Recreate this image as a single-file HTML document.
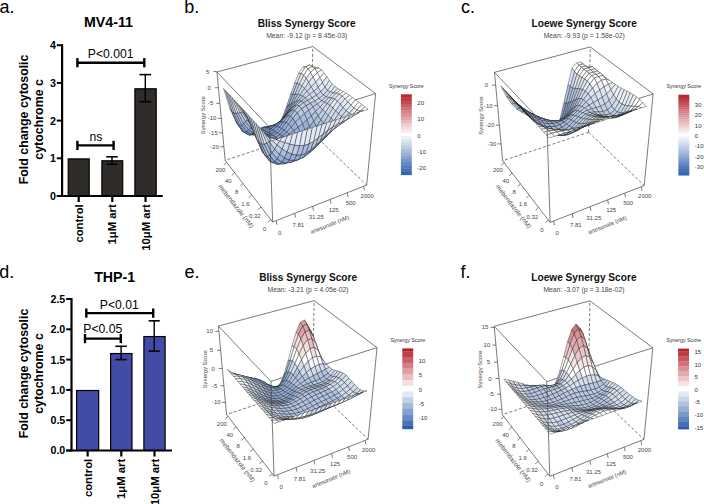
<!DOCTYPE html>
<html><head><meta charset="utf-8"><style>
html,body{margin:0;padding:0;background:#fff;width:704px;height:504px;overflow:hidden}
svg{display:block}
text{font-family:"Liberation Sans",sans-serif}
</style></head><body>
<svg width="704" height="504" viewBox="0 0 704 504">
<rect width="704" height="504" fill="#fff"/>
<text x="-0.60" y="12.90" font-size="18" font-weight="normal" text-anchor="start" fill="#000">a.</text>
<text x="184.20" y="12.60" font-size="18" font-weight="normal" text-anchor="start" fill="#000">b.</text>
<text x="461.00" y="12.80" font-size="18" font-weight="normal" text-anchor="start" fill="#000">c.</text>
<text x="-0.80" y="277.60" font-size="18" font-weight="normal" text-anchor="start" fill="#000">d.</text>
<text x="184.50" y="277.60" font-size="18" font-weight="normal" text-anchor="start" fill="#000">e.</text>
<text x="460.60" y="277.60" font-size="18" font-weight="normal" text-anchor="start" fill="#000">f.</text>
<line x1="56.80" y1="196.00" x2="62.10" y2="196.00" stroke="#000" stroke-width="2"/>
<text x="55.90" y="199.90" font-size="10.7" font-weight="bold" text-anchor="end" fill="#000">0</text>
<line x1="56.80" y1="158.30" x2="62.10" y2="158.30" stroke="#000" stroke-width="2"/>
<text x="55.90" y="162.20" font-size="10.7" font-weight="bold" text-anchor="end" fill="#000">1</text>
<line x1="56.80" y1="120.60" x2="62.10" y2="120.60" stroke="#000" stroke-width="2"/>
<text x="55.90" y="124.50" font-size="10.7" font-weight="bold" text-anchor="end" fill="#000">2</text>
<line x1="56.80" y1="82.90" x2="62.10" y2="82.90" stroke="#000" stroke-width="2"/>
<text x="55.90" y="86.80" font-size="10.7" font-weight="bold" text-anchor="end" fill="#000">3</text>
<line x1="56.80" y1="45.20" x2="62.10" y2="45.20" stroke="#000" stroke-width="2"/>
<text x="55.90" y="49.10" font-size="10.7" font-weight="bold" text-anchor="end" fill="#000">4</text>
<rect x="68.20" y="158.90" width="21.00" height="37.10" fill="#302c29" stroke="#000" stroke-width="1.2"/>
<rect x="101.90" y="160.78" width="20.80" height="35.21" fill="#302c29" stroke="#000" stroke-width="1.2"/>
<rect x="134.90" y="88.78" width="21.30" height="107.22" fill="#302c29" stroke="#000" stroke-width="1.2"/>
<line x1="112.00" y1="156.79" x2="112.00" y2="164.33" stroke="#000" stroke-width="1.4"/>
<line x1="106.30" y1="156.79" x2="117.70" y2="156.79" stroke="#000" stroke-width="1.6"/>
<line x1="106.30" y1="164.33" x2="117.70" y2="164.33" stroke="#000" stroke-width="1.6"/>
<line x1="145.30" y1="74.61" x2="145.30" y2="101.75" stroke="#000" stroke-width="1.4"/>
<line x1="139.45" y1="74.61" x2="151.15" y2="74.61" stroke="#000" stroke-width="1.6"/>
<line x1="139.45" y1="101.75" x2="151.15" y2="101.75" stroke="#000" stroke-width="1.6"/>
<line x1="62.10" y1="44.20" x2="62.10" y2="197.00" stroke="#000" stroke-width="2.2"/>
<line x1="56.80" y1="196.00" x2="162.80" y2="196.00" stroke="#000" stroke-width="2.2"/>
<line x1="78.70" y1="196.00" x2="78.70" y2="202.00" stroke="#000" stroke-width="2.2"/>
<line x1="112.30" y1="196.00" x2="112.30" y2="202.00" stroke="#000" stroke-width="2.2"/>
<line x1="145.55" y1="196.00" x2="145.55" y2="202.00" stroke="#000" stroke-width="2.2"/>
<line x1="77.40" y1="145.40" x2="113.60" y2="145.40" stroke="#000" stroke-width="2.4"/>
<line x1="77.40" y1="140.80" x2="77.40" y2="150.00" stroke="#000" stroke-width="2.4"/>
<line x1="113.60" y1="140.80" x2="113.60" y2="150.00" stroke="#000" stroke-width="2.4"/>
<text x="89.60" y="140.60" font-size="12.2" font-weight="normal" text-anchor="start" fill="#000">ns</text>
<line x1="77.40" y1="62.70" x2="144.30" y2="62.70" stroke="#000" stroke-width="2.4"/>
<line x1="77.40" y1="58.10" x2="77.40" y2="67.30" stroke="#000" stroke-width="2.4"/>
<line x1="144.30" y1="58.10" x2="144.30" y2="67.30" stroke="#000" stroke-width="2.4"/>
<text x="87.80" y="58.20" font-size="12.2" font-weight="normal" text-anchor="start" fill="#000">P&lt;0.001</text>
<text x="84.00" y="27.30" font-size="14.2" font-weight="bold" text-anchor="start" fill="#000">MV4-11</text>
<text x="28.30" y="119.40" font-size="12.35" font-weight="bold" text-anchor="middle" fill="#000" transform="rotate(-90 28.3 119.4)">Fold change cytosolic</text>
<text x="43.30" y="119.40" font-size="12.4" font-weight="bold" text-anchor="middle" fill="#000" transform="rotate(-90 43.3 119.4)">cytochrome c</text>
<text x="82.80" y="204.30" font-size="11.3" font-weight="bold" text-anchor="end" fill="#000" transform="rotate(-90 82.79999999999998 204.3)">control</text>
<text x="116.40" y="204.30" font-size="11.3" font-weight="bold" text-anchor="end" fill="#000" transform="rotate(-90 116.39999999999999 204.3)">1μM art</text>
<text x="149.65" y="204.30" font-size="11.3" font-weight="bold" text-anchor="end" fill="#000" transform="rotate(-90 149.65 204.3)">10μM art</text>
<line x1="66.20" y1="450.50" x2="71.50" y2="450.50" stroke="#000" stroke-width="2"/>
<text x="65.30" y="454.40" font-size="10.7" font-weight="bold" text-anchor="end" fill="#000">0.0</text>
<line x1="66.20" y1="420.20" x2="71.50" y2="420.20" stroke="#000" stroke-width="2"/>
<text x="65.30" y="424.10" font-size="10.7" font-weight="bold" text-anchor="end" fill="#000">0.5</text>
<line x1="66.20" y1="389.90" x2="71.50" y2="389.90" stroke="#000" stroke-width="2"/>
<text x="65.30" y="393.80" font-size="10.7" font-weight="bold" text-anchor="end" fill="#000">1.0</text>
<line x1="66.20" y1="359.60" x2="71.50" y2="359.60" stroke="#000" stroke-width="2"/>
<text x="65.30" y="363.50" font-size="10.7" font-weight="bold" text-anchor="end" fill="#000">1.5</text>
<line x1="66.20" y1="329.30" x2="71.50" y2="329.30" stroke="#000" stroke-width="2"/>
<text x="65.30" y="333.20" font-size="10.7" font-weight="bold" text-anchor="end" fill="#000">2.0</text>
<line x1="66.20" y1="299.00" x2="71.50" y2="299.00" stroke="#000" stroke-width="2"/>
<text x="65.30" y="302.90" font-size="10.7" font-weight="bold" text-anchor="end" fill="#000">2.5</text>
<rect x="76.60" y="390.50" width="22.10" height="60.00" fill="#424ba6" stroke="#000" stroke-width="1.2"/>
<rect x="110.60" y="353.53" width="21.40" height="96.97" fill="#424ba6" stroke="#000" stroke-width="1.2"/>
<rect x="143.90" y="336.57" width="21.20" height="113.93" fill="#424ba6" stroke="#000" stroke-width="1.2"/>
<line x1="121.10" y1="346.27" x2="121.10" y2="359.60" stroke="#000" stroke-width="1.4"/>
<line x1="115.40" y1="346.27" x2="126.80" y2="346.27" stroke="#000" stroke-width="1.6"/>
<line x1="115.40" y1="359.60" x2="126.80" y2="359.60" stroke="#000" stroke-width="1.6"/>
<line x1="154.20" y1="320.82" x2="154.20" y2="351.12" stroke="#000" stroke-width="1.4"/>
<line x1="148.65" y1="320.82" x2="159.75" y2="320.82" stroke="#000" stroke-width="1.6"/>
<line x1="148.65" y1="351.12" x2="159.75" y2="351.12" stroke="#000" stroke-width="1.6"/>
<line x1="71.50" y1="298.00" x2="71.50" y2="451.50" stroke="#000" stroke-width="2.2"/>
<line x1="66.20" y1="450.50" x2="171.90" y2="450.50" stroke="#000" stroke-width="2.2"/>
<line x1="87.65" y1="450.50" x2="87.65" y2="456.50" stroke="#000" stroke-width="2.2"/>
<line x1="121.30" y1="450.50" x2="121.30" y2="456.50" stroke="#000" stroke-width="2.2"/>
<line x1="154.50" y1="450.50" x2="154.50" y2="456.50" stroke="#000" stroke-width="2.2"/>
<line x1="85.00" y1="338.60" x2="120.80" y2="338.60" stroke="#000" stroke-width="2.4"/>
<line x1="85.00" y1="334.00" x2="85.00" y2="343.20" stroke="#000" stroke-width="2.4"/>
<line x1="120.80" y1="334.00" x2="120.80" y2="343.20" stroke="#000" stroke-width="2.4"/>
<text x="83.30" y="332.90" font-size="12.2" font-weight="normal" text-anchor="start" fill="#000">P&lt;0.05</text>
<line x1="86.30" y1="313.10" x2="153.20" y2="313.10" stroke="#000" stroke-width="2.4"/>
<line x1="86.30" y1="308.50" x2="86.30" y2="317.70" stroke="#000" stroke-width="2.4"/>
<line x1="153.20" y1="308.50" x2="153.20" y2="317.70" stroke="#000" stroke-width="2.4"/>
<text x="99.80" y="308.50" font-size="12.2" font-weight="normal" text-anchor="start" fill="#000">P&lt;0.01</text>
<text x="94.20" y="281.50" font-size="14.2" font-weight="bold" text-anchor="start" fill="#000">THP-1</text>
<text x="28.30" y="373.50" font-size="12.35" font-weight="bold" text-anchor="middle" fill="#000" transform="rotate(-90 28.3 373.5)">Fold change cytosolic</text>
<text x="43.30" y="373.50" font-size="12.4" font-weight="bold" text-anchor="middle" fill="#000" transform="rotate(-90 43.3 373.5)">cytochrome c</text>
<text x="91.75" y="458.80" font-size="11.3" font-weight="bold" text-anchor="end" fill="#000" transform="rotate(-90 91.75 458.8)">control</text>
<text x="125.40" y="458.80" font-size="11.3" font-weight="bold" text-anchor="end" fill="#000" transform="rotate(-90 125.39999999999999 458.8)">1μM art</text>
<text x="158.60" y="458.80" font-size="11.3" font-weight="bold" text-anchor="end" fill="#000" transform="rotate(-90 158.6 458.8)">10μM art</text>
<text x="306.70" y="27.00" font-size="10.15" font-weight="bold" text-anchor="middle" fill="#111">Bliss Synergy Score</text>
<text x="306.70" y="37.60" font-size="6.8" text-anchor="middle" fill="#4a4a4a">Mean: -9.12 (p = 8.45e-03)</text>
<line x1="311.06" y1="131.82" x2="312.76" y2="46.54" stroke="#444" stroke-width="0.7" stroke-dasharray="3,2"/>
<line x1="311.06" y1="131.82" x2="225.16" y2="160.38" stroke="#444" stroke-width="0.7" stroke-dasharray="3,2"/>
<line x1="311.06" y1="131.82" x2="366.71" y2="185.12" stroke="#444" stroke-width="0.7" stroke-dasharray="3,2"/>
<line x1="216.98" y1="71.97" x2="312.76" y2="46.54" stroke="#444" stroke-width="0.7"/>
<line x1="312.76" y1="46.54" x2="375.62" y2="93.51" stroke="#444" stroke-width="0.7"/>
<line x1="375.62" y1="93.51" x2="269.54" y2="127.30" stroke="#444" stroke-width="0.7"/>
<line x1="269.54" y1="127.30" x2="216.98" y2="71.97" stroke="#444" stroke-width="0.7"/>
<line x1="225.16" y1="160.38" x2="216.98" y2="71.97" stroke="#444" stroke-width="0.7"/>
<line x1="366.71" y1="185.12" x2="375.62" y2="93.51" stroke="#444" stroke-width="0.7"/>
<line x1="272.63" y1="221.99" x2="366.71" y2="185.12" stroke="#444" stroke-width="0.7"/>
<line x1="272.63" y1="221.99" x2="225.16" y2="160.38" stroke="#444" stroke-width="0.7"/>
<polygon points="276.7,125.5 280.8,122.0 278.6,124.2 274.6,127.8" fill="#6a8dc4" stroke="#111" stroke-width="0.38" stroke-linejoin="round"/>
<polygon points="280.8,122.0 284.8,115.0 282.6,116.8 278.6,124.2" fill="#6a8dc4" stroke="#111" stroke-width="0.38" stroke-linejoin="round"/>
<polygon points="272.6,126.6 276.7,125.5 274.6,127.8 270.5,128.5" fill="#5b82be" stroke="#111" stroke-width="0.38" stroke-linejoin="round"/>
<polygon points="268.4,126.6 272.6,126.6 270.5,128.5 266.3,127.9" fill="#6a8dc4" stroke="#111" stroke-width="0.38" stroke-linejoin="round"/>
<polygon points="284.8,115.0 288.8,105.3 286.5,106.4 282.6,116.8" fill="#89a4d0" stroke="#111" stroke-width="0.38" stroke-linejoin="round"/>
<polygon points="264.2,127.0 268.4,126.6 266.3,127.9 262.1,127.5" fill="#6a8dc4" stroke="#111" stroke-width="0.38" stroke-linejoin="round"/>
<polygon points="278.9,123.0 283.0,119.2 280.8,122.0 276.7,125.5" fill="#6a8dc4" stroke="#111" stroke-width="0.38" stroke-linejoin="round"/>
<polygon points="283.0,119.2 287.1,112.6 284.8,115.0 280.8,122.0" fill="#7998ca" stroke="#111" stroke-width="0.38" stroke-linejoin="round"/>
<polygon points="274.7,124.8 278.9,123.0 276.7,125.5 272.6,126.6" fill="#6a8dc4" stroke="#111" stroke-width="0.38" stroke-linejoin="round"/>
<polygon points="288.8,105.3 292.9,94.1 290.6,94.6 286.5,106.4" fill="#99b1d6" stroke="#111" stroke-width="0.38" stroke-linejoin="round"/>
<polygon points="260.0,129.0 264.2,127.0 262.1,127.5 257.9,128.5" fill="#6a8dc4" stroke="#111" stroke-width="0.38" stroke-linejoin="round"/>
<polygon points="270.5,125.8 274.7,124.8 272.6,126.6 268.4,126.6" fill="#6a8dc4" stroke="#111" stroke-width="0.38" stroke-linejoin="round"/>
<polygon points="255.8,131.6 260.0,129.0 257.9,128.5 253.7,130.1" fill="#6a8dc4" stroke="#111" stroke-width="0.38" stroke-linejoin="round"/>
<polygon points="287.1,112.6 291.2,103.9 288.8,105.3 284.8,115.0" fill="#89a4d0" stroke="#111" stroke-width="0.38" stroke-linejoin="round"/>
<polygon points="251.6,133.7 255.8,131.6 253.7,130.1 249.5,131.3" fill="#6a8dc4" stroke="#111" stroke-width="0.38" stroke-linejoin="round"/>
<polygon points="266.3,127.2 270.5,125.8 268.4,126.6 264.2,127.0" fill="#6a8dc4" stroke="#111" stroke-width="0.38" stroke-linejoin="round"/>
<polygon points="292.9,94.1 297.1,83.0 294.7,82.9 290.6,94.6" fill="#bbcbe4" stroke="#111" stroke-width="0.38" stroke-linejoin="round"/>
<polygon points="309.7,65.0 313.7,69.4 311.1,73.7 307.1,66.7" fill="#e3e9f4" stroke="#111" stroke-width="0.38" stroke-linejoin="round"/>
<polygon points="247.2,134.0 251.6,133.7 249.5,131.3 245.1,130.9" fill="#6a8dc4" stroke="#111" stroke-width="0.38" stroke-linejoin="round"/>
<polygon points="291.2,103.9 295.3,94.0 292.9,94.1 288.8,105.3" fill="#a9bddd" stroke="#111" stroke-width="0.38" stroke-linejoin="round"/>
<polygon points="262.1,129.6 266.3,127.2 264.2,127.0 260.0,129.0" fill="#6a8dc4" stroke="#111" stroke-width="0.38" stroke-linejoin="round"/>
<polygon points="281.1,120.4 285.2,116.1 283.0,119.2 278.9,123.0" fill="#7998ca" stroke="#111" stroke-width="0.38" stroke-linejoin="round"/>
<polygon points="276.9,123.3 281.1,120.4 278.9,123.0 274.7,124.8" fill="#7998ca" stroke="#111" stroke-width="0.38" stroke-linejoin="round"/>
<polygon points="285.2,116.1 289.4,110.0 287.1,112.6 283.0,119.2" fill="#89a4d0" stroke="#111" stroke-width="0.38" stroke-linejoin="round"/>
<polygon points="257.9,132.5 262.1,129.6 260.0,129.0 255.8,131.6" fill="#6a8dc4" stroke="#111" stroke-width="0.38" stroke-linejoin="round"/>
<polygon points="253.6,134.7 257.9,132.5 255.8,131.6 251.6,133.7" fill="#6a8dc4" stroke="#111" stroke-width="0.38" stroke-linejoin="round"/>
<polygon points="297.1,83.0 301.3,73.3 298.8,73.1 294.7,82.9" fill="#e3e9f4" stroke="#111" stroke-width="0.38" stroke-linejoin="round"/>
<polygon points="272.7,125.5 276.9,123.3 274.7,124.8 270.5,125.8" fill="#7998ca" stroke="#111" stroke-width="0.38" stroke-linejoin="round"/>
<polygon points="289.4,110.0 293.5,102.5 291.2,103.9 287.1,112.6" fill="#99b1d6" stroke="#111" stroke-width="0.38" stroke-linejoin="round"/>
<polygon points="305.5,66.8 309.7,65.0 307.1,66.7 303.0,67.1" fill="#ffffff" stroke="#111" stroke-width="0.38" stroke-linejoin="round"/>
<polygon points="242.6,131.4 247.2,134.0 245.1,130.9 240.5,127.8" fill="#6a8dc4" stroke="#111" stroke-width="0.38" stroke-linejoin="round"/>
<polygon points="295.3,94.0 299.5,84.0 297.1,83.0 292.9,94.1" fill="#bbcbe4" stroke="#111" stroke-width="0.38" stroke-linejoin="round"/>
<polygon points="249.3,135.0 253.6,134.7 251.6,133.7 247.2,134.0" fill="#6a8dc4" stroke="#111" stroke-width="0.38" stroke-linejoin="round"/>
<polygon points="268.5,127.8 272.7,125.5 270.5,125.8 266.3,127.2" fill="#7998ca" stroke="#111" stroke-width="0.38" stroke-linejoin="round"/>
<polygon points="301.3,73.3 305.5,66.8 303.0,67.1 298.8,73.1" fill="#ffffff" stroke="#111" stroke-width="0.38" stroke-linejoin="round"/>
<polygon points="312.2,66.4 316.3,67.7 313.7,69.4 309.7,65.0" fill="#ffffff" stroke="#111" stroke-width="0.38" stroke-linejoin="round"/>
<polygon points="264.3,130.5 268.5,127.8 266.3,127.2 262.1,129.6" fill="#7998ca" stroke="#111" stroke-width="0.38" stroke-linejoin="round"/>
<polygon points="293.5,102.5 297.7,94.2 295.3,94.0 291.2,103.9" fill="#a9bddd" stroke="#111" stroke-width="0.38" stroke-linejoin="round"/>
<polygon points="260.0,133.1 264.3,130.5 262.1,129.6 257.9,132.5" fill="#6a8dc4" stroke="#111" stroke-width="0.38" stroke-linejoin="round"/>
<polygon points="299.5,84.0 303.8,75.2 301.3,73.3 297.1,83.0" fill="#e3e9f4" stroke="#111" stroke-width="0.38" stroke-linejoin="round"/>
<polygon points="255.7,134.7 260.0,133.1 257.9,132.5 253.6,134.7" fill="#6a8dc4" stroke="#111" stroke-width="0.38" stroke-linejoin="round"/>
<polygon points="283.4,118.1 287.6,113.3 285.2,116.1 281.1,120.4" fill="#89a4d0" stroke="#111" stroke-width="0.38" stroke-linejoin="round"/>
<polygon points="244.7,132.4 249.3,135.0 247.2,134.0 242.6,131.4" fill="#6a8dc4" stroke="#111" stroke-width="0.38" stroke-linejoin="round"/>
<polygon points="279.2,122.1 283.4,118.1 281.1,120.4 276.9,123.3" fill="#89a4d0" stroke="#111" stroke-width="0.38" stroke-linejoin="round"/>
<polygon points="308.0,68.7 312.2,66.4 309.7,65.0 305.5,66.8" fill="#ffffff" stroke="#111" stroke-width="0.38" stroke-linejoin="round"/>
<polygon points="287.6,113.3 291.8,107.6 289.4,110.0 285.2,116.1" fill="#99b1d6" stroke="#111" stroke-width="0.38" stroke-linejoin="round"/>
<polygon points="274.9,125.7 279.2,122.1 276.9,123.3 272.7,125.5" fill="#7998ca" stroke="#111" stroke-width="0.38" stroke-linejoin="round"/>
<polygon points="297.7,94.2 302.0,85.9 299.5,84.0 295.3,94.0" fill="#ced9eb" stroke="#111" stroke-width="0.38" stroke-linejoin="round"/>
<polygon points="303.8,75.2 308.0,68.7 305.5,66.8 301.3,73.3" fill="#ffffff" stroke="#111" stroke-width="0.38" stroke-linejoin="round"/>
<polygon points="270.7,128.8 274.9,125.7 272.7,125.5 268.5,127.8" fill="#7998ca" stroke="#111" stroke-width="0.38" stroke-linejoin="round"/>
<polygon points="251.3,134.5 255.7,134.7 253.6,134.7 249.3,135.0" fill="#6a8dc4" stroke="#111" stroke-width="0.38" stroke-linejoin="round"/>
<polygon points="314.8,68.6 319.0,68.0 316.3,67.7 312.2,66.4" fill="#ffffff" stroke="#111" stroke-width="0.38" stroke-linejoin="round"/>
<polygon points="291.8,107.6 296.0,101.4 293.5,102.5 289.4,110.0" fill="#a9bddd" stroke="#111" stroke-width="0.38" stroke-linejoin="round"/>
<polygon points="237.7,124.5 242.6,131.4 240.5,127.8 235.5,120.8" fill="#7998ca" stroke="#111" stroke-width="0.38" stroke-linejoin="round"/>
<polygon points="266.4,131.6 270.7,128.8 268.5,127.8 264.3,130.5" fill="#7998ca" stroke="#111" stroke-width="0.38" stroke-linejoin="round"/>
<polygon points="302.0,85.9 306.3,78.3 303.8,75.2 299.5,84.0" fill="#e3e9f4" stroke="#111" stroke-width="0.38" stroke-linejoin="round"/>
<polygon points="296.0,101.4 300.2,94.9 297.7,94.2 293.5,102.5" fill="#bbcbe4" stroke="#111" stroke-width="0.38" stroke-linejoin="round"/>
<polygon points="262.1,133.6 266.4,131.6 264.3,130.5 260.0,133.1" fill="#7998ca" stroke="#111" stroke-width="0.38" stroke-linejoin="round"/>
<polygon points="310.5,72.3 314.8,68.6 312.2,66.4 308.0,68.7" fill="#ffffff" stroke="#111" stroke-width="0.38" stroke-linejoin="round"/>
<polygon points="306.3,78.3 310.5,72.3 308.0,68.7 303.8,75.2" fill="#ffffff" stroke="#111" stroke-width="0.38" stroke-linejoin="round"/>
<polygon points="257.8,134.3 262.1,133.6 260.0,133.1 255.7,134.7" fill="#7998ca" stroke="#111" stroke-width="0.38" stroke-linejoin="round"/>
<polygon points="300.2,94.9 304.5,88.4 302.0,85.9 297.7,94.2" fill="#ced9eb" stroke="#111" stroke-width="0.38" stroke-linejoin="round"/>
<polygon points="246.6,131.6 251.3,134.5 249.3,135.0 244.7,132.4" fill="#7998ca" stroke="#111" stroke-width="0.38" stroke-linejoin="round"/>
<polygon points="317.3,72.7 321.6,69.9 319.0,68.0 314.8,68.6" fill="#ffffff" stroke="#111" stroke-width="0.38" stroke-linejoin="round"/>
<polygon points="239.7,125.6 244.7,132.4 242.6,131.4 237.7,124.5" fill="#7998ca" stroke="#111" stroke-width="0.38" stroke-linejoin="round"/>
<polygon points="277.2,126.3 281.4,121.6 279.2,122.1 274.9,125.7" fill="#89a4d0" stroke="#111" stroke-width="0.38" stroke-linejoin="round"/>
<polygon points="281.4,121.6 285.7,116.4 283.4,118.1 279.2,122.1" fill="#89a4d0" stroke="#111" stroke-width="0.38" stroke-linejoin="round"/>
<polygon points="304.5,88.4 308.8,82.3 306.3,78.3 302.0,85.9" fill="#e3e9f4" stroke="#111" stroke-width="0.38" stroke-linejoin="round"/>
<polygon points="273.0,130.1 277.2,126.3 274.9,125.7 270.7,128.8" fill="#7998ca" stroke="#111" stroke-width="0.38" stroke-linejoin="round"/>
<polygon points="285.7,116.4 289.9,111.0 287.6,113.3 283.4,118.1" fill="#99b1d6" stroke="#111" stroke-width="0.38" stroke-linejoin="round"/>
<polygon points="313.1,77.0 317.3,72.7 314.8,68.6 310.5,72.3" fill="#ffffff" stroke="#111" stroke-width="0.38" stroke-linejoin="round"/>
<polygon points="268.7,132.8 273.0,130.1 270.7,128.8 266.4,131.6" fill="#7998ca" stroke="#111" stroke-width="0.38" stroke-linejoin="round"/>
<polygon points="308.8,82.3 313.1,77.0 310.5,72.3 306.3,78.3" fill="#e3e9f4" stroke="#111" stroke-width="0.38" stroke-linejoin="round"/>
<polygon points="289.9,111.0 294.2,105.9 291.8,107.6 287.6,113.3" fill="#a9bddd" stroke="#111" stroke-width="0.38" stroke-linejoin="round"/>
<polygon points="253.2,133.2 257.8,134.3 255.7,134.7 251.3,134.5" fill="#7998ca" stroke="#111" stroke-width="0.38" stroke-linejoin="round"/>
<polygon points="294.2,105.9 298.5,100.9 296.0,101.4 291.8,107.6" fill="#a9bddd" stroke="#111" stroke-width="0.38" stroke-linejoin="round"/>
<polygon points="319.9,77.6 324.2,73.0 321.6,69.9 317.3,72.7" fill="#ffffff" stroke="#111" stroke-width="0.38" stroke-linejoin="round"/>
<polygon points="264.3,134.0 268.7,132.8 266.4,131.6 262.1,133.6" fill="#7998ca" stroke="#111" stroke-width="0.38" stroke-linejoin="round"/>
<polygon points="298.5,100.9 302.7,96.1 300.2,94.9 296.0,101.4" fill="#bbcbe4" stroke="#111" stroke-width="0.38" stroke-linejoin="round"/>
<polygon points="302.7,96.1 307.0,91.3 304.5,88.4 300.2,94.9" fill="#ced9eb" stroke="#111" stroke-width="0.38" stroke-linejoin="round"/>
<polygon points="315.6,82.2 319.9,77.6 317.3,72.7 313.1,77.0" fill="#ffffff" stroke="#111" stroke-width="0.38" stroke-linejoin="round"/>
<polygon points="307.0,91.3 311.3,86.7 308.8,82.3 304.5,88.4" fill="#ced9eb" stroke="#111" stroke-width="0.38" stroke-linejoin="round"/>
<polygon points="311.3,86.7 315.6,82.2 313.1,77.0 308.8,82.3" fill="#e3e9f4" stroke="#111" stroke-width="0.38" stroke-linejoin="round"/>
<polygon points="259.9,133.8 264.3,134.0 262.1,133.6 257.8,134.3" fill="#7998ca" stroke="#111" stroke-width="0.38" stroke-linejoin="round"/>
<polygon points="322.5,82.6 326.8,76.6 324.2,73.0 319.9,77.6" fill="#ffffff" stroke="#111" stroke-width="0.38" stroke-linejoin="round"/>
<polygon points="275.3,131.6 279.5,127.2 277.2,126.3 273.0,130.1" fill="#89a4d0" stroke="#111" stroke-width="0.38" stroke-linejoin="round"/>
<polygon points="318.1,87.3 322.5,82.6 319.9,77.6 315.6,82.2" fill="#e3e9f4" stroke="#111" stroke-width="0.38" stroke-linejoin="round"/>
<polygon points="279.5,127.2 283.8,121.6 281.4,121.6 277.2,126.3" fill="#89a4d0" stroke="#111" stroke-width="0.38" stroke-linejoin="round"/>
<polygon points="241.6,124.9 246.6,131.6 244.7,132.4 239.7,125.6" fill="#89a4d0" stroke="#111" stroke-width="0.38" stroke-linejoin="round"/>
<polygon points="232.1,111.6 237.7,124.5 235.5,120.8 229.9,108.3" fill="#99b1d6" stroke="#111" stroke-width="0.38" stroke-linejoin="round"/>
<polygon points="313.8,91.2 318.1,87.3 315.6,82.2 311.3,86.7" fill="#e3e9f4" stroke="#111" stroke-width="0.38" stroke-linejoin="round"/>
<polygon points="271.0,134.1 275.3,131.6 273.0,130.1 268.7,132.8" fill="#7998ca" stroke="#111" stroke-width="0.38" stroke-linejoin="round"/>
<polygon points="248.5,129.7 253.2,133.2 251.3,134.5 246.6,131.6" fill="#7998ca" stroke="#111" stroke-width="0.38" stroke-linejoin="round"/>
<polygon points="309.6,94.6 313.8,91.2 311.3,86.7 307.0,91.3" fill="#ced9eb" stroke="#111" stroke-width="0.38" stroke-linejoin="round"/>
<polygon points="283.8,121.6 288.1,115.6 285.7,116.4 281.4,121.6" fill="#99b1d6" stroke="#111" stroke-width="0.38" stroke-linejoin="round"/>
<polygon points="305.3,97.8 309.6,94.6 307.0,91.3 302.7,96.1" fill="#ced9eb" stroke="#111" stroke-width="0.38" stroke-linejoin="round"/>
<polygon points="288.1,115.6 292.4,109.9 289.9,111.0 285.7,116.4" fill="#a9bddd" stroke="#111" stroke-width="0.38" stroke-linejoin="round"/>
<polygon points="266.6,134.8 271.0,134.1 268.7,132.8 264.3,134.0" fill="#7998ca" stroke="#111" stroke-width="0.38" stroke-linejoin="round"/>
<polygon points="320.7,91.8 325.1,87.0 322.5,82.6 318.1,87.3" fill="#e3e9f4" stroke="#111" stroke-width="0.38" stroke-linejoin="round"/>
<polygon points="301.0,101.2 305.3,97.8 302.7,96.1 298.5,100.9" fill="#bbcbe4" stroke="#111" stroke-width="0.38" stroke-linejoin="round"/>
<polygon points="325.1,87.0 329.5,80.4 326.8,76.6 322.5,82.6" fill="#e3e9f4" stroke="#111" stroke-width="0.38" stroke-linejoin="round"/>
<polygon points="292.4,109.9 296.7,105.2 294.2,105.9 289.9,111.0" fill="#a9bddd" stroke="#111" stroke-width="0.38" stroke-linejoin="round"/>
<polygon points="296.7,105.2 301.0,101.2 298.5,100.9 294.2,105.9" fill="#bbcbe4" stroke="#111" stroke-width="0.38" stroke-linejoin="round"/>
<polygon points="255.3,131.7 259.9,133.8 257.8,134.3 253.2,133.2" fill="#7998ca" stroke="#111" stroke-width="0.38" stroke-linejoin="round"/>
<polygon points="316.4,95.2 320.7,91.8 318.1,87.3 313.8,91.2" fill="#ced9eb" stroke="#111" stroke-width="0.38" stroke-linejoin="round"/>
<polygon points="312.1,97.9 316.4,95.2 313.8,91.2 309.6,94.6" fill="#ced9eb" stroke="#111" stroke-width="0.38" stroke-linejoin="round"/>
<polygon points="234.2,113.1 239.7,125.6 237.7,124.5 232.1,111.6" fill="#99b1d6" stroke="#111" stroke-width="0.38" stroke-linejoin="round"/>
<polygon points="277.6,133.1 281.9,128.5 279.5,127.2 275.3,131.6" fill="#89a4d0" stroke="#111" stroke-width="0.38" stroke-linejoin="round"/>
<polygon points="323.4,95.1 327.7,90.3 325.1,87.0 320.7,91.8" fill="#ced9eb" stroke="#111" stroke-width="0.38" stroke-linejoin="round"/>
<polygon points="262.0,133.7 266.6,134.8 264.3,134.0 259.9,133.8" fill="#7998ca" stroke="#111" stroke-width="0.38" stroke-linejoin="round"/>
<polygon points="273.3,135.6 277.6,133.1 275.3,131.6 271.0,134.1" fill="#7998ca" stroke="#111" stroke-width="0.38" stroke-linejoin="round"/>
<polygon points="327.7,90.3 332.2,83.8 329.5,80.4 325.1,87.0" fill="#e3e9f4" stroke="#111" stroke-width="0.38" stroke-linejoin="round"/>
<polygon points="307.8,100.2 312.1,97.9 309.6,94.6 305.3,97.8" fill="#ced9eb" stroke="#111" stroke-width="0.38" stroke-linejoin="round"/>
<polygon points="281.9,128.5 286.2,122.5 283.8,121.6 279.5,127.2" fill="#89a4d0" stroke="#111" stroke-width="0.38" stroke-linejoin="round"/>
<polygon points="319.0,98.5 323.4,95.1 320.7,91.8 316.4,95.2" fill="#ced9eb" stroke="#111" stroke-width="0.38" stroke-linejoin="round"/>
<polygon points="286.2,122.5 290.5,116.1 288.1,115.6 283.8,121.6" fill="#99b1d6" stroke="#111" stroke-width="0.38" stroke-linejoin="round"/>
<polygon points="303.5,102.7 307.8,100.2 305.3,97.8 301.0,101.2" fill="#bbcbe4" stroke="#111" stroke-width="0.38" stroke-linejoin="round"/>
<polygon points="314.7,101.1 319.0,98.5 316.4,95.2 312.1,97.9" fill="#ced9eb" stroke="#111" stroke-width="0.38" stroke-linejoin="round"/>
<polygon points="268.8,136.0 273.3,135.6 271.0,134.1 266.6,134.8" fill="#7998ca" stroke="#111" stroke-width="0.38" stroke-linejoin="round"/>
<polygon points="243.5,123.2 248.5,129.7 246.6,131.6 241.6,124.9" fill="#89a4d0" stroke="#111" stroke-width="0.38" stroke-linejoin="round"/>
<polygon points="299.2,106.0 303.5,102.7 301.0,101.2 296.7,105.2" fill="#bbcbe4" stroke="#111" stroke-width="0.38" stroke-linejoin="round"/>
<polygon points="290.5,116.1 294.8,110.4 292.4,109.9 288.1,115.6" fill="#a9bddd" stroke="#111" stroke-width="0.38" stroke-linejoin="round"/>
<polygon points="250.5,127.7 255.3,131.7 253.2,133.2 248.5,129.7" fill="#89a4d0" stroke="#111" stroke-width="0.38" stroke-linejoin="round"/>
<polygon points="294.8,110.4 299.2,106.0 296.7,105.2 292.4,109.9" fill="#bbcbe4" stroke="#111" stroke-width="0.38" stroke-linejoin="round"/>
<polygon points="326.1,96.8 330.5,92.1 327.7,90.3 323.4,95.1" fill="#ced9eb" stroke="#111" stroke-width="0.38" stroke-linejoin="round"/>
<polygon points="330.5,92.1 334.9,86.4 332.2,83.8 327.7,90.3" fill="#e3e9f4" stroke="#111" stroke-width="0.38" stroke-linejoin="round"/>
<polygon points="310.4,103.3 314.7,101.1 312.1,97.9 307.8,100.2" fill="#ced9eb" stroke="#111" stroke-width="0.38" stroke-linejoin="round"/>
<polygon points="257.4,130.8 262.0,133.7 259.9,133.8 255.3,131.7" fill="#89a4d0" stroke="#111" stroke-width="0.38" stroke-linejoin="round"/>
<polygon points="321.7,100.7 326.1,96.8 323.4,95.1 319.0,98.5" fill="#ced9eb" stroke="#111" stroke-width="0.38" stroke-linejoin="round"/>
<polygon points="280.0,134.6 284.3,130.1 281.9,128.5 277.6,133.1" fill="#89a4d0" stroke="#111" stroke-width="0.38" stroke-linejoin="round"/>
<polygon points="275.6,137.2 280.0,134.6 277.6,133.1 273.3,135.6" fill="#89a4d0" stroke="#111" stroke-width="0.38" stroke-linejoin="round"/>
<polygon points="236.1,113.3 241.6,124.9 239.7,125.6 234.2,113.1" fill="#a9bddd" stroke="#111" stroke-width="0.38" stroke-linejoin="round"/>
<polygon points="284.3,130.1 288.7,124.3 286.2,122.5 281.9,128.5" fill="#99b1d6" stroke="#111" stroke-width="0.38" stroke-linejoin="round"/>
<polygon points="264.3,134.5 268.8,136.0 266.6,134.8 262.0,133.7" fill="#89a4d0" stroke="#111" stroke-width="0.38" stroke-linejoin="round"/>
<polygon points="306.1,105.7 310.4,103.3 307.8,100.2 303.5,102.7" fill="#bbcbe4" stroke="#111" stroke-width="0.38" stroke-linejoin="round"/>
<polygon points="317.4,104.0 321.7,100.7 319.0,98.5 314.7,101.1" fill="#ced9eb" stroke="#111" stroke-width="0.38" stroke-linejoin="round"/>
<polygon points="288.7,124.3 293.0,118.3 290.5,116.1 286.2,122.5" fill="#99b1d6" stroke="#111" stroke-width="0.38" stroke-linejoin="round"/>
<polygon points="271.2,137.8 275.6,137.2 273.3,135.6 268.8,136.0" fill="#89a4d0" stroke="#111" stroke-width="0.38" stroke-linejoin="round"/>
<polygon points="301.7,108.7 306.1,105.7 303.5,102.7 299.2,106.0" fill="#bbcbe4" stroke="#111" stroke-width="0.38" stroke-linejoin="round"/>
<polygon points="313.0,107.1 317.4,104.0 314.7,101.1 310.4,103.3" fill="#bbcbe4" stroke="#111" stroke-width="0.38" stroke-linejoin="round"/>
<polygon points="293.0,118.3 297.4,112.8 294.8,110.4 290.5,116.1" fill="#a9bddd" stroke="#111" stroke-width="0.38" stroke-linejoin="round"/>
<polygon points="297.4,112.8 301.7,108.7 299.2,106.0 294.8,110.4" fill="#bbcbe4" stroke="#111" stroke-width="0.38" stroke-linejoin="round"/>
<polygon points="333.3,92.9 337.7,88.3 334.9,86.4 330.5,92.1" fill="#e3e9f4" stroke="#111" stroke-width="0.38" stroke-linejoin="round"/>
<polygon points="328.9,97.5 333.3,92.9 330.5,92.1 326.1,96.8" fill="#e3e9f4" stroke="#111" stroke-width="0.38" stroke-linejoin="round"/>
<polygon points="308.7,110.2 313.0,107.1 310.4,103.3 306.1,105.7" fill="#bbcbe4" stroke="#111" stroke-width="0.38" stroke-linejoin="round"/>
<polygon points="324.5,102.2 328.9,97.5 326.1,96.8 321.7,100.7" fill="#ced9eb" stroke="#111" stroke-width="0.38" stroke-linejoin="round"/>
<polygon points="282.4,136.0 286.8,131.9 284.3,130.1 280.0,134.6" fill="#89a4d0" stroke="#111" stroke-width="0.38" stroke-linejoin="round"/>
<polygon points="286.8,131.9 291.2,127.2 288.7,124.3 284.3,130.1" fill="#99b1d6" stroke="#111" stroke-width="0.38" stroke-linejoin="round"/>
<polygon points="225.7,90.7 232.1,111.6 229.9,108.3 223.5,88.5" fill="#ced9eb" stroke="#111" stroke-width="0.38" stroke-linejoin="round"/>
<polygon points="320.1,106.8 324.5,102.2 321.7,100.7 317.4,104.0" fill="#ced9eb" stroke="#111" stroke-width="0.38" stroke-linejoin="round"/>
<polygon points="278.0,138.9 282.4,136.0 280.0,134.6 275.6,137.2" fill="#89a4d0" stroke="#111" stroke-width="0.38" stroke-linejoin="round"/>
<polygon points="245.5,121.3 250.5,127.7 248.5,129.7 243.5,123.2" fill="#99b1d6" stroke="#111" stroke-width="0.38" stroke-linejoin="round"/>
<polygon points="304.3,113.6 308.7,110.2 306.1,105.7 301.7,108.7" fill="#bbcbe4" stroke="#111" stroke-width="0.38" stroke-linejoin="round"/>
<polygon points="252.5,126.3 257.4,130.8 255.3,131.7 250.5,127.7" fill="#99b1d6" stroke="#111" stroke-width="0.38" stroke-linejoin="round"/>
<polygon points="291.2,127.2 295.5,122.2 293.0,118.3 288.7,124.3" fill="#99b1d6" stroke="#111" stroke-width="0.38" stroke-linejoin="round"/>
<polygon points="315.6,111.3 320.1,106.8 317.4,104.0 313.0,107.1" fill="#bbcbe4" stroke="#111" stroke-width="0.38" stroke-linejoin="round"/>
<polygon points="259.6,131.3 264.3,134.5 262.0,133.7 257.4,130.8" fill="#89a4d0" stroke="#111" stroke-width="0.38" stroke-linejoin="round"/>
<polygon points="266.6,136.7 271.2,137.8 268.8,136.0 264.3,134.5" fill="#89a4d0" stroke="#111" stroke-width="0.38" stroke-linejoin="round"/>
<polygon points="299.9,117.6 304.3,113.6 301.7,108.7 297.4,112.8" fill="#bbcbe4" stroke="#111" stroke-width="0.38" stroke-linejoin="round"/>
<polygon points="295.5,122.2 299.9,117.6 297.4,112.8 293.0,118.3" fill="#a9bddd" stroke="#111" stroke-width="0.38" stroke-linejoin="round"/>
<polygon points="311.3,115.7 315.6,111.3 313.0,107.1 308.7,110.2" fill="#bbcbe4" stroke="#111" stroke-width="0.38" stroke-linejoin="round"/>
<polygon points="273.6,140.5 278.0,138.9 275.6,137.2 271.2,137.8" fill="#89a4d0" stroke="#111" stroke-width="0.38" stroke-linejoin="round"/>
<polygon points="238.1,112.9 243.5,123.2 241.6,124.9 236.1,113.3" fill="#a9bddd" stroke="#111" stroke-width="0.38" stroke-linejoin="round"/>
<polygon points="306.9,119.9 311.3,115.7 308.7,110.2 304.3,113.6" fill="#a9bddd" stroke="#111" stroke-width="0.38" stroke-linejoin="round"/>
<polygon points="302.5,123.8 306.9,119.9 304.3,113.6 299.9,117.6" fill="#a9bddd" stroke="#111" stroke-width="0.38" stroke-linejoin="round"/>
<polygon points="336.2,93.3 340.6,90.0 337.7,88.3 333.3,92.9" fill="#e3e9f4" stroke="#111" stroke-width="0.38" stroke-linejoin="round"/>
<polygon points="298.1,127.4 302.5,123.8 299.9,117.6 295.5,122.2" fill="#a9bddd" stroke="#111" stroke-width="0.38" stroke-linejoin="round"/>
<polygon points="293.7,130.8 298.1,127.4 295.5,122.2 291.2,127.2" fill="#99b1d6" stroke="#111" stroke-width="0.38" stroke-linejoin="round"/>
<polygon points="309.4,126.4 313.8,121.4 311.3,115.7 306.9,119.9" fill="#a9bddd" stroke="#111" stroke-width="0.38" stroke-linejoin="round"/>
<polygon points="313.8,121.4 318.3,115.6 315.6,111.3 311.3,115.7" fill="#a9bddd" stroke="#111" stroke-width="0.38" stroke-linejoin="round"/>
<polygon points="289.3,134.2 293.7,130.8 291.2,127.2 286.8,131.9" fill="#99b1d6" stroke="#111" stroke-width="0.38" stroke-linejoin="round"/>
<polygon points="331.7,98.0 336.2,93.3 333.3,92.9 328.9,97.5" fill="#e3e9f4" stroke="#111" stroke-width="0.38" stroke-linejoin="round"/>
<polygon points="318.3,115.6 322.8,109.6 320.1,106.8 315.6,111.3" fill="#bbcbe4" stroke="#111" stroke-width="0.38" stroke-linejoin="round"/>
<polygon points="305.0,130.4 309.4,126.4 306.9,119.9 302.5,123.8" fill="#99b1d6" stroke="#111" stroke-width="0.38" stroke-linejoin="round"/>
<polygon points="322.8,109.6 327.3,103.5 324.5,102.2 320.1,106.8" fill="#ced9eb" stroke="#111" stroke-width="0.38" stroke-linejoin="round"/>
<polygon points="327.3,103.5 331.7,98.0 328.9,97.5 324.5,102.2" fill="#ced9eb" stroke="#111" stroke-width="0.38" stroke-linejoin="round"/>
<polygon points="284.9,137.5 289.3,134.2 286.8,131.9 282.4,136.0" fill="#89a4d0" stroke="#111" stroke-width="0.38" stroke-linejoin="round"/>
<polygon points="227.8,93.1 234.2,113.1 232.1,111.6 225.7,90.7" fill="#ced9eb" stroke="#111" stroke-width="0.38" stroke-linejoin="round"/>
<polygon points="300.6,133.1 305.0,130.4 302.5,123.8 298.1,127.4" fill="#99b1d6" stroke="#111" stroke-width="0.38" stroke-linejoin="round"/>
<polygon points="280.4,140.9 284.9,137.5 282.4,136.0 278.0,138.9" fill="#89a4d0" stroke="#111" stroke-width="0.38" stroke-linejoin="round"/>
<polygon points="269.0,140.6 273.6,140.5 271.2,137.8 266.6,136.7" fill="#89a4d0" stroke="#111" stroke-width="0.38" stroke-linejoin="round"/>
<polygon points="307.6,136.3 312.0,132.2 309.4,126.4 305.0,130.4" fill="#99b1d6" stroke="#111" stroke-width="0.38" stroke-linejoin="round"/>
<polygon points="312.0,132.2 316.5,126.5 313.8,121.4 309.4,126.4" fill="#99b1d6" stroke="#111" stroke-width="0.38" stroke-linejoin="round"/>
<polygon points="261.9,133.8 266.6,136.7 264.3,134.5 259.6,131.3" fill="#99b1d6" stroke="#111" stroke-width="0.38" stroke-linejoin="round"/>
<polygon points="296.2,135.0 300.6,133.1 298.1,127.4 293.7,130.8" fill="#99b1d6" stroke="#111" stroke-width="0.38" stroke-linejoin="round"/>
<polygon points="316.5,126.5 321.0,119.7 318.3,115.6 313.8,121.4" fill="#a9bddd" stroke="#111" stroke-width="0.38" stroke-linejoin="round"/>
<polygon points="276.0,143.8 280.4,140.9 278.0,138.9 273.6,140.5" fill="#89a4d0" stroke="#111" stroke-width="0.38" stroke-linejoin="round"/>
<polygon points="303.2,138.5 307.6,136.3 305.0,130.4 300.6,133.1" fill="#89a4d0" stroke="#111" stroke-width="0.38" stroke-linejoin="round"/>
<polygon points="254.7,126.6 259.6,131.3 257.4,130.8 252.5,126.3" fill="#99b1d6" stroke="#111" stroke-width="0.38" stroke-linejoin="round"/>
<polygon points="310.2,140.7 314.6,136.4 312.0,132.2 307.6,136.3" fill="#89a4d0" stroke="#111" stroke-width="0.38" stroke-linejoin="round"/>
<polygon points="321.0,119.7 325.5,112.4 322.8,109.6 318.3,115.6" fill="#bbcbe4" stroke="#111" stroke-width="0.38" stroke-linejoin="round"/>
<polygon points="291.8,137.0 296.2,135.0 293.7,130.8 289.3,134.2" fill="#99b1d6" stroke="#111" stroke-width="0.38" stroke-linejoin="round"/>
<polygon points="314.6,136.4 319.1,130.3 316.5,126.5 312.0,132.2" fill="#99b1d6" stroke="#111" stroke-width="0.38" stroke-linejoin="round"/>
<polygon points="247.5,120.1 252.5,126.3 250.5,127.7 245.5,121.3" fill="#a9bddd" stroke="#111" stroke-width="0.38" stroke-linejoin="round"/>
<polygon points="339.1,94.2 343.5,91.6 340.6,90.0 336.2,93.3" fill="#ffffff" stroke="#111" stroke-width="0.38" stroke-linejoin="round"/>
<polygon points="271.5,145.6 276.0,143.8 273.6,140.5 269.0,140.6" fill="#89a4d0" stroke="#111" stroke-width="0.38" stroke-linejoin="round"/>
<polygon points="305.8,143.0 310.2,140.7 307.6,136.3 303.2,138.5" fill="#89a4d0" stroke="#111" stroke-width="0.38" stroke-linejoin="round"/>
<polygon points="298.8,139.5 303.2,138.5 300.6,133.1 296.2,135.0" fill="#89a4d0" stroke="#111" stroke-width="0.38" stroke-linejoin="round"/>
<polygon points="325.5,112.4 330.1,105.3 327.3,103.5 322.8,109.6" fill="#ced9eb" stroke="#111" stroke-width="0.38" stroke-linejoin="round"/>
<polygon points="287.4,139.7 291.8,137.0 289.3,134.2 284.9,137.5" fill="#89a4d0" stroke="#111" stroke-width="0.38" stroke-linejoin="round"/>
<polygon points="319.1,130.3 323.7,123.1 321.0,119.7 316.5,126.5" fill="#a9bddd" stroke="#111" stroke-width="0.38" stroke-linejoin="round"/>
<polygon points="334.6,99.0 339.1,94.2 336.2,93.3 331.7,98.0" fill="#e3e9f4" stroke="#111" stroke-width="0.38" stroke-linejoin="round"/>
<polygon points="330.1,105.3 334.6,99.0 331.7,98.0 327.3,103.5" fill="#ced9eb" stroke="#111" stroke-width="0.38" stroke-linejoin="round"/>
<polygon points="240.1,112.3 245.5,121.3 243.5,123.2 238.1,112.9" fill="#bbcbe4" stroke="#111" stroke-width="0.38" stroke-linejoin="round"/>
<polygon points="264.4,138.9 269.0,140.6 266.6,136.7 261.9,133.8" fill="#89a4d0" stroke="#111" stroke-width="0.38" stroke-linejoin="round"/>
<polygon points="282.9,143.5 287.4,139.7 284.9,137.5 280.4,140.9" fill="#89a4d0" stroke="#111" stroke-width="0.38" stroke-linejoin="round"/>
<polygon points="230.0,95.4 236.1,113.3 234.2,113.1 227.8,93.1" fill="#ced9eb" stroke="#111" stroke-width="0.38" stroke-linejoin="round"/>
<polygon points="278.5,147.7 282.9,143.5 280.4,140.9 276.0,143.8" fill="#89a4d0" stroke="#111" stroke-width="0.38" stroke-linejoin="round"/>
<polygon points="312.9,143.5 317.4,138.9 314.6,136.4 310.2,140.7" fill="#89a4d0" stroke="#111" stroke-width="0.38" stroke-linejoin="round"/>
<polygon points="301.4,144.0 305.8,143.0 303.2,138.5 298.8,139.5" fill="#89a4d0" stroke="#111" stroke-width="0.38" stroke-linejoin="round"/>
<polygon points="294.4,140.6 298.8,139.5 296.2,135.0 291.8,137.0" fill="#89a4d0" stroke="#111" stroke-width="0.38" stroke-linejoin="round"/>
<polygon points="323.7,123.1 328.3,115.4 325.5,112.4 321.0,119.7" fill="#bbcbe4" stroke="#111" stroke-width="0.38" stroke-linejoin="round"/>
<polygon points="274.0,151.0 278.5,147.7 276.0,143.8 271.5,145.6" fill="#7998ca" stroke="#111" stroke-width="0.38" stroke-linejoin="round"/>
<polygon points="317.4,138.9 321.9,132.8 319.1,130.3 314.6,136.4" fill="#99b1d6" stroke="#111" stroke-width="0.38" stroke-linejoin="round"/>
<polygon points="308.5,146.3 312.9,143.5 310.2,140.7 305.8,143.0" fill="#89a4d0" stroke="#111" stroke-width="0.38" stroke-linejoin="round"/>
<polygon points="266.9,145.6 271.5,145.6 269.0,140.6 264.4,138.9" fill="#89a4d0" stroke="#111" stroke-width="0.38" stroke-linejoin="round"/>
<polygon points="257.1,129.4 261.9,133.8 259.6,131.3 254.7,126.6" fill="#99b1d6" stroke="#111" stroke-width="0.38" stroke-linejoin="round"/>
<polygon points="328.3,115.4 332.9,107.8 330.1,105.3 325.5,112.4" fill="#ced9eb" stroke="#111" stroke-width="0.38" stroke-linejoin="round"/>
<polygon points="321.9,132.8 326.4,125.8 323.7,123.1 319.1,130.3" fill="#a9bddd" stroke="#111" stroke-width="0.38" stroke-linejoin="round"/>
<polygon points="289.9,142.8 294.4,140.6 291.8,137.0 287.4,139.7" fill="#89a4d0" stroke="#111" stroke-width="0.38" stroke-linejoin="round"/>
<polygon points="342.1,96.0 346.5,93.3 343.5,91.6 339.1,94.2" fill="#ffffff" stroke="#111" stroke-width="0.38" stroke-linejoin="round"/>
<polygon points="269.5,152.5 274.0,151.0 271.5,145.6 266.9,145.6" fill="#7998ca" stroke="#111" stroke-width="0.38" stroke-linejoin="round"/>
<polygon points="297.0,145.0 301.4,144.0 298.8,139.5 294.4,140.6" fill="#89a4d0" stroke="#111" stroke-width="0.38" stroke-linejoin="round"/>
<polygon points="276.5,156.1 281.0,151.8 278.5,147.7 274.0,151.0" fill="#7998ca" stroke="#111" stroke-width="0.38" stroke-linejoin="round"/>
<polygon points="281.0,151.8 285.4,146.9 282.9,143.5 278.5,147.7" fill="#89a4d0" stroke="#111" stroke-width="0.38" stroke-linejoin="round"/>
<polygon points="304.0,147.9 308.5,146.3 305.8,143.0 301.4,144.0" fill="#89a4d0" stroke="#111" stroke-width="0.38" stroke-linejoin="round"/>
<polygon points="285.4,146.9 289.9,142.8 287.4,139.7 282.9,143.5" fill="#89a4d0" stroke="#111" stroke-width="0.38" stroke-linejoin="round"/>
<polygon points="332.9,107.8 337.5,101.1 334.6,99.0 330.1,105.3" fill="#e3e9f4" stroke="#111" stroke-width="0.38" stroke-linejoin="round"/>
<polygon points="337.5,101.1 342.1,96.0 339.1,94.2 334.6,99.0" fill="#e3e9f4" stroke="#111" stroke-width="0.38" stroke-linejoin="round"/>
<polygon points="249.7,120.6 254.7,126.6 252.5,126.3 247.5,120.1" fill="#a9bddd" stroke="#111" stroke-width="0.38" stroke-linejoin="round"/>
<polygon points="272.0,158.4 276.5,156.1 274.0,151.0 269.5,152.5" fill="#7998ca" stroke="#111" stroke-width="0.38" stroke-linejoin="round"/>
<polygon points="326.4,125.8 331.1,118.2 328.3,115.4 323.7,123.1" fill="#bbcbe4" stroke="#111" stroke-width="0.38" stroke-linejoin="round"/>
<polygon points="232.2,97.8 238.1,112.9 236.1,113.3 230.0,95.4" fill="#e3e9f4" stroke="#111" stroke-width="0.38" stroke-linejoin="round"/>
<polygon points="315.6,144.5 320.1,139.8 317.4,138.9 312.9,143.5" fill="#89a4d0" stroke="#111" stroke-width="0.38" stroke-linejoin="round"/>
<polygon points="259.6,135.4 264.4,138.9 261.9,133.8 257.1,129.4" fill="#99b1d6" stroke="#111" stroke-width="0.38" stroke-linejoin="round"/>
<polygon points="320.1,139.8 324.7,134.0 321.9,132.8 317.4,138.9" fill="#99b1d6" stroke="#111" stroke-width="0.38" stroke-linejoin="round"/>
<polygon points="292.5,147.1 297.0,145.0 294.4,140.6 289.9,142.8" fill="#89a4d0" stroke="#111" stroke-width="0.38" stroke-linejoin="round"/>
<polygon points="311.2,148.0 315.6,144.5 312.9,143.5 308.5,146.3" fill="#89a4d0" stroke="#111" stroke-width="0.38" stroke-linejoin="round"/>
<polygon points="299.6,149.4 304.0,147.9 301.4,144.0 297.0,145.0" fill="#89a4d0" stroke="#111" stroke-width="0.38" stroke-linejoin="round"/>
<polygon points="279.0,160.1 283.5,155.9 281.0,151.8 276.5,156.1" fill="#7998ca" stroke="#111" stroke-width="0.38" stroke-linejoin="round"/>
<polygon points="331.1,118.2 335.7,110.8 332.9,107.8 328.3,115.4" fill="#ced9eb" stroke="#111" stroke-width="0.38" stroke-linejoin="round"/>
<polygon points="242.2,112.2 247.5,120.1 245.5,121.3 240.1,112.3" fill="#bbcbe4" stroke="#111" stroke-width="0.38" stroke-linejoin="round"/>
<polygon points="262.2,143.1 266.9,145.6 264.4,138.9 259.6,135.4" fill="#99b1d6" stroke="#111" stroke-width="0.38" stroke-linejoin="round"/>
<polygon points="283.5,155.9 288.0,151.0 285.4,146.9 281.0,151.8" fill="#7998ca" stroke="#111" stroke-width="0.38" stroke-linejoin="round"/>
<polygon points="288.0,151.0 292.5,147.1 289.9,142.8 285.4,146.9" fill="#89a4d0" stroke="#111" stroke-width="0.38" stroke-linejoin="round"/>
<polygon points="274.5,162.4 279.0,160.1 276.5,156.1 272.0,158.4" fill="#7998ca" stroke="#111" stroke-width="0.38" stroke-linejoin="round"/>
<polygon points="264.8,151.0 269.5,152.5 266.9,145.6 262.2,143.1" fill="#89a4d0" stroke="#111" stroke-width="0.38" stroke-linejoin="round"/>
<polygon points="345.0,98.7 349.5,95.3 346.5,93.3 342.1,96.0" fill="#ffffff" stroke="#111" stroke-width="0.38" stroke-linejoin="round"/>
<polygon points="324.7,134.0 329.3,127.5 326.4,125.8 321.9,132.8" fill="#a9bddd" stroke="#111" stroke-width="0.38" stroke-linejoin="round"/>
<polygon points="306.7,150.7 311.2,148.0 308.5,146.3 304.0,147.9" fill="#89a4d0" stroke="#111" stroke-width="0.38" stroke-linejoin="round"/>
<polygon points="267.3,157.5 272.0,158.4 269.5,152.5 264.8,151.0" fill="#7998ca" stroke="#111" stroke-width="0.38" stroke-linejoin="round"/>
<polygon points="335.7,110.8 340.4,104.1 337.5,101.1 332.9,107.8" fill="#e3e9f4" stroke="#111" stroke-width="0.38" stroke-linejoin="round"/>
<polygon points="340.4,104.1 345.0,98.7 342.1,96.0 337.5,101.1" fill="#e3e9f4" stroke="#111" stroke-width="0.38" stroke-linejoin="round"/>
<polygon points="295.1,151.7 299.6,149.4 297.0,145.0 292.5,147.1" fill="#89a4d0" stroke="#111" stroke-width="0.38" stroke-linejoin="round"/>
<polygon points="329.3,127.5 333.9,120.7 331.1,118.2 326.4,125.8" fill="#bbcbe4" stroke="#111" stroke-width="0.38" stroke-linejoin="round"/>
<polygon points="302.2,153.0 306.7,150.7 304.0,147.9 299.6,149.4" fill="#89a4d0" stroke="#111" stroke-width="0.38" stroke-linejoin="round"/>
<polygon points="290.6,155.3 295.1,151.7 292.5,147.1 288.0,151.0" fill="#89a4d0" stroke="#111" stroke-width="0.38" stroke-linejoin="round"/>
<polygon points="252.0,123.6 257.1,129.4 254.7,126.6 249.7,120.6" fill="#a9bddd" stroke="#111" stroke-width="0.38" stroke-linejoin="round"/>
<polygon points="281.5,162.8 286.1,159.4 283.5,155.9 279.0,160.1" fill="#7998ca" stroke="#111" stroke-width="0.38" stroke-linejoin="round"/>
<polygon points="286.1,159.4 290.6,155.3 288.0,151.0 283.5,155.9" fill="#7998ca" stroke="#111" stroke-width="0.38" stroke-linejoin="round"/>
<polygon points="269.8,161.3 274.5,162.4 272.0,158.4 267.3,157.5" fill="#7998ca" stroke="#111" stroke-width="0.38" stroke-linejoin="round"/>
<polygon points="333.9,120.7 338.6,113.9 335.7,110.8 331.1,118.2" fill="#ced9eb" stroke="#111" stroke-width="0.38" stroke-linejoin="round"/>
<polygon points="276.9,164.2 281.5,162.8 279.0,160.1 274.5,162.4" fill="#6a8dc4" stroke="#111" stroke-width="0.38" stroke-linejoin="round"/>
<polygon points="234.4,100.2 240.1,112.3 238.1,112.9 232.2,97.8" fill="#e3e9f4" stroke="#111" stroke-width="0.38" stroke-linejoin="round"/>
<polygon points="347.9,101.8 352.5,97.5 349.5,95.3 345.0,98.7" fill="#ffffff" stroke="#111" stroke-width="0.38" stroke-linejoin="round"/>
<polygon points="297.7,155.6 302.2,153.0 299.6,149.4 295.1,151.7" fill="#89a4d0" stroke="#111" stroke-width="0.38" stroke-linejoin="round"/>
<polygon points="338.6,113.9 343.3,107.4 340.4,104.1 335.7,110.8" fill="#ced9eb" stroke="#111" stroke-width="0.38" stroke-linejoin="round"/>
<polygon points="318.5,143.8 323.1,139.1 320.1,139.8 315.6,144.5" fill="#99b1d6" stroke="#111" stroke-width="0.38" stroke-linejoin="round"/>
<polygon points="314.0,148.0 318.5,143.8 315.6,144.5 311.2,148.0" fill="#89a4d0" stroke="#111" stroke-width="0.38" stroke-linejoin="round"/>
<polygon points="343.3,107.4 347.9,101.8 345.0,98.7 340.4,104.1" fill="#e3e9f4" stroke="#111" stroke-width="0.38" stroke-linejoin="round"/>
<polygon points="323.1,139.1 327.6,133.8 324.7,134.0 320.1,139.8" fill="#99b1d6" stroke="#111" stroke-width="0.38" stroke-linejoin="round"/>
<polygon points="327.6,133.8 332.2,128.2 329.3,127.5 324.7,134.0" fill="#a9bddd" stroke="#111" stroke-width="0.38" stroke-linejoin="round"/>
<polygon points="293.2,158.8 297.7,155.6 295.1,151.7 290.6,155.3" fill="#7998ca" stroke="#111" stroke-width="0.38" stroke-linejoin="round"/>
<polygon points="254.6,129.6 259.6,135.4 257.1,129.4 252.0,123.6" fill="#a9bddd" stroke="#111" stroke-width="0.38" stroke-linejoin="round"/>
<polygon points="309.4,151.7 314.0,148.0 311.2,148.0 306.7,150.7" fill="#89a4d0" stroke="#111" stroke-width="0.38" stroke-linejoin="round"/>
<polygon points="244.4,113.4 249.7,120.6 247.5,120.1 242.2,112.2" fill="#ced9eb" stroke="#111" stroke-width="0.38" stroke-linejoin="round"/>
<polygon points="288.6,161.8 293.2,158.8 290.6,155.3 286.1,159.4" fill="#7998ca" stroke="#111" stroke-width="0.38" stroke-linejoin="round"/>
<polygon points="332.2,128.2 336.9,122.4 333.9,120.7 329.3,127.5" fill="#bbcbe4" stroke="#111" stroke-width="0.38" stroke-linejoin="round"/>
<polygon points="257.2,137.5 262.2,143.1 259.6,135.4 254.6,129.6" fill="#99b1d6" stroke="#111" stroke-width="0.38" stroke-linejoin="round"/>
<polygon points="259.8,145.4 264.8,151.0 262.2,143.1 257.2,137.5" fill="#99b1d6" stroke="#111" stroke-width="0.38" stroke-linejoin="round"/>
<polygon points="304.9,155.0 309.4,151.7 306.7,150.7 302.2,153.0" fill="#89a4d0" stroke="#111" stroke-width="0.38" stroke-linejoin="round"/>
<polygon points="284.0,163.9 288.6,161.8 286.1,159.4 281.5,162.8" fill="#7998ca" stroke="#111" stroke-width="0.38" stroke-linejoin="round"/>
<polygon points="272.2,162.5 276.9,164.2 274.5,162.4 269.8,161.3" fill="#7998ca" stroke="#111" stroke-width="0.38" stroke-linejoin="round"/>
<polygon points="262.4,151.7 267.3,157.5 264.8,151.0 259.8,145.4" fill="#89a4d0" stroke="#111" stroke-width="0.38" stroke-linejoin="round"/>
<polygon points="336.9,122.4 341.5,116.5 338.6,113.9 333.9,120.7" fill="#ced9eb" stroke="#111" stroke-width="0.38" stroke-linejoin="round"/>
<polygon points="350.9,105.0 355.5,99.8 352.5,97.5 347.9,101.8" fill="#ffffff" stroke="#111" stroke-width="0.38" stroke-linejoin="round"/>
<polygon points="341.5,116.5 346.2,110.7 343.3,107.4 338.6,113.9" fill="#ced9eb" stroke="#111" stroke-width="0.38" stroke-linejoin="round"/>
<polygon points="300.3,157.9 304.9,155.0 302.2,153.0 297.7,155.6" fill="#89a4d0" stroke="#111" stroke-width="0.38" stroke-linejoin="round"/>
<polygon points="346.2,110.7 350.9,105.0 347.9,101.8 343.3,107.4" fill="#e3e9f4" stroke="#111" stroke-width="0.38" stroke-linejoin="round"/>
<polygon points="279.4,164.1 284.0,163.9 281.5,162.8 276.9,164.2" fill="#7998ca" stroke="#111" stroke-width="0.38" stroke-linejoin="round"/>
<polygon points="264.9,155.3 269.8,161.3 267.3,157.5 262.4,151.7" fill="#89a4d0" stroke="#111" stroke-width="0.38" stroke-linejoin="round"/>
<polygon points="236.7,102.7 242.2,112.2 240.1,112.3 234.4,100.2" fill="#e3e9f4" stroke="#111" stroke-width="0.38" stroke-linejoin="round"/>
<polygon points="295.8,160.5 300.3,157.9 297.7,155.6 293.2,158.8" fill="#7998ca" stroke="#111" stroke-width="0.38" stroke-linejoin="round"/>
<polygon points="246.8,116.3 252.0,123.6 249.7,120.6 244.4,113.4" fill="#ced9eb" stroke="#111" stroke-width="0.38" stroke-linejoin="round"/>
<polygon points="291.2,162.3 295.8,160.5 293.2,158.8 288.6,161.8" fill="#7998ca" stroke="#111" stroke-width="0.38" stroke-linejoin="round"/>
<polygon points="353.9,107.9 358.6,102.1 355.5,99.8 350.9,105.0" fill="#ffffff" stroke="#111" stroke-width="0.38" stroke-linejoin="round"/>
<polygon points="326.1,136.7 330.7,132.2 327.6,133.8 323.1,139.1" fill="#a9bddd" stroke="#111" stroke-width="0.38" stroke-linejoin="round"/>
<polygon points="330.7,132.2 335.3,127.7 332.2,128.2 327.6,133.8" fill="#bbcbe4" stroke="#111" stroke-width="0.38" stroke-linejoin="round"/>
<polygon points="349.2,113.3 353.9,107.9 350.9,105.0 346.2,110.7" fill="#e3e9f4" stroke="#111" stroke-width="0.38" stroke-linejoin="round"/>
<polygon points="335.3,127.7 339.9,123.1 336.9,122.4 332.2,128.2" fill="#bbcbe4" stroke="#111" stroke-width="0.38" stroke-linejoin="round"/>
<polygon points="321.5,141.3 326.1,136.7 323.1,139.1 318.5,143.8" fill="#99b1d6" stroke="#111" stroke-width="0.38" stroke-linejoin="round"/>
<polygon points="339.9,123.1 344.6,118.3 341.5,116.5 336.9,122.4" fill="#ced9eb" stroke="#111" stroke-width="0.38" stroke-linejoin="round"/>
<polygon points="344.6,118.3 349.2,113.3 346.2,110.7 341.5,116.5" fill="#ced9eb" stroke="#111" stroke-width="0.38" stroke-linejoin="round"/>
<polygon points="316.9,145.9 321.5,141.3 318.5,143.8 314.0,148.0" fill="#99b1d6" stroke="#111" stroke-width="0.38" stroke-linejoin="round"/>
<polygon points="312.3,150.4 316.9,145.9 314.0,148.0 309.4,151.7" fill="#99b1d6" stroke="#111" stroke-width="0.38" stroke-linejoin="round"/>
<polygon points="286.6,163.0 291.2,162.3 288.6,161.8 284.0,163.9" fill="#7998ca" stroke="#111" stroke-width="0.38" stroke-linejoin="round"/>
<polygon points="307.7,154.4 312.3,150.4 309.4,151.7 304.9,155.0" fill="#89a4d0" stroke="#111" stroke-width="0.38" stroke-linejoin="round"/>
<polygon points="274.6,161.5 279.4,164.1 276.9,164.2 272.2,162.5" fill="#7998ca" stroke="#111" stroke-width="0.38" stroke-linejoin="round"/>
<polygon points="267.3,156.3 272.2,162.5 269.8,161.3 264.9,155.3" fill="#89a4d0" stroke="#111" stroke-width="0.38" stroke-linejoin="round"/>
<polygon points="303.1,157.5 307.7,154.4 304.9,155.0 300.3,157.9" fill="#89a4d0" stroke="#111" stroke-width="0.38" stroke-linejoin="round"/>
<polygon points="249.3,121.4 254.6,129.6 252.0,123.6 246.8,116.3" fill="#ced9eb" stroke="#111" stroke-width="0.38" stroke-linejoin="round"/>
<polygon points="239.0,105.2 244.4,113.4 242.2,112.2 236.7,102.7" fill="#e3e9f4" stroke="#111" stroke-width="0.38" stroke-linejoin="round"/>
<polygon points="298.5,159.6 303.1,157.5 300.3,157.9 295.8,160.5" fill="#89a4d0" stroke="#111" stroke-width="0.38" stroke-linejoin="round"/>
<polygon points="251.9,127.7 257.2,137.5 254.6,129.6 249.3,121.4" fill="#bbcbe4" stroke="#111" stroke-width="0.38" stroke-linejoin="round"/>
<polygon points="357.0,110.0 361.8,104.5 358.6,102.1 353.9,107.9" fill="#ffffff" stroke="#111" stroke-width="0.38" stroke-linejoin="round"/>
<polygon points="352.4,114.7 357.0,110.0 353.9,107.9 349.2,113.3" fill="#e3e9f4" stroke="#111" stroke-width="0.38" stroke-linejoin="round"/>
<polygon points="281.9,162.0 286.6,163.0 284.0,163.9 279.4,164.1" fill="#7998ca" stroke="#111" stroke-width="0.38" stroke-linejoin="round"/>
<polygon points="254.5,134.1 259.8,145.4 257.2,137.5 251.9,127.7" fill="#a9bddd" stroke="#111" stroke-width="0.38" stroke-linejoin="round"/>
<polygon points="347.7,118.7 352.4,114.7 349.2,113.3 344.6,118.3" fill="#ced9eb" stroke="#111" stroke-width="0.38" stroke-linejoin="round"/>
<polygon points="343.1,122.3 347.7,118.7 344.6,118.3 339.9,123.1" fill="#ced9eb" stroke="#111" stroke-width="0.38" stroke-linejoin="round"/>
<polygon points="293.8,160.4 298.5,159.6 295.8,160.5 291.2,162.3" fill="#89a4d0" stroke="#111" stroke-width="0.38" stroke-linejoin="round"/>
<polygon points="257.0,139.4 262.4,151.7 259.8,145.4 254.5,134.1" fill="#a9bddd" stroke="#111" stroke-width="0.38" stroke-linejoin="round"/>
<polygon points="338.5,125.7 343.1,122.3 339.9,123.1 335.3,127.7" fill="#ced9eb" stroke="#111" stroke-width="0.38" stroke-linejoin="round"/>
<polygon points="333.9,129.1 338.5,125.7 335.3,127.7 330.7,132.2" fill="#bbcbe4" stroke="#111" stroke-width="0.38" stroke-linejoin="round"/>
<polygon points="241.3,107.7 246.8,116.3 244.4,113.4 239.0,105.2" fill="#e3e9f4" stroke="#111" stroke-width="0.38" stroke-linejoin="round"/>
<polygon points="360.3,111.1 365.0,106.8 361.8,104.5 357.0,110.0" fill="#ffffff" stroke="#111" stroke-width="0.38" stroke-linejoin="round"/>
<polygon points="329.3,132.7 333.9,129.1 330.7,132.2 326.1,136.7" fill="#bbcbe4" stroke="#111" stroke-width="0.38" stroke-linejoin="round"/>
<polygon points="269.7,155.3 274.6,161.5 272.2,162.5 267.3,156.3" fill="#89a4d0" stroke="#111" stroke-width="0.38" stroke-linejoin="round"/>
<polygon points="259.5,142.6 264.9,155.3 262.4,151.7 257.0,139.4" fill="#99b1d6" stroke="#111" stroke-width="0.38" stroke-linejoin="round"/>
<polygon points="289.2,159.9 293.8,160.4 291.2,162.3 286.6,163.0" fill="#89a4d0" stroke="#111" stroke-width="0.38" stroke-linejoin="round"/>
<polygon points="324.6,136.8 329.3,132.7 326.1,136.7 321.5,141.3" fill="#a9bddd" stroke="#111" stroke-width="0.38" stroke-linejoin="round"/>
<polygon points="355.7,114.5 360.3,111.1 357.0,110.0 352.4,114.7" fill="#e3e9f4" stroke="#111" stroke-width="0.38" stroke-linejoin="round"/>
<polygon points="319.9,141.3 324.6,136.8 321.5,141.3 316.9,145.9" fill="#a9bddd" stroke="#111" stroke-width="0.38" stroke-linejoin="round"/>
<polygon points="277.1,158.7 281.9,162.0 279.4,164.1 274.6,161.5" fill="#89a4d0" stroke="#111" stroke-width="0.38" stroke-linejoin="round"/>
<polygon points="315.2,146.0 319.9,141.3 316.9,145.9 312.3,150.4" fill="#99b1d6" stroke="#111" stroke-width="0.38" stroke-linejoin="round"/>
<polygon points="310.6,150.1 315.2,146.0 312.3,150.4 307.7,154.4" fill="#99b1d6" stroke="#111" stroke-width="0.38" stroke-linejoin="round"/>
<polygon points="305.9,153.2 310.6,150.1 307.7,154.4 303.1,157.5" fill="#99b1d6" stroke="#111" stroke-width="0.38" stroke-linejoin="round"/>
<polygon points="351.1,117.3 355.7,114.5 352.4,114.7 347.7,118.7" fill="#e3e9f4" stroke="#111" stroke-width="0.38" stroke-linejoin="round"/>
<polygon points="243.7,110.2 249.3,121.4 246.8,116.3 241.3,107.7" fill="#e3e9f4" stroke="#111" stroke-width="0.38" stroke-linejoin="round"/>
<polygon points="301.2,154.9 305.9,153.2 303.1,157.5 298.5,159.6" fill="#99b1d6" stroke="#111" stroke-width="0.38" stroke-linejoin="round"/>
<polygon points="346.5,119.8 351.1,117.3 347.7,118.7 343.1,122.3" fill="#e3e9f4" stroke="#111" stroke-width="0.38" stroke-linejoin="round"/>
<polygon points="363.7,110.6 368.2,109.1 365.0,106.8 360.3,111.1" fill="#ffffff" stroke="#111" stroke-width="0.38" stroke-linejoin="round"/>
<polygon points="284.4,157.9 289.2,159.9 286.6,163.0 281.9,162.0" fill="#89a4d0" stroke="#111" stroke-width="0.38" stroke-linejoin="round"/>
<polygon points="261.9,144.0 267.3,156.3 264.9,155.3 259.5,142.6" fill="#99b1d6" stroke="#111" stroke-width="0.38" stroke-linejoin="round"/>
<polygon points="341.9,122.1 346.5,119.8 343.1,122.3 338.5,125.7" fill="#ced9eb" stroke="#111" stroke-width="0.38" stroke-linejoin="round"/>
<polygon points="296.6,155.1 301.2,154.9 298.5,159.6 293.8,160.4" fill="#99b1d6" stroke="#111" stroke-width="0.38" stroke-linejoin="round"/>
<polygon points="246.1,112.8 251.9,127.7 249.3,121.4 243.7,110.2" fill="#e3e9f4" stroke="#111" stroke-width="0.38" stroke-linejoin="round"/>
<polygon points="359.2,112.1 363.7,110.6 360.3,111.1 355.7,114.5" fill="#ffffff" stroke="#111" stroke-width="0.38" stroke-linejoin="round"/>
<polygon points="337.3,124.4 341.9,122.1 338.5,125.7 333.9,129.1" fill="#ced9eb" stroke="#111" stroke-width="0.38" stroke-linejoin="round"/>
<polygon points="272.0,152.6 277.1,158.7 274.6,161.5 269.7,155.3" fill="#99b1d6" stroke="#111" stroke-width="0.38" stroke-linejoin="round"/>
<polygon points="332.6,127.0 337.3,124.4 333.9,129.1 329.3,132.7" fill="#ced9eb" stroke="#111" stroke-width="0.38" stroke-linejoin="round"/>
<polygon points="354.7,113.6 359.2,112.1 355.7,114.5 351.1,117.3" fill="#ffffff" stroke="#111" stroke-width="0.38" stroke-linejoin="round"/>
<polygon points="248.5,115.4 254.5,134.1 251.9,127.7 246.1,112.8" fill="#e3e9f4" stroke="#111" stroke-width="0.38" stroke-linejoin="round"/>
<polygon points="291.8,154.1 296.6,155.1 293.8,160.4 289.2,159.9" fill="#99b1d6" stroke="#111" stroke-width="0.38" stroke-linejoin="round"/>
<polygon points="279.5,154.3 284.4,157.9 281.9,162.0 277.1,158.7" fill="#99b1d6" stroke="#111" stroke-width="0.38" stroke-linejoin="round"/>
<polygon points="327.9,130.1 332.6,127.0 329.3,132.7 324.6,136.8" fill="#ced9eb" stroke="#111" stroke-width="0.38" stroke-linejoin="round"/>
<polygon points="264.3,144.0 269.7,155.3 267.3,156.3 261.9,144.0" fill="#a9bddd" stroke="#111" stroke-width="0.38" stroke-linejoin="round"/>
<polygon points="323.2,133.8 327.9,130.1 324.6,136.8 319.9,141.3" fill="#bbcbe4" stroke="#111" stroke-width="0.38" stroke-linejoin="round"/>
<polygon points="350.1,115.1 354.7,113.6 351.1,117.3 346.5,119.8" fill="#e3e9f4" stroke="#111" stroke-width="0.38" stroke-linejoin="round"/>
<polygon points="318.4,137.6 323.2,133.8 319.9,141.3 315.2,146.0" fill="#bbcbe4" stroke="#111" stroke-width="0.38" stroke-linejoin="round"/>
<polygon points="313.7,141.2 318.4,137.6 315.2,146.0 310.6,150.1" fill="#bbcbe4" stroke="#111" stroke-width="0.38" stroke-linejoin="round"/>
<polygon points="250.9,118.1 257.0,139.4 254.5,134.1 248.5,115.4" fill="#ced9eb" stroke="#111" stroke-width="0.38" stroke-linejoin="round"/>
<polygon points="308.9,143.8 313.7,141.2 310.6,150.1 305.9,153.2" fill="#a9bddd" stroke="#111" stroke-width="0.38" stroke-linejoin="round"/>
<polygon points="345.5,116.6 350.1,115.1 346.5,119.8 341.9,122.1" fill="#e3e9f4" stroke="#111" stroke-width="0.38" stroke-linejoin="round"/>
<polygon points="287.0,151.9 291.8,154.1 289.2,159.9 284.4,157.9" fill="#99b1d6" stroke="#111" stroke-width="0.38" stroke-linejoin="round"/>
<polygon points="304.2,145.3 308.9,143.8 305.9,153.2 301.2,154.9" fill="#a9bddd" stroke="#111" stroke-width="0.38" stroke-linejoin="round"/>
<polygon points="253.4,120.8 259.5,142.6 257.0,139.4 250.9,118.1" fill="#ced9eb" stroke="#111" stroke-width="0.38" stroke-linejoin="round"/>
<polygon points="340.9,118.1 345.5,116.6 341.9,122.1 337.3,124.4" fill="#e3e9f4" stroke="#111" stroke-width="0.38" stroke-linejoin="round"/>
<polygon points="274.5,149.0 279.5,154.3 277.1,158.7 272.0,152.6" fill="#a9bddd" stroke="#111" stroke-width="0.38" stroke-linejoin="round"/>
<polygon points="266.8,143.1 272.0,152.6 269.7,155.3 264.3,144.0" fill="#a9bddd" stroke="#111" stroke-width="0.38" stroke-linejoin="round"/>
<polygon points="299.4,145.7 304.2,145.3 301.2,154.9 296.6,155.1" fill="#a9bddd" stroke="#111" stroke-width="0.38" stroke-linejoin="round"/>
<polygon points="336.2,119.7 340.9,118.1 337.3,124.4 332.6,127.0" fill="#e3e9f4" stroke="#111" stroke-width="0.38" stroke-linejoin="round"/>
<polygon points="282.0,148.8 287.0,151.9 284.4,157.9 279.5,154.3" fill="#a9bddd" stroke="#111" stroke-width="0.38" stroke-linejoin="round"/>
<polygon points="256.0,123.5 261.9,144.0 259.5,142.6 253.4,120.8" fill="#ced9eb" stroke="#111" stroke-width="0.38" stroke-linejoin="round"/>
<polygon points="331.5,121.2 336.2,119.7 332.6,127.0 327.9,130.1" fill="#e3e9f4" stroke="#111" stroke-width="0.38" stroke-linejoin="round"/>
<polygon points="294.5,145.1 299.4,145.7 296.6,155.1 291.8,154.1" fill="#bbcbe4" stroke="#111" stroke-width="0.38" stroke-linejoin="round"/>
<polygon points="326.7,122.8 331.5,121.2 327.9,130.1 323.2,133.8" fill="#e3e9f4" stroke="#111" stroke-width="0.38" stroke-linejoin="round"/>
<polygon points="321.9,124.4 326.7,122.8 323.2,133.8 318.4,137.6" fill="#e3e9f4" stroke="#111" stroke-width="0.38" stroke-linejoin="round"/>
<polygon points="258.5,126.3 264.3,144.0 261.9,144.0 256.0,123.5" fill="#ced9eb" stroke="#111" stroke-width="0.38" stroke-linejoin="round"/>
<polygon points="269.2,141.6 274.5,149.0 272.0,152.6 266.8,143.1" fill="#bbcbe4" stroke="#111" stroke-width="0.38" stroke-linejoin="round"/>
<polygon points="289.6,144.0 294.5,145.1 291.8,154.1 287.0,151.9" fill="#bbcbe4" stroke="#111" stroke-width="0.38" stroke-linejoin="round"/>
<polygon points="317.1,125.9 321.9,124.4 318.4,137.6 313.7,141.2" fill="#e3e9f4" stroke="#111" stroke-width="0.38" stroke-linejoin="round"/>
<polygon points="277.0,144.8 282.0,148.8 279.5,154.3 274.5,149.0" fill="#bbcbe4" stroke="#111" stroke-width="0.38" stroke-linejoin="round"/>
<polygon points="312.2,127.6 317.1,125.9 313.7,141.2 308.9,143.8" fill="#e3e9f4" stroke="#111" stroke-width="0.38" stroke-linejoin="round"/>
<polygon points="261.1,129.1 266.8,143.1 264.3,144.0 258.5,126.3" fill="#e3e9f4" stroke="#111" stroke-width="0.38" stroke-linejoin="round"/>
<polygon points="307.3,129.2 312.2,127.6 308.9,143.8 304.2,145.3" fill="#e3e9f4" stroke="#111" stroke-width="0.38" stroke-linejoin="round"/>
<polygon points="284.6,142.4 289.6,144.0 287.0,151.9 282.0,148.8" fill="#ced9eb" stroke="#111" stroke-width="0.38" stroke-linejoin="round"/>
<polygon points="302.4,130.8 307.3,129.2 304.2,145.3 299.4,145.7" fill="#e3e9f4" stroke="#111" stroke-width="0.38" stroke-linejoin="round"/>
<polygon points="271.8,140.1 277.0,144.8 274.5,149.0 269.2,141.6" fill="#ced9eb" stroke="#111" stroke-width="0.38" stroke-linejoin="round"/>
<polygon points="263.8,132.0 269.2,141.6 266.8,143.1 261.1,129.1" fill="#e3e9f4" stroke="#111" stroke-width="0.38" stroke-linejoin="round"/>
<polygon points="297.4,132.4 302.4,130.8 299.4,145.7 294.5,145.1" fill="#e3e9f4" stroke="#111" stroke-width="0.38" stroke-linejoin="round"/>
<polygon points="279.6,140.7 284.6,142.4 282.0,148.8 277.0,144.8" fill="#ced9eb" stroke="#111" stroke-width="0.38" stroke-linejoin="round"/>
<polygon points="292.4,134.1 297.4,132.4 294.5,145.1 289.6,144.0" fill="#e3e9f4" stroke="#111" stroke-width="0.38" stroke-linejoin="round"/>
<polygon points="266.5,134.9 271.8,140.1 269.2,141.6 263.8,132.0" fill="#e3e9f4" stroke="#111" stroke-width="0.38" stroke-linejoin="round"/>
<polygon points="274.4,139.1 279.6,140.7 277.0,144.8 271.8,140.1" fill="#e3e9f4" stroke="#111" stroke-width="0.38" stroke-linejoin="round"/>
<polygon points="287.3,135.8 292.4,134.1 289.6,144.0 284.6,142.4" fill="#e3e9f4" stroke="#111" stroke-width="0.38" stroke-linejoin="round"/>
<polygon points="282.2,137.4 287.3,135.8 284.6,142.4 279.6,140.7" fill="#e3e9f4" stroke="#111" stroke-width="0.38" stroke-linejoin="round"/>
<polygon points="269.2,137.8 274.4,139.1 271.8,140.1 266.5,134.9" fill="#ffffff" stroke="#111" stroke-width="0.38" stroke-linejoin="round"/>
<polygon points="277.1,139.1 282.2,137.4 279.6,140.7 274.4,139.1" fill="#ffffff" stroke="#111" stroke-width="0.38" stroke-linejoin="round"/>
<polygon points="271.9,140.8 277.1,139.1 274.4,139.1 269.2,137.8" fill="#ffffff" stroke="#111" stroke-width="0.38" stroke-linejoin="round"/>
<line x1="272.63" y1="221.99" x2="269.54" y2="127.30" stroke="#444" stroke-width="0.7"/>
<line x1="213.34" y1="71.54" x2="216.94" y2="71.54" stroke="#444" stroke-width="0.7"/>
<text x="207.74" y="73.64" font-size="6" text-anchor="middle" fill="#4a4646">5</text>
<line x1="214.84" y1="87.73" x2="218.44" y2="87.73" stroke="#444" stroke-width="0.7"/>
<text x="209.24" y="89.83" font-size="6" text-anchor="middle" fill="#4a4646">0</text>
<line x1="216.28" y1="103.31" x2="219.88" y2="103.31" stroke="#444" stroke-width="0.7"/>
<text x="210.68" y="105.41" font-size="6" text-anchor="middle" fill="#4a4646">-5</text>
<line x1="217.67" y1="118.32" x2="221.27" y2="118.32" stroke="#444" stroke-width="0.7"/>
<text x="212.07" y="120.42" font-size="6" text-anchor="middle" fill="#4a4646">-10</text>
<line x1="219.01" y1="132.78" x2="222.61" y2="132.78" stroke="#444" stroke-width="0.7"/>
<text x="213.41" y="134.88" font-size="6" text-anchor="middle" fill="#4a4646">-15</text>
<line x1="220.30" y1="146.73" x2="223.90" y2="146.73" stroke="#444" stroke-width="0.7"/>
<text x="214.70" y="148.83" font-size="6" text-anchor="middle" fill="#4a4646">-20</text>
<line x1="270.73" y1="219.54" x2="267.83" y2="222.44" stroke="#444" stroke-width="0.7"/>
<text x="264.53" y="231.24" font-size="6" text-anchor="middle" fill="#4a4646">0</text>
<line x1="260.98" y1="206.88" x2="258.08" y2="209.78" stroke="#444" stroke-width="0.7"/>
<text x="254.78" y="218.16" font-size="6" text-anchor="middle" fill="#4a4646">0.32</text>
<line x1="251.73" y1="194.87" x2="248.83" y2="197.77" stroke="#444" stroke-width="0.7"/>
<text x="245.53" y="205.73" font-size="6" text-anchor="middle" fill="#4a4646">1.6</text>
<line x1="242.94" y1="183.46" x2="240.04" y2="186.36" stroke="#444" stroke-width="0.7"/>
<text x="236.74" y="193.90" font-size="6" text-anchor="middle" fill="#4a4646">8</text>
<line x1="234.58" y1="172.61" x2="231.68" y2="175.51" stroke="#444" stroke-width="0.7"/>
<text x="228.38" y="182.63" font-size="6" text-anchor="middle" fill="#4a4646">40</text>
<line x1="226.62" y1="162.28" x2="223.72" y2="165.18" stroke="#444" stroke-width="0.7"/>
<text x="220.42" y="171.88" font-size="6" text-anchor="middle" fill="#4a4646">200</text>
<line x1="276.17" y1="220.61" x2="277.07" y2="224.81" stroke="#444" stroke-width="0.7"/>
<text x="279.77" y="234.71" font-size="6" text-anchor="middle" fill="#4a4646">0</text>
<line x1="294.66" y1="213.36" x2="295.56" y2="217.56" stroke="#444" stroke-width="0.7"/>
<text x="298.26" y="226.90" font-size="6" text-anchor="middle" fill="#4a4646">7.81</text>
<line x1="312.63" y1="206.31" x2="313.53" y2="210.51" stroke="#444" stroke-width="0.7"/>
<text x="316.23" y="219.29" font-size="6" text-anchor="middle" fill="#4a4646">31.25</text>
<line x1="330.11" y1="199.46" x2="331.01" y2="203.66" stroke="#444" stroke-width="0.7"/>
<text x="333.71" y="211.88" font-size="6" text-anchor="middle" fill="#4a4646">125</text>
<line x1="347.11" y1="192.80" x2="348.01" y2="197.00" stroke="#444" stroke-width="0.7"/>
<text x="350.71" y="204.66" font-size="6" text-anchor="middle" fill="#4a4646">500</text>
<line x1="363.65" y1="186.32" x2="364.55" y2="190.52" stroke="#444" stroke-width="0.7"/>
<text x="367.25" y="197.62" font-size="6" text-anchor="middle" fill="#4a4646">2000</text>
<text x="234.30" y="207.40" font-size="6.4" text-anchor="middle" fill="#4a4646" transform="rotate(52 234.30 207.40)">mebendazole (nM)</text>
<text x="330.50" y="226.40" font-size="5.8" text-anchor="middle" fill="#4a4646" transform="rotate(-22 330.50 226.40)">artesunate (nM)</text>
<text x="205.20" y="115.20" font-size="5.8" text-anchor="middle" fill="#4a4646" transform="rotate(-90 205.20 115.20)">Synergy Score</text>
<text x="406.35" y="87.50" font-size="5.3" text-anchor="middle" fill="#333">Synergy Score</text>
<rect x="400.90" y="94.30" width="10.90" height="3.52" fill="#b72934"/>
<rect x="400.90" y="97.52" width="10.90" height="3.52" fill="#bd3b45"/>
<rect x="400.90" y="100.74" width="10.90" height="3.52" fill="#c34d56"/>
<rect x="400.90" y="103.96" width="10.90" height="3.52" fill="#c95e67"/>
<rect x="400.90" y="107.18" width="10.90" height="3.52" fill="#cf7078"/>
<rect x="400.90" y="110.40" width="10.90" height="3.52" fill="#d58289"/>
<rect x="400.90" y="113.62" width="10.90" height="3.52" fill="#db949a"/>
<rect x="400.90" y="116.84" width="10.90" height="3.52" fill="#e1a6ab"/>
<rect x="400.90" y="120.06" width="10.90" height="3.52" fill="#e7b8bb"/>
<rect x="400.90" y="123.28" width="10.90" height="3.52" fill="#edc9cc"/>
<rect x="400.90" y="126.50" width="10.90" height="3.52" fill="#f3dbdd"/>
<rect x="400.90" y="129.72" width="10.90" height="3.52" fill="#f9edee"/>
<rect x="400.90" y="132.94" width="10.90" height="3.52" fill="#ffffff"/>
<rect x="400.90" y="136.16" width="10.90" height="3.52" fill="#eef2f8"/>
<rect x="400.90" y="139.38" width="10.90" height="3.52" fill="#dde5f1"/>
<rect x="400.90" y="142.60" width="10.90" height="3.52" fill="#ccd8eb"/>
<rect x="400.90" y="145.82" width="10.90" height="3.52" fill="#bbcbe4"/>
<rect x="400.90" y="149.04" width="10.90" height="3.52" fill="#aabedd"/>
<rect x="400.90" y="152.26" width="10.90" height="3.52" fill="#99b1d6"/>
<rect x="400.90" y="155.48" width="10.90" height="3.52" fill="#88a4cf"/>
<rect x="400.90" y="158.70" width="10.90" height="3.52" fill="#7797c9"/>
<rect x="400.90" y="161.92" width="10.90" height="3.52" fill="#668ac2"/>
<rect x="400.90" y="165.14" width="10.90" height="3.52" fill="#557dbb"/>
<rect x="400.90" y="168.36" width="10.90" height="3.52" fill="#4470b4"/>
<rect x="400.90" y="171.58" width="10.90" height="3.52" fill="#3363ad"/>
<text x="417.30" y="105.35" font-size="6" fill="#333">20</text>
<text x="417.30" y="121.45" font-size="6" fill="#333">10</text>
<text x="417.30" y="137.55" font-size="6" fill="#333">0</text>
<text x="417.30" y="153.65" font-size="6" fill="#333">-10</text>
<text x="417.30" y="169.75" font-size="6" fill="#333">-20</text>
<text x="584.20" y="27.40" font-size="10.15" font-weight="bold" text-anchor="middle" fill="#111">Loewe Synergy Score</text>
<text x="584.20" y="38.00" font-size="6.8" text-anchor="middle" fill="#4a4a4a">Mean: -9.93 (p = 1.58e-02)</text>
<line x1="588.56" y1="132.22" x2="590.26" y2="46.94" stroke="#444" stroke-width="0.7" stroke-dasharray="3,2"/>
<line x1="588.56" y1="132.22" x2="502.66" y2="160.78" stroke="#444" stroke-width="0.7" stroke-dasharray="3,2"/>
<line x1="588.56" y1="132.22" x2="644.21" y2="185.52" stroke="#444" stroke-width="0.7" stroke-dasharray="3,2"/>
<line x1="494.48" y1="72.37" x2="590.26" y2="46.94" stroke="#444" stroke-width="0.7"/>
<line x1="590.26" y1="46.94" x2="653.12" y2="93.91" stroke="#444" stroke-width="0.7"/>
<line x1="653.12" y1="93.91" x2="547.04" y2="127.70" stroke="#444" stroke-width="0.7"/>
<line x1="547.04" y1="127.70" x2="494.48" y2="72.37" stroke="#444" stroke-width="0.7"/>
<line x1="502.66" y1="160.78" x2="494.48" y2="72.37" stroke="#444" stroke-width="0.7"/>
<line x1="644.21" y1="185.52" x2="653.12" y2="93.91" stroke="#444" stroke-width="0.7"/>
<line x1="550.13" y1="222.39" x2="644.21" y2="185.52" stroke="#444" stroke-width="0.7"/>
<line x1="550.13" y1="222.39" x2="502.66" y2="160.78" stroke="#444" stroke-width="0.7"/>
<polygon points="554.4,132.0 558.4,128.0 556.3,130.1 552.3,134.3" fill="#527bba" stroke="#111" stroke-width="0.38" stroke-linejoin="round"/>
<polygon points="550.2,131.2 554.4,132.0 552.3,134.3 548.2,133.0" fill="#527bba" stroke="#111" stroke-width="0.38" stroke-linejoin="round"/>
<polygon points="558.4,128.0 562.3,117.7 560.1,118.8 556.3,130.1" fill="#5c82be" stroke="#111" stroke-width="0.38" stroke-linejoin="round"/>
<polygon points="545.9,127.5 550.2,131.2 548.2,133.0 543.8,128.5" fill="#5c82be" stroke="#111" stroke-width="0.38" stroke-linejoin="round"/>
<polygon points="556.5,129.3 560.6,125.3 558.4,128.0 554.4,132.0" fill="#5c82be" stroke="#111" stroke-width="0.38" stroke-linejoin="round"/>
<polygon points="587.1,68.9 590.7,92.2 588.1,101.6 584.6,71.6" fill="#b7c8e2" stroke="#111" stroke-width="0.38" stroke-linejoin="round"/>
<polygon points="552.3,129.0 556.5,129.3 554.4,132.0 550.2,131.2" fill="#5c82be" stroke="#111" stroke-width="0.38" stroke-linejoin="round"/>
<polygon points="562.3,117.7 566.3,103.0 564.0,102.5 560.1,118.8" fill="#829fcd" stroke="#111" stroke-width="0.38" stroke-linejoin="round"/>
<polygon points="560.6,125.3 564.6,115.9 562.3,117.7 558.4,128.0" fill="#6f90c5" stroke="#111" stroke-width="0.38" stroke-linejoin="round"/>
<polygon points="541.5,123.0 545.9,127.5 543.8,128.5 539.4,123.3" fill="#6589c2" stroke="#111" stroke-width="0.38" stroke-linejoin="round"/>
<polygon points="548.0,126.2 552.3,129.0 550.2,131.2 545.9,127.5" fill="#6589c2" stroke="#111" stroke-width="0.38" stroke-linejoin="round"/>
<polygon points="558.7,126.4 562.8,122.3 560.6,125.3 556.5,129.3" fill="#6589c2" stroke="#111" stroke-width="0.38" stroke-linejoin="round"/>
<polygon points="564.6,115.9 568.7,102.7 566.3,103.0 562.3,117.7" fill="#829fcd" stroke="#111" stroke-width="0.38" stroke-linejoin="round"/>
<polygon points="554.5,126.7 558.7,126.4 556.5,129.3 552.3,129.0" fill="#6589c2" stroke="#111" stroke-width="0.38" stroke-linejoin="round"/>
<polygon points="562.8,122.3 566.9,113.7 564.6,115.9 560.6,125.3" fill="#7898c9" stroke="#111" stroke-width="0.38" stroke-linejoin="round"/>
<polygon points="589.7,67.3 593.4,85.4 590.7,92.2 587.1,68.9" fill="#cfdbec" stroke="#111" stroke-width="0.38" stroke-linejoin="round"/>
<polygon points="566.3,103.0 570.4,86.6 568.0,84.3 564.0,102.5" fill="#acc0de" stroke="#111" stroke-width="0.38" stroke-linejoin="round"/>
<polygon points="537.0,119.3 541.5,123.0 539.4,123.3 535.0,119.4" fill="#7898c9" stroke="#111" stroke-width="0.38" stroke-linejoin="round"/>
<polygon points="543.6,122.4 548.0,126.2 545.9,127.5 541.5,123.0" fill="#6f90c5" stroke="#111" stroke-width="0.38" stroke-linejoin="round"/>
<polygon points="550.2,124.6 554.5,126.7 552.3,129.0 548.0,126.2" fill="#6f90c5" stroke="#111" stroke-width="0.38" stroke-linejoin="round"/>
<polygon points="566.9,113.7 571.0,101.7 568.7,102.7 564.6,115.9" fill="#8ca7d1" stroke="#111" stroke-width="0.38" stroke-linejoin="round"/>
<polygon points="568.7,102.7 572.8,87.9 570.4,86.6 566.3,103.0" fill="#acc0de" stroke="#111" stroke-width="0.38" stroke-linejoin="round"/>
<polygon points="583.0,63.9 587.1,68.9 584.6,71.6 580.5,61.9" fill="#ebf0f7" stroke="#111" stroke-width="0.38" stroke-linejoin="round"/>
<polygon points="560.9,123.3 565.1,119.3 562.8,122.3 558.7,126.4" fill="#7898c9" stroke="#111" stroke-width="0.38" stroke-linejoin="round"/>
<polygon points="556.7,124.2 560.9,123.3 558.7,126.4 554.5,126.7" fill="#7898c9" stroke="#111" stroke-width="0.38" stroke-linejoin="round"/>
<polygon points="565.1,119.3 569.3,111.3 566.9,113.7 562.8,122.3" fill="#829fcd" stroke="#111" stroke-width="0.38" stroke-linejoin="round"/>
<polygon points="532.5,116.4 537.0,119.3 535.0,119.4 530.5,116.7" fill="#829fcd" stroke="#111" stroke-width="0.38" stroke-linejoin="round"/>
<polygon points="592.3,66.8 596.1,80.8 593.4,85.4 589.7,67.3" fill="#dde5f1" stroke="#111" stroke-width="0.38" stroke-linejoin="round"/>
<polygon points="539.1,119.0 543.6,122.4 541.5,123.0 537.0,119.3" fill="#829fcd" stroke="#111" stroke-width="0.38" stroke-linejoin="round"/>
<polygon points="570.4,86.6 574.6,71.5 572.1,67.9 568.0,84.3" fill="#dde5f1" stroke="#111" stroke-width="0.38" stroke-linejoin="round"/>
<polygon points="545.8,121.7 550.2,124.6 548.0,126.2 543.6,122.4" fill="#7898c9" stroke="#111" stroke-width="0.38" stroke-linejoin="round"/>
<polygon points="578.8,65.1 583.0,63.9 580.5,61.9 576.4,63.1" fill="#ffffff" stroke="#111" stroke-width="0.38" stroke-linejoin="round"/>
<polygon points="571.0,101.7 575.3,88.4 572.8,87.9 568.7,102.7" fill="#b7c8e2" stroke="#111" stroke-width="0.38" stroke-linejoin="round"/>
<polygon points="552.4,123.1 556.7,124.2 554.5,126.7 550.2,124.6" fill="#7898c9" stroke="#111" stroke-width="0.38" stroke-linejoin="round"/>
<polygon points="585.6,66.0 589.7,67.3 587.1,68.9 583.0,63.9" fill="#ffffff" stroke="#111" stroke-width="0.38" stroke-linejoin="round"/>
<polygon points="569.3,111.3 573.5,100.5 571.0,101.7 566.9,113.7" fill="#97afd5" stroke="#111" stroke-width="0.38" stroke-linejoin="round"/>
<polygon points="574.6,71.5 578.8,65.1 576.4,63.1 572.1,67.9" fill="#ffffff" stroke="#111" stroke-width="0.38" stroke-linejoin="round"/>
<polygon points="572.8,87.9 577.1,74.0 574.6,71.5 570.4,86.6" fill="#cfdbec" stroke="#111" stroke-width="0.38" stroke-linejoin="round"/>
<polygon points="527.9,113.8 532.5,116.4 530.5,116.7 526.0,114.5" fill="#8ca7d1" stroke="#111" stroke-width="0.38" stroke-linejoin="round"/>
<polygon points="534.6,116.2 539.1,119.0 537.0,119.3 532.5,116.4" fill="#8ca7d1" stroke="#111" stroke-width="0.38" stroke-linejoin="round"/>
<polygon points="595.0,68.9 598.8,78.1 596.1,80.8 592.3,66.8" fill="#ebf0f7" stroke="#111" stroke-width="0.38" stroke-linejoin="round"/>
<polygon points="563.2,120.5 567.5,116.3 565.1,119.3 560.9,123.3" fill="#829fcd" stroke="#111" stroke-width="0.38" stroke-linejoin="round"/>
<polygon points="541.3,118.9 545.8,121.7 543.6,122.4 539.1,119.0" fill="#829fcd" stroke="#111" stroke-width="0.38" stroke-linejoin="round"/>
<polygon points="581.3,67.2 585.6,66.0 583.0,63.9 578.8,65.1" fill="#ffffff" stroke="#111" stroke-width="0.38" stroke-linejoin="round"/>
<polygon points="567.5,116.3 571.7,108.9 569.3,111.3 565.1,119.3" fill="#97afd5" stroke="#111" stroke-width="0.38" stroke-linejoin="round"/>
<polygon points="559.0,122.0 563.2,120.5 560.9,123.3 556.7,124.2" fill="#829fcd" stroke="#111" stroke-width="0.38" stroke-linejoin="round"/>
<polygon points="547.9,121.0 552.4,123.1 550.2,124.6 545.8,121.7" fill="#829fcd" stroke="#111" stroke-width="0.38" stroke-linejoin="round"/>
<polygon points="577.1,74.0 581.3,67.2 578.8,65.1 574.6,71.5" fill="#ffffff" stroke="#111" stroke-width="0.38" stroke-linejoin="round"/>
<polygon points="588.1,68.0 592.3,66.8 589.7,67.3 585.6,66.0" fill="#ffffff" stroke="#111" stroke-width="0.38" stroke-linejoin="round"/>
<polygon points="573.5,100.5 577.8,88.6 575.3,88.4 571.0,101.7" fill="#b7c8e2" stroke="#111" stroke-width="0.38" stroke-linejoin="round"/>
<polygon points="575.3,88.4 579.6,75.8 577.1,74.0 572.8,87.9" fill="#dde5f1" stroke="#111" stroke-width="0.38" stroke-linejoin="round"/>
<polygon points="523.3,111.1 527.9,113.8 526.0,114.5 521.4,112.1" fill="#97afd5" stroke="#111" stroke-width="0.38" stroke-linejoin="round"/>
<polygon points="554.6,121.7 559.0,122.0 556.7,124.2 552.4,123.1" fill="#829fcd" stroke="#111" stroke-width="0.38" stroke-linejoin="round"/>
<polygon points="571.7,108.9 576.0,99.3 573.5,100.5 569.3,111.3" fill="#a1b7da" stroke="#111" stroke-width="0.38" stroke-linejoin="round"/>
<polygon points="530.0,113.6 534.6,116.2 532.5,116.4 527.9,113.8" fill="#97afd5" stroke="#111" stroke-width="0.38" stroke-linejoin="round"/>
<polygon points="583.9,69.2 588.1,68.0 585.6,66.0 581.3,67.2" fill="#ffffff" stroke="#111" stroke-width="0.38" stroke-linejoin="round"/>
<polygon points="597.6,71.0 601.6,77.2 598.8,78.1 595.0,68.9" fill="#ebf0f7" stroke="#111" stroke-width="0.38" stroke-linejoin="round"/>
<polygon points="536.7,116.4 541.3,118.9 539.1,119.0 534.6,116.2" fill="#8ca7d1" stroke="#111" stroke-width="0.38" stroke-linejoin="round"/>
<polygon points="579.6,75.8 583.9,69.2 581.3,67.2 577.1,74.0" fill="#ffffff" stroke="#111" stroke-width="0.38" stroke-linejoin="round"/>
<polygon points="590.7,70.1 595.0,68.9 592.3,66.8 588.1,68.0" fill="#ffffff" stroke="#111" stroke-width="0.38" stroke-linejoin="round"/>
<polygon points="543.5,118.9 547.9,121.0 545.8,121.7 541.3,118.9" fill="#8ca7d1" stroke="#111" stroke-width="0.38" stroke-linejoin="round"/>
<polygon points="577.8,88.6 582.1,77.3 579.6,75.8 575.3,88.4" fill="#dde5f1" stroke="#111" stroke-width="0.38" stroke-linejoin="round"/>
<polygon points="565.6,118.0 569.9,113.7 567.5,116.3 563.2,120.5" fill="#97afd5" stroke="#111" stroke-width="0.38" stroke-linejoin="round"/>
<polygon points="518.5,107.7 523.3,111.1 521.4,112.1 516.6,108.9" fill="#a1b7da" stroke="#111" stroke-width="0.38" stroke-linejoin="round"/>
<polygon points="550.2,120.6 554.6,121.7 552.4,123.1 547.9,121.0" fill="#8ca7d1" stroke="#111" stroke-width="0.38" stroke-linejoin="round"/>
<polygon points="576.0,99.3 580.3,88.8 577.8,88.6 573.5,100.5" fill="#c3d1e7" stroke="#111" stroke-width="0.38" stroke-linejoin="round"/>
<polygon points="569.9,113.7 574.2,107.0 571.7,108.9 567.5,116.3" fill="#a1b7da" stroke="#111" stroke-width="0.38" stroke-linejoin="round"/>
<polygon points="561.3,120.1 565.6,118.0 563.2,120.5 559.0,122.0" fill="#8ca7d1" stroke="#111" stroke-width="0.38" stroke-linejoin="round"/>
<polygon points="586.5,71.3 590.7,70.1 588.1,68.0 583.9,69.2" fill="#ffffff" stroke="#111" stroke-width="0.38" stroke-linejoin="round"/>
<polygon points="525.3,110.8 530.0,113.6 527.9,113.8 523.3,111.1" fill="#a1b7da" stroke="#111" stroke-width="0.38" stroke-linejoin="round"/>
<polygon points="600.3,73.1 604.3,77.5 601.6,77.2 597.6,71.0" fill="#ffffff" stroke="#111" stroke-width="0.38" stroke-linejoin="round"/>
<polygon points="582.1,77.3 586.5,71.3 583.9,69.2 579.6,75.8" fill="#ffffff" stroke="#111" stroke-width="0.38" stroke-linejoin="round"/>
<polygon points="532.1,113.9 536.7,116.4 534.6,116.2 530.0,113.6" fill="#97afd5" stroke="#111" stroke-width="0.38" stroke-linejoin="round"/>
<polygon points="593.3,72.2 597.6,71.0 595.0,68.9 590.7,70.1" fill="#ffffff" stroke="#111" stroke-width="0.38" stroke-linejoin="round"/>
<polygon points="574.2,107.0 578.5,98.5 576.0,99.3 571.7,108.9" fill="#acc0de" stroke="#111" stroke-width="0.38" stroke-linejoin="round"/>
<polygon points="556.9,120.8 561.3,120.1 559.0,122.0 554.6,121.7" fill="#8ca7d1" stroke="#111" stroke-width="0.38" stroke-linejoin="round"/>
<polygon points="538.9,116.9 543.5,118.9 541.3,118.9 536.7,116.4" fill="#97afd5" stroke="#111" stroke-width="0.38" stroke-linejoin="round"/>
<polygon points="580.3,88.8 584.7,78.9 582.1,77.3 577.8,88.6" fill="#dde5f1" stroke="#111" stroke-width="0.38" stroke-linejoin="round"/>
<polygon points="545.7,119.3 550.2,120.6 547.9,121.0 543.5,118.9" fill="#97afd5" stroke="#111" stroke-width="0.38" stroke-linejoin="round"/>
<polygon points="589.1,73.4 593.3,72.2 590.7,70.1 586.5,71.3" fill="#ffffff" stroke="#111" stroke-width="0.38" stroke-linejoin="round"/>
<polygon points="513.6,103.2 518.5,107.7 516.6,108.9 511.7,104.0" fill="#b7c8e2" stroke="#111" stroke-width="0.38" stroke-linejoin="round"/>
<polygon points="578.5,98.5 582.9,89.4 580.3,88.8 576.0,99.3" fill="#c3d1e7" stroke="#111" stroke-width="0.38" stroke-linejoin="round"/>
<polygon points="584.7,78.9 589.1,73.4 586.5,71.3 582.1,77.3" fill="#ffffff" stroke="#111" stroke-width="0.38" stroke-linejoin="round"/>
<polygon points="603.0,75.3 607.1,78.8 604.3,77.5 600.3,73.1" fill="#ffffff" stroke="#111" stroke-width="0.38" stroke-linejoin="round"/>
<polygon points="520.5,107.5 525.3,110.8 523.3,111.1 518.5,107.7" fill="#acc0de" stroke="#111" stroke-width="0.38" stroke-linejoin="round"/>
<polygon points="552.5,120.6 556.9,120.8 554.6,121.7 550.2,120.6" fill="#97afd5" stroke="#111" stroke-width="0.38" stroke-linejoin="round"/>
<polygon points="596.0,74.3 600.3,73.1 597.6,71.0 593.3,72.2" fill="#ffffff" stroke="#111" stroke-width="0.38" stroke-linejoin="round"/>
<polygon points="568.0,116.1 572.3,111.8 569.9,113.7 565.6,118.0" fill="#a1b7da" stroke="#111" stroke-width="0.38" stroke-linejoin="round"/>
<polygon points="527.4,111.2 532.1,113.9 530.0,113.6 525.3,110.8" fill="#a1b7da" stroke="#111" stroke-width="0.38" stroke-linejoin="round"/>
<polygon points="572.3,111.8 576.7,105.7 574.2,107.0 569.9,113.7" fill="#acc0de" stroke="#111" stroke-width="0.38" stroke-linejoin="round"/>
<polygon points="563.7,118.8 568.0,116.1 565.6,118.0 561.3,120.1" fill="#97afd5" stroke="#111" stroke-width="0.38" stroke-linejoin="round"/>
<polygon points="534.3,114.8 538.9,116.9 536.7,116.4 532.1,113.9" fill="#a1b7da" stroke="#111" stroke-width="0.38" stroke-linejoin="round"/>
<polygon points="541.2,117.8 545.7,119.3 543.5,118.9 538.9,116.9" fill="#97afd5" stroke="#111" stroke-width="0.38" stroke-linejoin="round"/>
<polygon points="591.7,75.6 596.0,74.3 593.3,72.2 589.1,73.4" fill="#ffffff" stroke="#111" stroke-width="0.38" stroke-linejoin="round"/>
<polygon points="582.9,89.4 587.3,80.9 584.7,78.9 580.3,88.8" fill="#dde5f1" stroke="#111" stroke-width="0.38" stroke-linejoin="round"/>
<polygon points="576.7,105.7 581.1,98.5 578.5,98.5 574.2,107.0" fill="#b7c8e2" stroke="#111" stroke-width="0.38" stroke-linejoin="round"/>
<polygon points="559.3,120.4 563.7,118.8 561.3,120.1 556.9,120.8" fill="#97afd5" stroke="#111" stroke-width="0.38" stroke-linejoin="round"/>
<polygon points="548.0,120.1 552.5,120.6 550.2,120.6 545.7,119.3" fill="#97afd5" stroke="#111" stroke-width="0.38" stroke-linejoin="round"/>
<polygon points="605.7,79.1 609.8,80.6 607.1,78.8 603.0,75.3" fill="#ffffff" stroke="#111" stroke-width="0.38" stroke-linejoin="round"/>
<polygon points="587.3,80.9 591.7,75.6 589.1,73.4 584.7,78.9" fill="#ffffff" stroke="#111" stroke-width="0.38" stroke-linejoin="round"/>
<polygon points="598.7,76.5 603.0,75.3 600.3,73.1 596.0,74.3" fill="#ffffff" stroke="#111" stroke-width="0.38" stroke-linejoin="round"/>
<polygon points="581.1,98.5 585.5,90.9 582.9,89.4 578.5,98.5" fill="#cfdbec" stroke="#111" stroke-width="0.38" stroke-linejoin="round"/>
<polygon points="515.6,103.3 520.5,107.5 518.5,107.7 513.6,103.2" fill="#b7c8e2" stroke="#111" stroke-width="0.38" stroke-linejoin="round"/>
<polygon points="522.6,108.0 527.4,111.2 525.3,110.8 520.5,107.5" fill="#b7c8e2" stroke="#111" stroke-width="0.38" stroke-linejoin="round"/>
<polygon points="508.4,96.9 513.6,103.2 511.7,104.0 506.4,96.6" fill="#c3d1e7" stroke="#111" stroke-width="0.38" stroke-linejoin="round"/>
<polygon points="554.8,121.1 559.3,120.4 556.9,120.8 552.5,120.6" fill="#97afd5" stroke="#111" stroke-width="0.38" stroke-linejoin="round"/>
<polygon points="529.6,112.3 534.3,114.8 532.1,113.9 527.4,111.2" fill="#acc0de" stroke="#111" stroke-width="0.38" stroke-linejoin="round"/>
<polygon points="594.4,78.1 598.7,76.5 596.0,74.3 591.7,75.6" fill="#ffffff" stroke="#111" stroke-width="0.38" stroke-linejoin="round"/>
<polygon points="536.5,116.1 541.2,117.8 538.9,116.9 534.3,114.8" fill="#a1b7da" stroke="#111" stroke-width="0.38" stroke-linejoin="round"/>
<polygon points="585.5,90.9 589.9,83.8 587.3,80.9 582.9,89.4" fill="#ebf0f7" stroke="#111" stroke-width="0.38" stroke-linejoin="round"/>
<polygon points="608.3,84.3 612.6,82.5 609.8,80.6 605.7,79.1" fill="#ffffff" stroke="#111" stroke-width="0.38" stroke-linejoin="round"/>
<polygon points="570.5,115.0 574.9,110.7 572.3,111.8 568.0,116.1" fill="#acc0de" stroke="#111" stroke-width="0.38" stroke-linejoin="round"/>
<polygon points="543.5,119.2 548.0,120.1 545.7,119.3 541.2,117.8" fill="#a1b7da" stroke="#111" stroke-width="0.38" stroke-linejoin="round"/>
<polygon points="601.4,80.2 605.7,79.1 603.0,75.3 598.7,76.5" fill="#ffffff" stroke="#111" stroke-width="0.38" stroke-linejoin="round"/>
<polygon points="574.9,110.7 579.3,105.4 576.7,105.7 572.3,111.8" fill="#b7c8e2" stroke="#111" stroke-width="0.38" stroke-linejoin="round"/>
<polygon points="589.9,83.8 594.4,78.1 591.7,75.6 587.3,80.9" fill="#ffffff" stroke="#111" stroke-width="0.38" stroke-linejoin="round"/>
<polygon points="566.1,118.4 570.5,115.0 568.0,116.1 563.7,118.8" fill="#a1b7da" stroke="#111" stroke-width="0.38" stroke-linejoin="round"/>
<polygon points="579.3,105.4 583.7,99.5 581.1,98.5 576.7,105.7" fill="#c3d1e7" stroke="#111" stroke-width="0.38" stroke-linejoin="round"/>
<polygon points="550.4,121.4 554.8,121.1 552.5,120.6 548.0,120.1" fill="#a1b7da" stroke="#111" stroke-width="0.38" stroke-linejoin="round"/>
<polygon points="561.7,120.8 566.1,118.4 563.7,118.8 559.3,120.4" fill="#a1b7da" stroke="#111" stroke-width="0.38" stroke-linejoin="round"/>
<polygon points="583.7,99.5 588.1,93.5 585.5,90.9 581.1,98.5" fill="#cfdbec" stroke="#111" stroke-width="0.38" stroke-linejoin="round"/>
<polygon points="597.0,83.4 601.4,80.2 598.7,76.5 594.4,78.1" fill="#ffffff" stroke="#111" stroke-width="0.38" stroke-linejoin="round"/>
<polygon points="604.0,86.8 608.3,84.3 605.7,79.1 601.4,80.2" fill="#ffffff" stroke="#111" stroke-width="0.38" stroke-linejoin="round"/>
<polygon points="611.0,89.7 615.4,84.4 612.6,82.5 608.3,84.3" fill="#ebf0f7" stroke="#111" stroke-width="0.38" stroke-linejoin="round"/>
<polygon points="588.1,93.5 592.6,88.0 589.9,83.8 585.5,90.9" fill="#dde5f1" stroke="#111" stroke-width="0.38" stroke-linejoin="round"/>
<polygon points="592.6,88.0 597.0,83.4 594.4,78.1 589.9,83.8" fill="#ffffff" stroke="#111" stroke-width="0.38" stroke-linejoin="round"/>
<polygon points="524.8,109.3 529.6,112.3 527.4,111.2 522.6,108.0" fill="#b7c8e2" stroke="#111" stroke-width="0.38" stroke-linejoin="round"/>
<polygon points="517.7,104.1 522.6,108.0 520.5,107.5 515.6,103.3" fill="#c3d1e7" stroke="#111" stroke-width="0.38" stroke-linejoin="round"/>
<polygon points="531.8,113.9 536.5,116.1 534.3,114.8 529.6,112.3" fill="#acc0de" stroke="#111" stroke-width="0.38" stroke-linejoin="round"/>
<polygon points="557.3,122.5 561.7,120.8 559.3,120.4 554.8,121.1" fill="#a1b7da" stroke="#111" stroke-width="0.38" stroke-linejoin="round"/>
<polygon points="606.5,93.8 611.0,89.7 608.3,84.3 604.0,86.8" fill="#ebf0f7" stroke="#111" stroke-width="0.38" stroke-linejoin="round"/>
<polygon points="538.8,117.9 543.5,119.2 541.2,117.8 536.5,116.1" fill="#acc0de" stroke="#111" stroke-width="0.38" stroke-linejoin="round"/>
<polygon points="510.5,97.7 515.6,103.3 513.6,103.2 508.4,96.9" fill="#cfdbec" stroke="#111" stroke-width="0.38" stroke-linejoin="round"/>
<polygon points="599.6,90.0 604.0,86.8 601.4,80.2 597.0,83.4" fill="#ebf0f7" stroke="#111" stroke-width="0.38" stroke-linejoin="round"/>
<polygon points="545.8,121.1 550.4,121.4 548.0,120.1 543.5,119.2" fill="#a1b7da" stroke="#111" stroke-width="0.38" stroke-linejoin="round"/>
<polygon points="602.2,97.2 606.5,93.8 604.0,86.8 599.6,90.0" fill="#dde5f1" stroke="#111" stroke-width="0.38" stroke-linejoin="round"/>
<polygon points="595.2,93.6 599.6,90.0 597.0,83.4 592.6,88.0" fill="#ebf0f7" stroke="#111" stroke-width="0.38" stroke-linejoin="round"/>
<polygon points="609.2,100.5 613.7,94.8 611.0,89.7 606.5,93.8" fill="#dde5f1" stroke="#111" stroke-width="0.38" stroke-linejoin="round"/>
<polygon points="613.7,94.8 618.3,86.3 615.4,84.4 611.0,89.7" fill="#ebf0f7" stroke="#111" stroke-width="0.38" stroke-linejoin="round"/>
<polygon points="577.5,110.7 581.9,106.3 579.3,105.4 574.9,110.7" fill="#b7c8e2" stroke="#111" stroke-width="0.38" stroke-linejoin="round"/>
<polygon points="590.7,97.7 595.2,93.6 592.6,88.0 588.1,93.5" fill="#dde5f1" stroke="#111" stroke-width="0.38" stroke-linejoin="round"/>
<polygon points="581.9,106.3 586.3,101.9 583.7,99.5 579.3,105.4" fill="#c3d1e7" stroke="#111" stroke-width="0.38" stroke-linejoin="round"/>
<polygon points="573.0,115.0 577.5,110.7 574.9,110.7 570.5,115.0" fill="#b7c8e2" stroke="#111" stroke-width="0.38" stroke-linejoin="round"/>
<polygon points="586.3,101.9 590.7,97.7 588.1,93.5 583.7,99.5" fill="#cfdbec" stroke="#111" stroke-width="0.38" stroke-linejoin="round"/>
<polygon points="604.7,104.1 609.2,100.5 606.5,93.8 602.2,97.2" fill="#cfdbec" stroke="#111" stroke-width="0.38" stroke-linejoin="round"/>
<polygon points="502.9,88.1 508.4,96.9 506.4,96.6 500.8,85.8" fill="#ebf0f7" stroke="#111" stroke-width="0.38" stroke-linejoin="round"/>
<polygon points="552.8,123.4 557.3,122.5 554.8,121.1 550.4,121.4" fill="#a1b7da" stroke="#111" stroke-width="0.38" stroke-linejoin="round"/>
<polygon points="568.6,118.8 573.0,115.0 570.5,115.0 566.1,118.4" fill="#acc0de" stroke="#111" stroke-width="0.38" stroke-linejoin="round"/>
<polygon points="597.8,100.0 602.2,97.2 599.6,90.0 595.2,93.6" fill="#dde5f1" stroke="#111" stroke-width="0.38" stroke-linejoin="round"/>
<polygon points="611.8,106.0 616.4,99.1 613.7,94.8 609.2,100.5" fill="#cfdbec" stroke="#111" stroke-width="0.38" stroke-linejoin="round"/>
<polygon points="564.2,122.2 568.6,118.8 566.1,118.4 561.7,120.8" fill="#a1b7da" stroke="#111" stroke-width="0.38" stroke-linejoin="round"/>
<polygon points="607.4,109.9 611.8,106.0 609.2,100.5 604.7,104.1" fill="#c3d1e7" stroke="#111" stroke-width="0.38" stroke-linejoin="round"/>
<polygon points="600.4,106.3 604.7,104.1 602.2,97.2 597.8,100.0" fill="#cfdbec" stroke="#111" stroke-width="0.38" stroke-linejoin="round"/>
<polygon points="593.4,102.6 597.8,100.0 595.2,93.6 590.7,97.7" fill="#cfdbec" stroke="#111" stroke-width="0.38" stroke-linejoin="round"/>
<polygon points="534.1,116.1 538.8,117.9 536.5,116.1 531.8,113.9" fill="#acc0de" stroke="#111" stroke-width="0.38" stroke-linejoin="round"/>
<polygon points="527.0,111.2 531.8,113.9 529.6,112.3 524.8,109.3" fill="#b7c8e2" stroke="#111" stroke-width="0.38" stroke-linejoin="round"/>
<polygon points="541.2,120.3 545.8,121.1 543.5,119.2 538.8,117.9" fill="#acc0de" stroke="#111" stroke-width="0.38" stroke-linejoin="round"/>
<polygon points="519.8,105.6 524.8,109.3 522.6,108.0 517.7,104.1" fill="#c3d1e7" stroke="#111" stroke-width="0.38" stroke-linejoin="round"/>
<polygon points="559.7,124.7 564.2,122.2 561.7,120.8 557.3,122.5" fill="#a1b7da" stroke="#111" stroke-width="0.38" stroke-linejoin="round"/>
<polygon points="616.4,99.1 621.3,88.1 618.3,86.3 613.7,94.8" fill="#ebf0f7" stroke="#111" stroke-width="0.38" stroke-linejoin="round"/>
<polygon points="603.0,111.6 607.4,109.9 604.7,104.1 600.4,106.3" fill="#c3d1e7" stroke="#111" stroke-width="0.38" stroke-linejoin="round"/>
<polygon points="589.0,105.2 593.4,102.6 590.7,97.7 586.3,101.9" fill="#cfdbec" stroke="#111" stroke-width="0.38" stroke-linejoin="round"/>
<polygon points="548.2,123.7 552.8,123.4 550.4,121.4 545.8,121.1" fill="#a1b7da" stroke="#111" stroke-width="0.38" stroke-linejoin="round"/>
<polygon points="512.6,99.1 517.7,104.1 515.6,103.3 510.5,97.7" fill="#cfdbec" stroke="#111" stroke-width="0.38" stroke-linejoin="round"/>
<polygon points="596.0,107.7 600.4,106.3 597.8,100.0 593.4,102.6" fill="#cfdbec" stroke="#111" stroke-width="0.38" stroke-linejoin="round"/>
<polygon points="610.1,113.8 614.6,109.8 611.8,106.0 607.4,109.9" fill="#c3d1e7" stroke="#111" stroke-width="0.38" stroke-linejoin="round"/>
<polygon points="614.6,109.8 619.2,102.1 616.4,99.1 611.8,106.0" fill="#cfdbec" stroke="#111" stroke-width="0.38" stroke-linejoin="round"/>
<polygon points="584.5,108.1 589.0,105.2 586.3,101.9 581.9,106.3" fill="#c3d1e7" stroke="#111" stroke-width="0.38" stroke-linejoin="round"/>
<polygon points="555.2,126.2 559.7,124.7 557.3,122.5 552.8,123.4" fill="#a1b7da" stroke="#111" stroke-width="0.38" stroke-linejoin="round"/>
<polygon points="580.1,111.5 584.5,108.1 581.9,106.3 577.5,110.7" fill="#c3d1e7" stroke="#111" stroke-width="0.38" stroke-linejoin="round"/>
<polygon points="505.1,90.4 510.5,97.7 508.4,96.9 502.9,88.1" fill="#ebf0f7" stroke="#111" stroke-width="0.38" stroke-linejoin="round"/>
<polygon points="575.6,115.6 580.1,111.5 577.5,110.7 573.0,115.0" fill="#b7c8e2" stroke="#111" stroke-width="0.38" stroke-linejoin="round"/>
<polygon points="605.8,115.2 610.1,113.8 607.4,109.9 603.0,111.6" fill="#b7c8e2" stroke="#111" stroke-width="0.38" stroke-linejoin="round"/>
<polygon points="598.7,112.0 603.0,111.6 600.4,106.3 596.0,107.7" fill="#c3d1e7" stroke="#111" stroke-width="0.38" stroke-linejoin="round"/>
<polygon points="571.2,120.0 575.6,115.6 573.0,115.0 568.6,118.8" fill="#acc0de" stroke="#111" stroke-width="0.38" stroke-linejoin="round"/>
<polygon points="591.6,108.8 596.0,107.7 593.4,102.6 589.0,105.2" fill="#c3d1e7" stroke="#111" stroke-width="0.38" stroke-linejoin="round"/>
<polygon points="566.7,124.0 571.2,120.0 568.6,118.8 564.2,122.2" fill="#acc0de" stroke="#111" stroke-width="0.38" stroke-linejoin="round"/>
<polygon points="619.2,102.1 624.2,89.7 621.3,88.1 616.4,99.1" fill="#ebf0f7" stroke="#111" stroke-width="0.38" stroke-linejoin="round"/>
<polygon points="536.5,118.6 541.2,120.3 538.8,117.9 534.1,116.1" fill="#acc0de" stroke="#111" stroke-width="0.38" stroke-linejoin="round"/>
<polygon points="543.6,123.0 548.2,123.7 545.8,121.1 541.2,120.3" fill="#acc0de" stroke="#111" stroke-width="0.38" stroke-linejoin="round"/>
<polygon points="529.3,113.5 534.1,116.1 531.8,113.9 527.0,111.2" fill="#b7c8e2" stroke="#111" stroke-width="0.38" stroke-linejoin="round"/>
<polygon points="562.2,127.3 566.7,124.0 564.2,122.2 559.7,124.7" fill="#a1b7da" stroke="#111" stroke-width="0.38" stroke-linejoin="round"/>
<polygon points="613.0,115.9 617.5,111.9 614.6,109.8 610.1,113.8" fill="#b7c8e2" stroke="#111" stroke-width="0.38" stroke-linejoin="round"/>
<polygon points="550.7,126.7 555.2,126.2 552.8,123.4 548.2,123.7" fill="#a1b7da" stroke="#111" stroke-width="0.38" stroke-linejoin="round"/>
<polygon points="522.1,107.6 527.0,111.2 524.8,109.3 519.8,105.6" fill="#c3d1e7" stroke="#111" stroke-width="0.38" stroke-linejoin="round"/>
<polygon points="617.5,111.9 622.2,104.1 619.2,102.1 614.6,109.8" fill="#cfdbec" stroke="#111" stroke-width="0.38" stroke-linejoin="round"/>
<polygon points="587.2,110.3 591.6,108.8 589.0,105.2 584.5,108.1" fill="#c3d1e7" stroke="#111" stroke-width="0.38" stroke-linejoin="round"/>
<polygon points="601.5,115.0 605.8,115.2 603.0,111.6 598.7,112.0" fill="#b7c8e2" stroke="#111" stroke-width="0.38" stroke-linejoin="round"/>
<polygon points="514.7,101.0 519.8,105.6 517.7,104.1 512.6,99.1" fill="#cfdbec" stroke="#111" stroke-width="0.38" stroke-linejoin="round"/>
<polygon points="594.4,112.0 598.7,112.0 596.0,107.7 591.6,108.8" fill="#c3d1e7" stroke="#111" stroke-width="0.38" stroke-linejoin="round"/>
<polygon points="557.7,129.3 562.2,127.3 559.7,124.7 555.2,126.2" fill="#a1b7da" stroke="#111" stroke-width="0.38" stroke-linejoin="round"/>
<polygon points="608.6,117.2 613.0,115.9 610.1,113.8 605.8,115.2" fill="#b7c8e2" stroke="#111" stroke-width="0.38" stroke-linejoin="round"/>
<polygon points="582.7,112.8 587.2,110.3 584.5,108.1 580.1,111.5" fill="#c3d1e7" stroke="#111" stroke-width="0.38" stroke-linejoin="round"/>
<polygon points="507.2,92.8 512.6,99.1 510.5,97.7 505.1,90.4" fill="#ebf0f7" stroke="#111" stroke-width="0.38" stroke-linejoin="round"/>
<polygon points="578.3,116.7 582.7,112.8 580.1,111.5 575.6,115.6" fill="#b7c8e2" stroke="#111" stroke-width="0.38" stroke-linejoin="round"/>
<polygon points="546.0,126.2 550.7,126.7 548.2,123.7 543.6,123.0" fill="#acc0de" stroke="#111" stroke-width="0.38" stroke-linejoin="round"/>
<polygon points="622.2,104.1 627.3,91.3 624.2,89.7 619.2,102.1" fill="#ebf0f7" stroke="#111" stroke-width="0.38" stroke-linejoin="round"/>
<polygon points="538.9,121.5 543.6,123.0 541.2,120.3 536.5,118.6" fill="#acc0de" stroke="#111" stroke-width="0.38" stroke-linejoin="round"/>
<polygon points="573.8,121.4 578.3,116.7 575.6,115.6 571.2,120.0" fill="#b7c8e2" stroke="#111" stroke-width="0.38" stroke-linejoin="round"/>
<polygon points="569.3,126.0 573.8,121.4 571.2,120.0 566.7,124.0" fill="#acc0de" stroke="#111" stroke-width="0.38" stroke-linejoin="round"/>
<polygon points="553.1,129.9 557.7,129.3 555.2,126.2 550.7,126.7" fill="#a1b7da" stroke="#111" stroke-width="0.38" stroke-linejoin="round"/>
<polygon points="531.7,116.2 536.5,118.6 534.1,116.1 529.3,113.5" fill="#b7c8e2" stroke="#111" stroke-width="0.38" stroke-linejoin="round"/>
<polygon points="564.8,129.8 569.3,126.0 566.7,124.0 562.2,127.3" fill="#a1b7da" stroke="#111" stroke-width="0.38" stroke-linejoin="round"/>
<polygon points="589.9,112.4 594.4,112.0 591.6,108.8 587.2,110.3" fill="#c3d1e7" stroke="#111" stroke-width="0.38" stroke-linejoin="round"/>
<polygon points="616.0,116.6 620.5,112.7 617.5,111.9 613.0,115.9" fill="#c3d1e7" stroke="#111" stroke-width="0.38" stroke-linejoin="round"/>
<polygon points="524.4,110.1 529.3,113.5 527.0,111.2 522.1,107.6" fill="#c3d1e7" stroke="#111" stroke-width="0.38" stroke-linejoin="round"/>
<polygon points="620.5,112.7 625.2,105.2 622.2,104.1 617.5,111.9" fill="#cfdbec" stroke="#111" stroke-width="0.38" stroke-linejoin="round"/>
<polygon points="597.1,114.3 601.5,115.0 598.7,112.0 594.4,112.0" fill="#c3d1e7" stroke="#111" stroke-width="0.38" stroke-linejoin="round"/>
<polygon points="604.3,116.8 608.6,117.2 605.8,115.2 601.5,115.0" fill="#b7c8e2" stroke="#111" stroke-width="0.38" stroke-linejoin="round"/>
<polygon points="560.2,132.1 564.8,129.8 562.2,127.3 557.7,129.3" fill="#a1b7da" stroke="#111" stroke-width="0.38" stroke-linejoin="round"/>
<polygon points="517.0,103.2 522.1,107.6 519.8,105.6 514.7,101.0" fill="#dde5f1" stroke="#111" stroke-width="0.38" stroke-linejoin="round"/>
<polygon points="611.6,117.9 616.0,116.6 613.0,115.9 608.6,117.2" fill="#b7c8e2" stroke="#111" stroke-width="0.38" stroke-linejoin="round"/>
<polygon points="585.5,114.1 589.9,112.4 587.2,110.3 582.7,112.8" fill="#c3d1e7" stroke="#111" stroke-width="0.38" stroke-linejoin="round"/>
<polygon points="548.5,129.4 553.1,129.9 550.7,126.7 546.0,126.2" fill="#a1b7da" stroke="#111" stroke-width="0.38" stroke-linejoin="round"/>
<polygon points="541.3,124.7 546.0,126.2 543.6,123.0 538.9,121.5" fill="#acc0de" stroke="#111" stroke-width="0.38" stroke-linejoin="round"/>
<polygon points="509.5,95.2 514.7,101.0 512.6,99.1 507.2,92.8" fill="#ebf0f7" stroke="#111" stroke-width="0.38" stroke-linejoin="round"/>
<polygon points="555.6,132.8 560.2,132.1 557.7,129.3 553.1,129.9" fill="#a1b7da" stroke="#111" stroke-width="0.38" stroke-linejoin="round"/>
<polygon points="625.2,105.2 630.3,92.9 627.3,91.3 622.2,104.1" fill="#ebf0f7" stroke="#111" stroke-width="0.38" stroke-linejoin="round"/>
<polygon points="534.0,119.1 538.9,121.5 536.5,118.6 531.7,116.2" fill="#b7c8e2" stroke="#111" stroke-width="0.38" stroke-linejoin="round"/>
<polygon points="580.9,117.8 585.5,114.1 582.7,112.8 578.3,116.7" fill="#c3d1e7" stroke="#111" stroke-width="0.38" stroke-linejoin="round"/>
<polygon points="571.9,127.6 576.4,122.6 573.8,121.4 569.3,126.0" fill="#acc0de" stroke="#111" stroke-width="0.38" stroke-linejoin="round"/>
<polygon points="592.7,114.0 597.1,114.3 594.4,112.0 589.9,112.4" fill="#c3d1e7" stroke="#111" stroke-width="0.38" stroke-linejoin="round"/>
<polygon points="576.4,122.6 580.9,117.8 578.3,116.7 573.8,121.4" fill="#b7c8e2" stroke="#111" stroke-width="0.38" stroke-linejoin="round"/>
<polygon points="567.3,131.7 571.9,127.6 569.3,126.0 564.8,129.8" fill="#acc0de" stroke="#111" stroke-width="0.38" stroke-linejoin="round"/>
<polygon points="600.0,115.8 604.3,116.8 601.5,115.0 597.1,114.3" fill="#c3d1e7" stroke="#111" stroke-width="0.38" stroke-linejoin="round"/>
<polygon points="526.7,112.8 531.7,116.2 529.3,113.5 524.4,110.1" fill="#c3d1e7" stroke="#111" stroke-width="0.38" stroke-linejoin="round"/>
<polygon points="562.8,134.1 567.3,131.7 564.8,129.8 560.2,132.1" fill="#a1b7da" stroke="#111" stroke-width="0.38" stroke-linejoin="round"/>
<polygon points="607.2,117.6 611.6,117.9 608.6,117.2 604.3,116.8" fill="#c3d1e7" stroke="#111" stroke-width="0.38" stroke-linejoin="round"/>
<polygon points="619.1,116.3 623.6,112.6 620.5,112.7 616.0,116.6" fill="#c3d1e7" stroke="#111" stroke-width="0.38" stroke-linejoin="round"/>
<polygon points="623.6,112.6 628.4,105.7 625.2,105.2 620.5,112.7" fill="#cfdbec" stroke="#111" stroke-width="0.38" stroke-linejoin="round"/>
<polygon points="519.3,105.6 524.4,110.1 522.1,107.6 517.0,103.2" fill="#dde5f1" stroke="#111" stroke-width="0.38" stroke-linejoin="round"/>
<polygon points="551.0,132.2 555.6,132.8 553.1,129.9 548.5,129.4" fill="#a1b7da" stroke="#111" stroke-width="0.38" stroke-linejoin="round"/>
<polygon points="543.7,127.7 548.5,129.4 546.0,126.2 541.3,124.7" fill="#acc0de" stroke="#111" stroke-width="0.38" stroke-linejoin="round"/>
<polygon points="588.2,115.2 592.7,114.0 589.9,112.4 585.5,114.1" fill="#c3d1e7" stroke="#111" stroke-width="0.38" stroke-linejoin="round"/>
<polygon points="558.2,134.8 562.8,134.1 560.2,132.1 555.6,132.8" fill="#a1b7da" stroke="#111" stroke-width="0.38" stroke-linejoin="round"/>
<polygon points="614.7,117.6 619.1,116.3 616.0,116.6 611.6,117.9" fill="#c3d1e7" stroke="#111" stroke-width="0.38" stroke-linejoin="round"/>
<polygon points="536.4,122.1 541.3,124.7 538.9,121.5 534.0,119.1" fill="#b7c8e2" stroke="#111" stroke-width="0.38" stroke-linejoin="round"/>
<polygon points="511.7,97.6 517.0,103.2 514.7,101.0 509.5,95.2" fill="#ebf0f7" stroke="#111" stroke-width="0.38" stroke-linejoin="round"/>
<polygon points="628.4,105.7 633.4,94.7 630.3,92.9 625.2,105.2" fill="#ebf0f7" stroke="#111" stroke-width="0.38" stroke-linejoin="round"/>
<polygon points="595.5,115.2 600.0,115.8 597.1,114.3 592.7,114.0" fill="#c3d1e7" stroke="#111" stroke-width="0.38" stroke-linejoin="round"/>
<polygon points="529.1,115.6 534.0,119.1 531.7,116.2 526.7,112.8" fill="#c3d1e7" stroke="#111" stroke-width="0.38" stroke-linejoin="round"/>
<polygon points="583.6,118.6 588.2,115.2 585.5,114.1 580.9,117.8" fill="#c3d1e7" stroke="#111" stroke-width="0.38" stroke-linejoin="round"/>
<polygon points="574.5,128.3 579.1,123.4 576.4,122.6 571.9,127.6" fill="#b7c8e2" stroke="#111" stroke-width="0.38" stroke-linejoin="round"/>
<polygon points="569.9,132.5 574.5,128.3 571.9,127.6 567.3,131.7" fill="#acc0de" stroke="#111" stroke-width="0.38" stroke-linejoin="round"/>
<polygon points="579.1,123.4 583.6,118.6 580.9,117.8 576.4,122.6" fill="#b7c8e2" stroke="#111" stroke-width="0.38" stroke-linejoin="round"/>
<polygon points="602.9,116.6 607.2,117.6 604.3,116.8 600.0,115.8" fill="#c3d1e7" stroke="#111" stroke-width="0.38" stroke-linejoin="round"/>
<polygon points="565.3,134.9 569.9,132.5 567.3,131.7 562.8,134.1" fill="#a1b7da" stroke="#111" stroke-width="0.38" stroke-linejoin="round"/>
<polygon points="521.6,108.2 526.7,112.8 524.4,110.1 519.3,105.6" fill="#dde5f1" stroke="#111" stroke-width="0.38" stroke-linejoin="round"/>
<polygon points="546.2,130.3 551.0,132.2 548.5,129.4 543.7,127.7" fill="#acc0de" stroke="#111" stroke-width="0.38" stroke-linejoin="round"/>
<polygon points="553.5,134.1 558.2,134.8 555.6,132.8 551.0,132.2" fill="#a1b7da" stroke="#111" stroke-width="0.38" stroke-linejoin="round"/>
<polygon points="610.3,117.6 614.7,117.6 611.6,117.9 607.2,117.6" fill="#c3d1e7" stroke="#111" stroke-width="0.38" stroke-linejoin="round"/>
<polygon points="626.8,111.8 631.6,106.0 628.4,105.7 623.6,112.6" fill="#dde5f1" stroke="#111" stroke-width="0.38" stroke-linejoin="round"/>
<polygon points="538.9,124.9 543.7,127.7 541.3,124.7 536.4,122.1" fill="#b7c8e2" stroke="#111" stroke-width="0.38" stroke-linejoin="round"/>
<polygon points="622.3,115.1 626.8,111.8 623.6,112.6 619.1,116.3" fill="#cfdbec" stroke="#111" stroke-width="0.38" stroke-linejoin="round"/>
<polygon points="591.0,116.1 595.5,115.2 592.7,114.0 588.2,115.2" fill="#cfdbec" stroke="#111" stroke-width="0.38" stroke-linejoin="round"/>
<polygon points="514.0,100.0 519.3,105.6 517.0,103.2 511.7,97.6" fill="#ebf0f7" stroke="#111" stroke-width="0.38" stroke-linejoin="round"/>
<polygon points="560.7,135.6 565.3,134.9 562.8,134.1 558.2,134.8" fill="#a1b7da" stroke="#111" stroke-width="0.38" stroke-linejoin="round"/>
<polygon points="631.6,106.0 636.6,96.9 633.4,94.7 628.4,105.7" fill="#ebf0f7" stroke="#111" stroke-width="0.38" stroke-linejoin="round"/>
<polygon points="531.5,118.4 536.4,122.1 534.0,119.1 529.1,115.6" fill="#c3d1e7" stroke="#111" stroke-width="0.38" stroke-linejoin="round"/>
<polygon points="617.8,116.6 622.3,115.1 619.1,116.3 614.7,117.6" fill="#cfdbec" stroke="#111" stroke-width="0.38" stroke-linejoin="round"/>
<polygon points="598.4,116.0 602.9,116.6 600.0,115.8 595.5,115.2" fill="#cfdbec" stroke="#111" stroke-width="0.38" stroke-linejoin="round"/>
<polygon points="586.4,119.1 591.0,116.1 588.2,115.2 583.6,118.6" fill="#c3d1e7" stroke="#111" stroke-width="0.38" stroke-linejoin="round"/>
<polygon points="523.9,110.9 529.1,115.6 526.7,112.8 521.6,108.2" fill="#dde5f1" stroke="#111" stroke-width="0.38" stroke-linejoin="round"/>
<polygon points="581.8,123.6 586.4,119.1 583.6,118.6 579.1,123.4" fill="#c3d1e7" stroke="#111" stroke-width="0.38" stroke-linejoin="round"/>
<polygon points="577.2,128.4 581.8,123.6 579.1,123.4 574.5,128.3" fill="#b7c8e2" stroke="#111" stroke-width="0.38" stroke-linejoin="round"/>
<polygon points="605.8,116.9 610.3,117.6 607.2,117.6 602.9,116.6" fill="#cfdbec" stroke="#111" stroke-width="0.38" stroke-linejoin="round"/>
<polygon points="548.7,132.1 553.5,134.1 551.0,132.2 546.2,130.3" fill="#acc0de" stroke="#111" stroke-width="0.38" stroke-linejoin="round"/>
<polygon points="572.6,132.3 577.2,128.4 574.5,128.3 569.9,132.5" fill="#acc0de" stroke="#111" stroke-width="0.38" stroke-linejoin="round"/>
<polygon points="541.3,127.3 546.2,130.3 543.7,127.7 538.9,124.9" fill="#b7c8e2" stroke="#111" stroke-width="0.38" stroke-linejoin="round"/>
<polygon points="556.0,134.8 560.7,135.6 558.2,134.8 553.5,134.1" fill="#acc0de" stroke="#111" stroke-width="0.38" stroke-linejoin="round"/>
<polygon points="567.9,134.6 572.6,132.3 569.9,132.5 565.3,134.9" fill="#acc0de" stroke="#111" stroke-width="0.38" stroke-linejoin="round"/>
<polygon points="516.3,102.5 521.6,108.2 519.3,105.6 514.0,100.0" fill="#ebf0f7" stroke="#111" stroke-width="0.38" stroke-linejoin="round"/>
<polygon points="613.4,116.9 617.8,116.6 614.7,117.6 610.3,117.6" fill="#cfdbec" stroke="#111" stroke-width="0.38" stroke-linejoin="round"/>
<polygon points="630.2,110.8 634.9,106.2 631.6,106.0 626.8,111.8" fill="#ebf0f7" stroke="#111" stroke-width="0.38" stroke-linejoin="round"/>
<polygon points="533.9,121.0 538.9,124.9 536.4,122.1 531.5,118.4" fill="#c3d1e7" stroke="#111" stroke-width="0.38" stroke-linejoin="round"/>
<polygon points="593.9,116.7 598.4,116.0 595.5,115.2 591.0,116.1" fill="#cfdbec" stroke="#111" stroke-width="0.38" stroke-linejoin="round"/>
<polygon points="634.9,106.2 639.7,99.4 636.6,96.9 631.6,106.0" fill="#ffffff" stroke="#111" stroke-width="0.38" stroke-linejoin="round"/>
<polygon points="625.6,113.6 630.2,110.8 626.8,111.8 622.3,115.1" fill="#dde5f1" stroke="#111" stroke-width="0.38" stroke-linejoin="round"/>
<polygon points="563.3,135.2 567.9,134.6 565.3,134.9 560.7,135.6" fill="#acc0de" stroke="#111" stroke-width="0.38" stroke-linejoin="round"/>
<polygon points="526.3,113.5 531.5,118.4 529.1,115.6 523.9,110.9" fill="#dde5f1" stroke="#111" stroke-width="0.38" stroke-linejoin="round"/>
<polygon points="601.4,116.5 605.8,116.9 602.9,116.6 598.4,116.0" fill="#cfdbec" stroke="#111" stroke-width="0.38" stroke-linejoin="round"/>
<polygon points="589.3,119.4 593.9,116.7 591.0,116.1 586.4,119.1" fill="#cfdbec" stroke="#111" stroke-width="0.38" stroke-linejoin="round"/>
<polygon points="543.8,129.1 548.7,132.1 546.2,130.3 541.3,127.3" fill="#b7c8e2" stroke="#111" stroke-width="0.38" stroke-linejoin="round"/>
<polygon points="621.1,115.2 625.6,113.6 622.3,115.1 617.8,116.6" fill="#dde5f1" stroke="#111" stroke-width="0.38" stroke-linejoin="round"/>
<polygon points="551.2,132.9 556.0,134.8 553.5,134.1 548.7,132.1" fill="#acc0de" stroke="#111" stroke-width="0.38" stroke-linejoin="round"/>
<polygon points="584.6,123.5 589.3,119.4 586.4,119.1 581.8,123.6" fill="#c3d1e7" stroke="#111" stroke-width="0.38" stroke-linejoin="round"/>
<polygon points="608.9,116.7 613.4,116.9 610.3,117.6 605.8,116.9" fill="#cfdbec" stroke="#111" stroke-width="0.38" stroke-linejoin="round"/>
<polygon points="579.9,127.8 584.6,123.5 581.8,123.6 577.2,128.4" fill="#c3d1e7" stroke="#111" stroke-width="0.38" stroke-linejoin="round"/>
<polygon points="518.6,105.0 523.9,110.9 521.6,108.2 516.3,102.5" fill="#ebf0f7" stroke="#111" stroke-width="0.38" stroke-linejoin="round"/>
<polygon points="536.3,123.3 541.3,127.3 538.9,124.9 533.9,121.0" fill="#c3d1e7" stroke="#111" stroke-width="0.38" stroke-linejoin="round"/>
<polygon points="575.3,131.4 579.9,127.8 577.2,128.4 572.6,132.3" fill="#b7c8e2" stroke="#111" stroke-width="0.38" stroke-linejoin="round"/>
<polygon points="558.5,134.6 563.3,135.2 560.7,135.6 556.0,134.8" fill="#acc0de" stroke="#111" stroke-width="0.38" stroke-linejoin="round"/>
<polygon points="638.2,106.7 642.9,102.5 639.7,99.4 634.9,106.2" fill="#ffffff" stroke="#111" stroke-width="0.38" stroke-linejoin="round"/>
<polygon points="570.6,133.5 575.3,131.4 572.6,132.3 567.9,134.6" fill="#b7c8e2" stroke="#111" stroke-width="0.38" stroke-linejoin="round"/>
<polygon points="596.8,117.2 601.4,116.5 598.4,116.0 593.9,116.7" fill="#dde5f1" stroke="#111" stroke-width="0.38" stroke-linejoin="round"/>
<polygon points="633.6,109.8 638.2,106.7 634.9,106.2 630.2,110.8" fill="#ebf0f7" stroke="#111" stroke-width="0.38" stroke-linejoin="round"/>
<polygon points="528.7,116.1 533.9,121.0 531.5,118.4 526.3,113.5" fill="#dde5f1" stroke="#111" stroke-width="0.38" stroke-linejoin="round"/>
<polygon points="616.6,116.0 621.1,115.2 617.8,116.6 613.4,116.9" fill="#dde5f1" stroke="#111" stroke-width="0.38" stroke-linejoin="round"/>
<polygon points="629.0,112.1 633.6,109.8 630.2,110.8 625.6,113.6" fill="#ebf0f7" stroke="#111" stroke-width="0.38" stroke-linejoin="round"/>
<polygon points="604.4,116.7 608.9,116.7 605.8,116.9 601.4,116.5" fill="#dde5f1" stroke="#111" stroke-width="0.38" stroke-linejoin="round"/>
<polygon points="565.9,134.1 570.6,133.5 567.9,134.6 563.3,135.2" fill="#b7c8e2" stroke="#111" stroke-width="0.38" stroke-linejoin="round"/>
<polygon points="592.2,119.6 596.8,117.2 593.9,116.7 589.3,119.4" fill="#cfdbec" stroke="#111" stroke-width="0.38" stroke-linejoin="round"/>
<polygon points="546.2,130.0 551.2,132.9 548.7,132.1 543.8,129.1" fill="#b7c8e2" stroke="#111" stroke-width="0.38" stroke-linejoin="round"/>
<polygon points="521.0,107.5 526.3,113.5 523.9,110.9 518.6,105.0" fill="#ebf0f7" stroke="#111" stroke-width="0.38" stroke-linejoin="round"/>
<polygon points="538.7,125.1 543.8,129.1 541.3,127.3 536.3,123.3" fill="#c3d1e7" stroke="#111" stroke-width="0.38" stroke-linejoin="round"/>
<polygon points="641.5,107.8 646.0,106.4 642.9,102.5 638.2,106.7" fill="#ffffff" stroke="#111" stroke-width="0.38" stroke-linejoin="round"/>
<polygon points="553.7,132.8 558.5,134.6 556.0,134.8 551.2,132.9" fill="#b7c8e2" stroke="#111" stroke-width="0.38" stroke-linejoin="round"/>
<polygon points="587.5,123.1 592.2,119.6 589.3,119.4 584.6,123.5" fill="#cfdbec" stroke="#111" stroke-width="0.38" stroke-linejoin="round"/>
<polygon points="612.0,116.3 616.6,116.0 613.4,116.9 608.9,116.7" fill="#dde5f1" stroke="#111" stroke-width="0.38" stroke-linejoin="round"/>
<polygon points="624.4,113.7 629.0,112.1 625.6,113.6 621.1,115.2" fill="#ebf0f7" stroke="#111" stroke-width="0.38" stroke-linejoin="round"/>
<polygon points="582.7,126.9 587.5,123.1 584.6,123.5 579.9,127.8" fill="#cfdbec" stroke="#111" stroke-width="0.38" stroke-linejoin="round"/>
<polygon points="531.1,118.4 536.3,123.3 533.9,121.0 528.7,116.1" fill="#dde5f1" stroke="#111" stroke-width="0.38" stroke-linejoin="round"/>
<polygon points="578.0,130.1 582.7,126.9 579.9,127.8 575.3,131.4" fill="#c3d1e7" stroke="#111" stroke-width="0.38" stroke-linejoin="round"/>
<polygon points="637.0,109.3 641.5,107.8 638.2,106.7 633.6,109.8" fill="#ffffff" stroke="#111" stroke-width="0.38" stroke-linejoin="round"/>
<polygon points="599.8,117.5 604.4,116.7 601.4,116.5 596.8,117.2" fill="#dde5f1" stroke="#111" stroke-width="0.38" stroke-linejoin="round"/>
<polygon points="561.1,133.6 565.9,134.1 563.3,135.2 558.5,134.6" fill="#b7c8e2" stroke="#111" stroke-width="0.38" stroke-linejoin="round"/>
<polygon points="573.3,131.9 578.0,130.1 575.3,131.4 570.6,133.5" fill="#c3d1e7" stroke="#111" stroke-width="0.38" stroke-linejoin="round"/>
<polygon points="619.9,114.8 624.4,113.7 621.1,115.2 616.6,116.0" fill="#ebf0f7" stroke="#111" stroke-width="0.38" stroke-linejoin="round"/>
<polygon points="523.4,110.1 528.7,116.1 526.3,113.5 521.0,107.5" fill="#ebf0f7" stroke="#111" stroke-width="0.38" stroke-linejoin="round"/>
<polygon points="607.5,116.8 612.0,116.3 608.9,116.7 604.4,116.7" fill="#dde5f1" stroke="#111" stroke-width="0.38" stroke-linejoin="round"/>
<polygon points="632.4,110.8 637.0,109.3 633.6,109.8 629.0,112.1" fill="#ffffff" stroke="#111" stroke-width="0.38" stroke-linejoin="round"/>
<polygon points="595.1,119.6 599.8,117.5 596.8,117.2 592.2,119.6" fill="#dde5f1" stroke="#111" stroke-width="0.38" stroke-linejoin="round"/>
<polygon points="541.2,126.4 546.2,130.0 543.8,129.1 538.7,125.1" fill="#cfdbec" stroke="#111" stroke-width="0.38" stroke-linejoin="round"/>
<polygon points="548.7,130.3 553.7,132.8 551.2,132.9 546.2,130.0" fill="#c3d1e7" stroke="#111" stroke-width="0.38" stroke-linejoin="round"/>
<polygon points="568.5,132.5 573.3,131.9 570.6,133.5 565.9,134.1" fill="#c3d1e7" stroke="#111" stroke-width="0.38" stroke-linejoin="round"/>
<polygon points="533.6,120.5 538.7,125.1 536.3,123.3 531.1,118.4" fill="#dde5f1" stroke="#111" stroke-width="0.38" stroke-linejoin="round"/>
<polygon points="590.4,122.6 595.1,119.6 592.2,119.6 587.5,123.1" fill="#dde5f1" stroke="#111" stroke-width="0.38" stroke-linejoin="round"/>
<polygon points="556.2,132.1 561.1,133.6 558.5,134.6 553.7,132.8" fill="#c3d1e7" stroke="#111" stroke-width="0.38" stroke-linejoin="round"/>
<polygon points="615.3,115.8 619.9,114.8 616.6,116.0 612.0,116.3" fill="#ebf0f7" stroke="#111" stroke-width="0.38" stroke-linejoin="round"/>
<polygon points="627.8,112.3 632.4,110.8 629.0,112.1 624.4,113.7" fill="#ffffff" stroke="#111" stroke-width="0.38" stroke-linejoin="round"/>
<polygon points="585.6,125.8 590.4,122.6 587.5,123.1 582.7,126.9" fill="#cfdbec" stroke="#111" stroke-width="0.38" stroke-linejoin="round"/>
<polygon points="602.8,117.8 607.5,116.8 604.4,116.7 599.8,117.5" fill="#ebf0f7" stroke="#111" stroke-width="0.38" stroke-linejoin="round"/>
<polygon points="525.8,112.7 531.1,118.4 528.7,116.1 523.4,110.1" fill="#ebf0f7" stroke="#111" stroke-width="0.38" stroke-linejoin="round"/>
<polygon points="580.9,128.4 585.6,125.8 582.7,126.9 578.0,130.1" fill="#cfdbec" stroke="#111" stroke-width="0.38" stroke-linejoin="round"/>
<polygon points="563.7,132.2 568.5,132.5 565.9,134.1 561.1,133.6" fill="#c3d1e7" stroke="#111" stroke-width="0.38" stroke-linejoin="round"/>
<polygon points="623.2,113.8 627.8,112.3 624.4,113.7 619.9,114.8" fill="#ffffff" stroke="#111" stroke-width="0.38" stroke-linejoin="round"/>
<polygon points="610.6,116.8 615.3,115.8 612.0,116.3 607.5,116.8" fill="#ebf0f7" stroke="#111" stroke-width="0.38" stroke-linejoin="round"/>
<polygon points="598.1,119.7 602.8,117.8 599.8,117.5 595.1,119.6" fill="#ebf0f7" stroke="#111" stroke-width="0.38" stroke-linejoin="round"/>
<polygon points="543.7,127.2 548.7,130.3 546.2,130.0 541.2,126.4" fill="#cfdbec" stroke="#111" stroke-width="0.38" stroke-linejoin="round"/>
<polygon points="576.1,130.1 580.9,128.4 578.0,130.1 573.3,131.9" fill="#cfdbec" stroke="#111" stroke-width="0.38" stroke-linejoin="round"/>
<polygon points="536.0,122.3 541.2,126.4 538.7,125.1 533.6,120.5" fill="#dde5f1" stroke="#111" stroke-width="0.38" stroke-linejoin="round"/>
<polygon points="551.3,130.1 556.2,132.1 553.7,132.8 548.7,130.3" fill="#cfdbec" stroke="#111" stroke-width="0.38" stroke-linejoin="round"/>
<polygon points="593.4,122.1 598.1,119.7 595.1,119.6 590.4,122.6" fill="#dde5f1" stroke="#111" stroke-width="0.38" stroke-linejoin="round"/>
<polygon points="528.3,115.4 533.6,120.5 531.1,118.4 525.8,112.7" fill="#ebf0f7" stroke="#111" stroke-width="0.38" stroke-linejoin="round"/>
<polygon points="618.5,115.4 623.2,113.8 619.9,114.8 615.3,115.8" fill="#ffffff" stroke="#111" stroke-width="0.38" stroke-linejoin="round"/>
<polygon points="571.3,130.7 576.1,130.1 573.3,131.9 568.5,132.5" fill="#cfdbec" stroke="#111" stroke-width="0.38" stroke-linejoin="round"/>
<polygon points="605.9,118.1 610.6,116.8 607.5,116.8 602.8,117.8" fill="#ebf0f7" stroke="#111" stroke-width="0.38" stroke-linejoin="round"/>
<polygon points="558.8,131.2 563.7,132.2 561.1,133.6 556.2,132.1" fill="#cfdbec" stroke="#111" stroke-width="0.38" stroke-linejoin="round"/>
<polygon points="588.6,124.6 593.4,122.1 590.4,122.6 585.6,125.8" fill="#dde5f1" stroke="#111" stroke-width="0.38" stroke-linejoin="round"/>
<polygon points="583.8,126.8 588.6,124.6 585.6,125.8 580.9,128.4" fill="#dde5f1" stroke="#111" stroke-width="0.38" stroke-linejoin="round"/>
<polygon points="601.2,119.8 605.9,118.1 602.8,117.8 598.1,119.7" fill="#ebf0f7" stroke="#111" stroke-width="0.38" stroke-linejoin="round"/>
<polygon points="613.8,116.9 618.5,115.4 615.3,115.8 610.6,116.8" fill="#ffffff" stroke="#111" stroke-width="0.38" stroke-linejoin="round"/>
<polygon points="538.5,123.9 543.7,127.2 541.2,126.4 536.0,122.3" fill="#dde5f1" stroke="#111" stroke-width="0.38" stroke-linejoin="round"/>
<polygon points="546.2,127.8 551.3,130.1 548.7,130.3 543.7,127.2" fill="#dde5f1" stroke="#111" stroke-width="0.38" stroke-linejoin="round"/>
<polygon points="566.4,130.7 571.3,130.7 568.5,132.5 563.7,132.2" fill="#cfdbec" stroke="#111" stroke-width="0.38" stroke-linejoin="round"/>
<polygon points="530.8,118.0 536.0,122.3 533.6,120.5 528.3,115.4" fill="#ebf0f7" stroke="#111" stroke-width="0.38" stroke-linejoin="round"/>
<polygon points="553.8,129.8 558.8,131.2 556.2,132.1 551.3,130.1" fill="#cfdbec" stroke="#111" stroke-width="0.38" stroke-linejoin="round"/>
<polygon points="579.0,128.3 583.8,126.8 580.9,128.4 576.1,130.1" fill="#dde5f1" stroke="#111" stroke-width="0.38" stroke-linejoin="round"/>
<polygon points="596.4,121.7 601.2,119.8 598.1,119.7 593.4,122.1" fill="#ebf0f7" stroke="#111" stroke-width="0.38" stroke-linejoin="round"/>
<polygon points="609.1,118.4 613.8,116.9 610.6,116.8 605.9,118.1" fill="#ffffff" stroke="#111" stroke-width="0.38" stroke-linejoin="round"/>
<polygon points="561.5,130.3 566.4,130.7 563.7,132.2 558.8,131.2" fill="#dde5f1" stroke="#111" stroke-width="0.38" stroke-linejoin="round"/>
<polygon points="591.6,123.7 596.4,121.7 593.4,122.1 588.6,124.6" fill="#ebf0f7" stroke="#111" stroke-width="0.38" stroke-linejoin="round"/>
<polygon points="574.1,129.1 579.0,128.3 576.1,130.1 571.3,130.7" fill="#dde5f1" stroke="#111" stroke-width="0.38" stroke-linejoin="round"/>
<polygon points="541.1,125.5 546.2,127.8 543.7,127.2 538.5,123.9" fill="#ebf0f7" stroke="#111" stroke-width="0.38" stroke-linejoin="round"/>
<polygon points="604.3,120.0 609.1,118.4 605.9,118.1 601.2,119.8" fill="#ffffff" stroke="#111" stroke-width="0.38" stroke-linejoin="round"/>
<polygon points="533.3,120.8 538.5,123.9 536.0,122.3 530.8,118.0" fill="#ebf0f7" stroke="#111" stroke-width="0.38" stroke-linejoin="round"/>
<polygon points="548.8,128.3 553.8,129.8 551.3,130.1 546.2,127.8" fill="#dde5f1" stroke="#111" stroke-width="0.38" stroke-linejoin="round"/>
<polygon points="586.8,125.5 591.6,123.7 588.6,124.6 583.8,126.8" fill="#ebf0f7" stroke="#111" stroke-width="0.38" stroke-linejoin="round"/>
<polygon points="569.2,129.6 574.1,129.1 571.3,130.7 566.4,130.7" fill="#dde5f1" stroke="#111" stroke-width="0.38" stroke-linejoin="round"/>
<polygon points="599.5,121.6 604.3,120.0 601.2,119.8 596.4,121.7" fill="#ffffff" stroke="#111" stroke-width="0.38" stroke-linejoin="round"/>
<polygon points="556.5,129.6 561.5,130.3 558.8,131.2 553.8,129.8" fill="#dde5f1" stroke="#111" stroke-width="0.38" stroke-linejoin="round"/>
<polygon points="581.9,126.9 586.8,125.5 583.8,126.8 579.0,128.3" fill="#ebf0f7" stroke="#111" stroke-width="0.38" stroke-linejoin="round"/>
<polygon points="535.9,123.5 541.1,125.5 538.5,123.9 533.3,120.8" fill="#ffffff" stroke="#111" stroke-width="0.38" stroke-linejoin="round"/>
<polygon points="594.7,123.2 599.5,121.6 596.4,121.7 591.6,123.7" fill="#ffffff" stroke="#111" stroke-width="0.38" stroke-linejoin="round"/>
<polygon points="543.7,127.1 548.8,128.3 546.2,127.8 541.1,125.5" fill="#ebf0f7" stroke="#111" stroke-width="0.38" stroke-linejoin="round"/>
<polygon points="564.2,129.8 569.2,129.6 566.4,130.7 561.5,130.3" fill="#dde5f1" stroke="#111" stroke-width="0.38" stroke-linejoin="round"/>
<polygon points="577.0,128.1 581.9,126.9 579.0,128.3 574.1,129.1" fill="#ebf0f7" stroke="#111" stroke-width="0.38" stroke-linejoin="round"/>
<polygon points="551.4,129.1 556.5,129.6 553.8,129.8 548.8,128.3" fill="#ebf0f7" stroke="#111" stroke-width="0.38" stroke-linejoin="round"/>
<polygon points="589.8,124.8 594.7,123.2 591.6,123.7 586.8,125.5" fill="#ffffff" stroke="#111" stroke-width="0.38" stroke-linejoin="round"/>
<polygon points="572.0,129.1 577.0,128.1 574.1,129.1 569.2,129.6" fill="#ebf0f7" stroke="#111" stroke-width="0.38" stroke-linejoin="round"/>
<polygon points="559.2,129.9 564.2,129.8 561.5,130.3 556.5,129.6" fill="#ebf0f7" stroke="#111" stroke-width="0.38" stroke-linejoin="round"/>
<polygon points="538.5,126.3 543.7,127.1 541.1,125.5 535.9,123.5" fill="#ffffff" stroke="#111" stroke-width="0.38" stroke-linejoin="round"/>
<polygon points="584.9,126.4 589.8,124.8 586.8,125.5 581.9,126.9" fill="#ffffff" stroke="#111" stroke-width="0.38" stroke-linejoin="round"/>
<polygon points="546.3,128.8 551.4,129.1 548.8,128.3 543.7,127.1" fill="#ebf0f7" stroke="#111" stroke-width="0.38" stroke-linejoin="round"/>
<polygon points="567.0,130.0 572.0,129.1 569.2,129.6 564.2,129.8" fill="#ebf0f7" stroke="#111" stroke-width="0.38" stroke-linejoin="round"/>
<polygon points="579.9,128.0 584.9,126.4 581.9,126.9 577.0,128.1" fill="#ffffff" stroke="#111" stroke-width="0.38" stroke-linejoin="round"/>
<polygon points="554.1,130.2 559.2,129.9 556.5,129.6 551.4,129.1" fill="#ebf0f7" stroke="#111" stroke-width="0.38" stroke-linejoin="round"/>
<polygon points="541.1,129.2 546.3,128.8 543.7,127.1 538.5,126.3" fill="#ffffff" stroke="#111" stroke-width="0.38" stroke-linejoin="round"/>
<polygon points="562.0,130.9 567.0,130.0 564.2,129.8 559.2,129.9" fill="#ebf0f7" stroke="#111" stroke-width="0.38" stroke-linejoin="round"/>
<polygon points="574.9,129.6 579.9,128.0 577.0,128.1 572.0,129.1" fill="#ffffff" stroke="#111" stroke-width="0.38" stroke-linejoin="round"/>
<polygon points="549.0,130.8 554.1,130.2 551.4,129.1 546.3,128.8" fill="#ffffff" stroke="#111" stroke-width="0.38" stroke-linejoin="round"/>
<polygon points="569.9,131.3 574.9,129.6 572.0,129.1 567.0,130.0" fill="#ffffff" stroke="#111" stroke-width="0.38" stroke-linejoin="round"/>
<polygon points="556.9,132.0 562.0,130.9 559.2,129.9 554.1,130.2" fill="#ffffff" stroke="#111" stroke-width="0.38" stroke-linejoin="round"/>
<polygon points="543.8,132.1 549.0,130.8 546.3,128.8 541.1,129.2" fill="#ffffff" stroke="#111" stroke-width="0.38" stroke-linejoin="round"/>
<polygon points="564.8,132.9 569.9,131.3 567.0,130.0 562.0,130.9" fill="#ffffff" stroke="#111" stroke-width="0.38" stroke-linejoin="round"/>
<polygon points="551.7,133.3 556.9,132.0 554.1,130.2 549.0,130.8" fill="#ffffff" stroke="#111" stroke-width="0.38" stroke-linejoin="round"/>
<polygon points="559.7,134.6 564.8,132.9 562.0,130.9 556.9,132.0" fill="#ffffff" stroke="#111" stroke-width="0.38" stroke-linejoin="round"/>
<polygon points="546.6,135.0 551.7,133.3 549.0,130.8 543.8,132.1" fill="#ffffff" stroke="#111" stroke-width="0.38" stroke-linejoin="round"/>
<polygon points="554.5,136.3 559.7,134.6 556.9,132.0 551.7,133.3" fill="#ffffff" stroke="#111" stroke-width="0.38" stroke-linejoin="round"/>
<polygon points="549.3,138.0 554.5,136.3 551.7,133.3 546.6,135.0" fill="#ffffff" stroke="#111" stroke-width="0.38" stroke-linejoin="round"/>
<line x1="550.13" y1="222.39" x2="547.04" y2="127.70" stroke="#444" stroke-width="0.7"/>
<line x1="492.06" y1="85.12" x2="495.66" y2="85.12" stroke="#444" stroke-width="0.7"/>
<text x="486.46" y="87.22" font-size="6" text-anchor="middle" fill="#4a4646">0</text>
<line x1="493.96" y1="105.67" x2="497.56" y2="105.67" stroke="#444" stroke-width="0.7"/>
<text x="488.36" y="107.77" font-size="6" text-anchor="middle" fill="#4a4646">-10</text>
<line x1="495.77" y1="125.24" x2="499.37" y2="125.24" stroke="#444" stroke-width="0.7"/>
<text x="490.17" y="127.34" font-size="6" text-anchor="middle" fill="#4a4646">-20</text>
<line x1="497.50" y1="143.88" x2="501.10" y2="143.88" stroke="#444" stroke-width="0.7"/>
<text x="491.90" y="145.98" font-size="6" text-anchor="middle" fill="#4a4646">-30</text>
<line x1="548.23" y1="219.94" x2="545.33" y2="222.84" stroke="#444" stroke-width="0.7"/>
<text x="542.03" y="231.64" font-size="6" text-anchor="middle" fill="#4a4646">0</text>
<line x1="538.48" y1="207.28" x2="535.58" y2="210.18" stroke="#444" stroke-width="0.7"/>
<text x="532.28" y="218.56" font-size="6" text-anchor="middle" fill="#4a4646">0.32</text>
<line x1="529.23" y1="195.27" x2="526.33" y2="198.17" stroke="#444" stroke-width="0.7"/>
<text x="523.03" y="206.13" font-size="6" text-anchor="middle" fill="#4a4646">1.6</text>
<line x1="520.44" y1="183.86" x2="517.54" y2="186.76" stroke="#444" stroke-width="0.7"/>
<text x="514.24" y="194.30" font-size="6" text-anchor="middle" fill="#4a4646">8</text>
<line x1="512.08" y1="173.01" x2="509.18" y2="175.91" stroke="#444" stroke-width="0.7"/>
<text x="505.88" y="183.03" font-size="6" text-anchor="middle" fill="#4a4646">40</text>
<line x1="504.12" y1="162.68" x2="501.22" y2="165.58" stroke="#444" stroke-width="0.7"/>
<text x="497.92" y="172.28" font-size="6" text-anchor="middle" fill="#4a4646">200</text>
<line x1="553.67" y1="221.01" x2="554.57" y2="225.21" stroke="#444" stroke-width="0.7"/>
<text x="557.27" y="235.11" font-size="6" text-anchor="middle" fill="#4a4646">0</text>
<line x1="572.16" y1="213.76" x2="573.06" y2="217.96" stroke="#444" stroke-width="0.7"/>
<text x="575.76" y="227.30" font-size="6" text-anchor="middle" fill="#4a4646">7.81</text>
<line x1="590.13" y1="206.71" x2="591.03" y2="210.91" stroke="#444" stroke-width="0.7"/>
<text x="593.73" y="219.69" font-size="6" text-anchor="middle" fill="#4a4646">31.25</text>
<line x1="607.61" y1="199.86" x2="608.51" y2="204.06" stroke="#444" stroke-width="0.7"/>
<text x="611.21" y="212.28" font-size="6" text-anchor="middle" fill="#4a4646">125</text>
<line x1="624.61" y1="193.20" x2="625.51" y2="197.40" stroke="#444" stroke-width="0.7"/>
<text x="628.21" y="205.06" font-size="6" text-anchor="middle" fill="#4a4646">500</text>
<line x1="641.15" y1="186.72" x2="642.05" y2="190.92" stroke="#444" stroke-width="0.7"/>
<text x="644.75" y="198.02" font-size="6" text-anchor="middle" fill="#4a4646">2000</text>
<text x="511.80" y="207.80" font-size="6.4" text-anchor="middle" fill="#4a4646" transform="rotate(52 511.80 207.80)">mebendazole (nM)</text>
<text x="608.00" y="226.80" font-size="5.8" text-anchor="middle" fill="#4a4646" transform="rotate(-22 608.00 226.80)">artesunate (nM)</text>
<text x="482.70" y="115.60" font-size="5.8" text-anchor="middle" fill="#4a4646" transform="rotate(-90 482.70 115.60)">Synergy Score</text>
<text x="683.85" y="87.90" font-size="5.3" text-anchor="middle" fill="#333">Synergy Score</text>
<rect x="678.40" y="94.70" width="10.90" height="2.36" fill="#b62631"/>
<rect x="678.40" y="96.76" width="10.90" height="2.36" fill="#ba313c"/>
<rect x="678.40" y="98.83" width="10.90" height="2.36" fill="#be3d47"/>
<rect x="678.40" y="100.89" width="10.90" height="2.36" fill="#c14852"/>
<rect x="678.40" y="102.96" width="10.90" height="2.36" fill="#c5535d"/>
<rect x="678.40" y="105.02" width="10.90" height="2.36" fill="#c95f68"/>
<rect x="678.40" y="107.08" width="10.90" height="2.36" fill="#cd6a72"/>
<rect x="678.40" y="109.15" width="10.90" height="2.36" fill="#d1767d"/>
<rect x="678.40" y="111.21" width="10.90" height="2.36" fill="#d58188"/>
<rect x="678.40" y="113.28" width="10.90" height="2.36" fill="#d98d93"/>
<rect x="678.40" y="115.34" width="10.90" height="2.36" fill="#dc989e"/>
<rect x="678.40" y="117.41" width="10.90" height="2.36" fill="#e0a4a8"/>
<rect x="678.40" y="119.47" width="10.90" height="2.36" fill="#e4afb3"/>
<rect x="678.40" y="121.53" width="10.90" height="2.36" fill="#e8babe"/>
<rect x="678.40" y="123.60" width="10.90" height="2.36" fill="#ecc6c9"/>
<rect x="678.40" y="125.66" width="10.90" height="2.36" fill="#f0d1d4"/>
<rect x="678.40" y="127.73" width="10.90" height="2.36" fill="#f3dddf"/>
<rect x="678.40" y="129.79" width="10.90" height="2.36" fill="#f7e8e9"/>
<rect x="678.40" y="131.85" width="10.90" height="2.36" fill="#fbf4f4"/>
<rect x="678.40" y="133.92" width="10.90" height="2.36" fill="#ffffff"/>
<rect x="678.40" y="135.98" width="10.90" height="2.36" fill="#f4f7fb"/>
<rect x="678.40" y="138.05" width="10.90" height="2.36" fill="#e9eef6"/>
<rect x="678.40" y="140.11" width="10.90" height="2.36" fill="#dee6f2"/>
<rect x="678.40" y="142.17" width="10.90" height="2.36" fill="#d3deee"/>
<rect x="678.40" y="144.24" width="10.90" height="2.36" fill="#c8d5e9"/>
<rect x="678.40" y="146.30" width="10.90" height="2.36" fill="#bdcde5"/>
<rect x="678.40" y="148.37" width="10.90" height="2.36" fill="#b3c4e0"/>
<rect x="678.40" y="150.43" width="10.90" height="2.36" fill="#a8bcdc"/>
<rect x="678.40" y="152.49" width="10.90" height="2.36" fill="#9db4d8"/>
<rect x="678.40" y="154.56" width="10.90" height="2.36" fill="#92abd3"/>
<rect x="678.40" y="156.62" width="10.90" height="2.36" fill="#87a3cf"/>
<rect x="678.40" y="158.69" width="10.90" height="2.36" fill="#7c9bcb"/>
<rect x="678.40" y="160.75" width="10.90" height="2.36" fill="#7192c6"/>
<rect x="678.40" y="162.82" width="10.90" height="2.36" fill="#668ac2"/>
<rect x="678.40" y="164.88" width="10.90" height="2.36" fill="#5b82be"/>
<rect x="678.40" y="166.94" width="10.90" height="2.36" fill="#5079b9"/>
<rect x="678.40" y="169.01" width="10.90" height="2.36" fill="#4571b5"/>
<rect x="678.40" y="171.07" width="10.90" height="2.36" fill="#3a69b1"/>
<rect x="678.40" y="173.14" width="10.90" height="2.36" fill="#2f60ac"/>
<text x="694.80" y="106.99" font-size="6" fill="#333">30</text>
<text x="694.80" y="117.31" font-size="6" fill="#333">20</text>
<text x="694.80" y="127.63" font-size="6" fill="#333">10</text>
<text x="694.80" y="137.95" font-size="6" fill="#333">0</text>
<text x="694.80" y="148.27" font-size="6" fill="#333">-10</text>
<text x="694.80" y="158.59" font-size="6" fill="#333">-20</text>
<text x="694.80" y="168.91" font-size="6" fill="#333">-30</text>
<text x="308.10" y="281.10" font-size="10.15" font-weight="bold" text-anchor="middle" fill="#111">Bliss Synergy Score</text>
<text x="308.10" y="291.70" font-size="6.8" text-anchor="middle" fill="#4a4a4a">Mean: -3.21 (p = 4.05e-02)</text>
<line x1="312.46" y1="385.92" x2="314.16" y2="300.64" stroke="#444" stroke-width="0.7" stroke-dasharray="3,2"/>
<line x1="312.46" y1="385.92" x2="226.56" y2="414.48" stroke="#444" stroke-width="0.7" stroke-dasharray="3,2"/>
<line x1="312.46" y1="385.92" x2="368.11" y2="439.22" stroke="#444" stroke-width="0.7" stroke-dasharray="3,2"/>
<line x1="218.38" y1="326.07" x2="314.16" y2="300.64" stroke="#444" stroke-width="0.7"/>
<line x1="314.16" y1="300.64" x2="377.02" y2="347.61" stroke="#444" stroke-width="0.7"/>
<line x1="377.02" y1="347.61" x2="270.94" y2="381.40" stroke="#444" stroke-width="0.7"/>
<line x1="270.94" y1="381.40" x2="218.38" y2="326.07" stroke="#444" stroke-width="0.7"/>
<line x1="226.56" y1="414.48" x2="218.38" y2="326.07" stroke="#444" stroke-width="0.7"/>
<line x1="368.11" y1="439.22" x2="377.02" y2="347.61" stroke="#444" stroke-width="0.7"/>
<line x1="274.03" y1="476.09" x2="368.11" y2="439.22" stroke="#444" stroke-width="0.7"/>
<line x1="274.03" y1="476.09" x2="226.56" y2="414.48" stroke="#444" stroke-width="0.7"/>
<polygon points="278.3,385.9 282.3,381.3 280.2,383.7 276.2,387.5" fill="#7797c9" stroke="#111" stroke-width="0.38" stroke-linejoin="round"/>
<polygon points="274.2,386.7 278.3,385.9 276.2,387.5 272.1,387.2" fill="#5c82be" stroke="#111" stroke-width="0.38" stroke-linejoin="round"/>
<polygon points="282.3,381.3 286.2,372.2 284.0,374.3 280.2,383.7" fill="#7797c9" stroke="#111" stroke-width="0.38" stroke-linejoin="round"/>
<polygon points="270.0,385.3 274.2,386.7 272.1,387.2 267.8,384.5" fill="#7797c9" stroke="#111" stroke-width="0.38" stroke-linejoin="round"/>
<polygon points="280.5,385.2 284.5,380.3 282.3,381.3 278.3,385.9" fill="#7797c9" stroke="#111" stroke-width="0.38" stroke-linejoin="round"/>
<polygon points="286.2,372.2 290.2,359.8 288.0,361.0 284.0,374.3" fill="#b1c3e0" stroke="#111" stroke-width="0.38" stroke-linejoin="round"/>
<polygon points="276.3,387.0 280.5,385.2 278.3,385.9 274.2,386.7" fill="#7797c9" stroke="#111" stroke-width="0.38" stroke-linejoin="round"/>
<polygon points="310.9,330.9 314.6,348.5 312.1,346.2 308.4,327.1" fill="#f4dfe1" stroke="#111" stroke-width="0.38" stroke-linejoin="round"/>
<polygon points="284.5,380.3 288.5,371.8 286.2,372.2 282.3,381.3" fill="#93acd4" stroke="#111" stroke-width="0.38" stroke-linejoin="round"/>
<polygon points="265.7,383.0 270.0,385.3 267.8,384.5 263.5,381.4" fill="#7797c9" stroke="#111" stroke-width="0.38" stroke-linejoin="round"/>
<polygon points="272.1,386.6 276.3,387.0 274.2,386.7 270.0,385.3" fill="#7797c9" stroke="#111" stroke-width="0.38" stroke-linejoin="round"/>
<polygon points="313.3,336.4 317.0,351.4 314.6,348.5 310.9,330.9" fill="#f4dfe1" stroke="#111" stroke-width="0.38" stroke-linejoin="round"/>
<polygon points="282.7,385.3 286.8,380.5 284.5,380.3 280.5,385.2" fill="#93acd4" stroke="#111" stroke-width="0.38" stroke-linejoin="round"/>
<polygon points="278.6,387.8 282.7,385.3 280.5,385.2 276.3,387.0" fill="#7797c9" stroke="#111" stroke-width="0.38" stroke-linejoin="round"/>
<polygon points="288.5,371.8 292.6,360.8 290.2,359.8 286.2,372.2" fill="#b1c3e0" stroke="#111" stroke-width="0.38" stroke-linejoin="round"/>
<polygon points="315.7,343.0 319.5,354.7 317.0,351.4 313.3,336.4" fill="#ffffff" stroke="#111" stroke-width="0.38" stroke-linejoin="round"/>
<polygon points="290.2,359.8 294.3,346.4 291.9,346.2 288.0,361.0" fill="#ffffff" stroke="#111" stroke-width="0.38" stroke-linejoin="round"/>
<polygon points="267.8,385.2 272.1,386.6 270.0,385.3 265.7,383.0" fill="#93acd4" stroke="#111" stroke-width="0.38" stroke-linejoin="round"/>
<polygon points="286.8,380.5 290.8,372.8 288.5,371.8 284.5,380.3" fill="#93acd4" stroke="#111" stroke-width="0.38" stroke-linejoin="round"/>
<polygon points="261.3,381.0 265.7,383.0 263.5,381.4 259.2,379.3" fill="#93acd4" stroke="#111" stroke-width="0.38" stroke-linejoin="round"/>
<polygon points="274.4,388.4 278.6,387.8 276.3,387.0 272.1,386.6" fill="#7797c9" stroke="#111" stroke-width="0.38" stroke-linejoin="round"/>
<polygon points="318.1,350.1 321.9,358.1 319.5,354.7 315.7,343.0" fill="#ffffff" stroke="#111" stroke-width="0.38" stroke-linejoin="round"/>
<polygon points="320.6,357.2 324.4,361.5 321.9,358.1 318.1,350.1" fill="#ffffff" stroke="#111" stroke-width="0.38" stroke-linejoin="round"/>
<polygon points="285.0,386.1 289.1,381.4 286.8,380.5 282.7,385.3" fill="#93acd4" stroke="#111" stroke-width="0.38" stroke-linejoin="round"/>
<polygon points="280.8,389.0 285.0,386.1 282.7,385.3 278.6,387.8" fill="#93acd4" stroke="#111" stroke-width="0.38" stroke-linejoin="round"/>
<polygon points="290.8,372.8 295.0,363.5 292.6,360.8 288.5,371.8" fill="#d2dded" stroke="#111" stroke-width="0.38" stroke-linejoin="round"/>
<polygon points="270.1,387.8 274.4,388.4 272.1,386.6 267.8,385.2" fill="#93acd4" stroke="#111" stroke-width="0.38" stroke-linejoin="round"/>
<polygon points="256.9,379.5 261.3,381.0 259.2,379.3 254.8,378.3" fill="#93acd4" stroke="#111" stroke-width="0.38" stroke-linejoin="round"/>
<polygon points="263.5,383.5 267.8,385.2 265.7,383.0 261.3,381.0" fill="#93acd4" stroke="#111" stroke-width="0.38" stroke-linejoin="round"/>
<polygon points="323.0,363.8 327.0,364.6 324.4,361.5 320.6,357.2" fill="#d2dded" stroke="#111" stroke-width="0.38" stroke-linejoin="round"/>
<polygon points="292.6,360.8 296.7,349.2 294.3,346.4 290.2,359.8" fill="#ffffff" stroke="#111" stroke-width="0.38" stroke-linejoin="round"/>
<polygon points="289.1,381.4 293.2,374.9 290.8,372.8 286.8,380.5" fill="#b1c3e0" stroke="#111" stroke-width="0.38" stroke-linejoin="round"/>
<polygon points="306.9,324.0 310.9,330.9 308.4,327.1 304.4,319.9" fill="#df9fa5" stroke="#111" stroke-width="0.38" stroke-linejoin="round"/>
<polygon points="276.6,390.4 280.8,389.0 278.6,387.8 274.4,388.4" fill="#7797c9" stroke="#111" stroke-width="0.38" stroke-linejoin="round"/>
<polygon points="294.3,346.4 298.5,334.2 296.0,332.4 291.9,346.2" fill="#f4dfe1" stroke="#111" stroke-width="0.38" stroke-linejoin="round"/>
<polygon points="325.4,369.3 329.5,367.3 327.0,364.6 323.0,363.8" fill="#d2dded" stroke="#111" stroke-width="0.38" stroke-linejoin="round"/>
<polygon points="309.3,330.4 313.3,336.4 310.9,330.9 306.9,324.0" fill="#df9fa5" stroke="#111" stroke-width="0.38" stroke-linejoin="round"/>
<polygon points="293.2,374.9 297.4,367.4 295.0,363.5 290.8,372.8" fill="#d2dded" stroke="#111" stroke-width="0.38" stroke-linejoin="round"/>
<polygon points="295.0,363.5 299.1,353.8 296.7,349.2 292.6,360.8" fill="#ffffff" stroke="#111" stroke-width="0.38" stroke-linejoin="round"/>
<polygon points="252.4,378.2 256.9,379.5 254.8,378.3 250.4,377.9" fill="#b1c3e0" stroke="#111" stroke-width="0.38" stroke-linejoin="round"/>
<polygon points="272.3,390.6 276.6,390.4 274.4,388.4 270.1,387.8" fill="#93acd4" stroke="#111" stroke-width="0.38" stroke-linejoin="round"/>
<polygon points="265.7,386.4 270.1,387.8 267.8,385.2 263.5,383.5" fill="#93acd4" stroke="#111" stroke-width="0.38" stroke-linejoin="round"/>
<polygon points="287.3,387.3 291.4,383.0 289.1,381.4 285.0,386.1" fill="#93acd4" stroke="#111" stroke-width="0.38" stroke-linejoin="round"/>
<polygon points="311.7,338.4 315.7,343.0 313.3,336.4 309.3,330.4" fill="#eabfc3" stroke="#111" stroke-width="0.38" stroke-linejoin="round"/>
<polygon points="283.1,390.5 287.3,387.3 285.0,386.1 280.8,389.0" fill="#93acd4" stroke="#111" stroke-width="0.38" stroke-linejoin="round"/>
<polygon points="259.1,381.6 263.5,383.5 261.3,381.0 256.9,379.5" fill="#93acd4" stroke="#111" stroke-width="0.38" stroke-linejoin="round"/>
<polygon points="316.5,356.1 320.6,357.2 318.1,350.1 314.1,347.2" fill="#ffffff" stroke="#111" stroke-width="0.38" stroke-linejoin="round"/>
<polygon points="318.9,364.4 323.0,363.8 320.6,357.2 316.5,356.1" fill="#ffffff" stroke="#111" stroke-width="0.38" stroke-linejoin="round"/>
<polygon points="314.1,347.2 318.1,350.1 315.7,343.0 311.7,338.4" fill="#f4dfe1" stroke="#111" stroke-width="0.38" stroke-linejoin="round"/>
<polygon points="291.4,383.0 295.6,377.7 293.2,374.9 289.1,381.4" fill="#b1c3e0" stroke="#111" stroke-width="0.38" stroke-linejoin="round"/>
<polygon points="321.3,371.4 325.4,369.3 323.0,363.8 318.9,364.4" fill="#d2dded" stroke="#111" stroke-width="0.38" stroke-linejoin="round"/>
<polygon points="296.7,349.2 300.9,338.8 298.5,334.2 294.3,346.4" fill="#f4dfe1" stroke="#111" stroke-width="0.38" stroke-linejoin="round"/>
<polygon points="328.0,373.4 332.2,369.2 329.5,367.3 325.4,369.3" fill="#d2dded" stroke="#111" stroke-width="0.38" stroke-linejoin="round"/>
<polygon points="298.5,334.2 302.7,325.9 300.2,322.6 296.0,332.4" fill="#df9fa5" stroke="#111" stroke-width="0.38" stroke-linejoin="round"/>
<polygon points="278.9,392.5 283.1,390.5 280.8,389.0 276.6,390.4" fill="#93acd4" stroke="#111" stroke-width="0.38" stroke-linejoin="round"/>
<polygon points="302.7,325.9 306.9,324.0 304.4,319.9 300.2,322.6" fill="#df9fa5" stroke="#111" stroke-width="0.38" stroke-linejoin="round"/>
<polygon points="297.4,367.4 301.6,359.7 299.1,353.8 295.0,363.5" fill="#ffffff" stroke="#111" stroke-width="0.38" stroke-linejoin="round"/>
<polygon points="295.6,377.7 299.8,371.9 297.4,367.4 293.2,374.9" fill="#b1c3e0" stroke="#111" stroke-width="0.38" stroke-linejoin="round"/>
<polygon points="323.8,376.5 328.0,373.4 325.4,369.3 321.3,371.4" fill="#b1c3e0" stroke="#111" stroke-width="0.38" stroke-linejoin="round"/>
<polygon points="317.2,373.5 321.3,371.4 318.9,364.4 314.8,366.2" fill="#d2dded" stroke="#111" stroke-width="0.38" stroke-linejoin="round"/>
<polygon points="248.0,377.1 252.4,378.2 250.4,377.9 246.0,377.7" fill="#b1c3e0" stroke="#111" stroke-width="0.38" stroke-linejoin="round"/>
<polygon points="314.8,366.2 318.9,364.4 316.5,356.1 312.4,357.7" fill="#ffffff" stroke="#111" stroke-width="0.38" stroke-linejoin="round"/>
<polygon points="299.1,353.8 303.3,345.4 300.9,338.8 296.7,349.2" fill="#f4dfe1" stroke="#111" stroke-width="0.38" stroke-linejoin="round"/>
<polygon points="268.0,389.7 272.3,390.6 270.1,387.8 265.7,386.4" fill="#93acd4" stroke="#111" stroke-width="0.38" stroke-linejoin="round"/>
<polygon points="274.6,393.4 278.9,392.5 276.6,390.4 272.3,390.6" fill="#93acd4" stroke="#111" stroke-width="0.38" stroke-linejoin="round"/>
<polygon points="305.1,331.9 309.3,330.4 306.9,324.0 302.7,325.9" fill="#df9fa5" stroke="#111" stroke-width="0.38" stroke-linejoin="round"/>
<polygon points="312.4,357.7 316.5,356.1 314.1,347.2 310.0,348.6" fill="#f4dfe1" stroke="#111" stroke-width="0.38" stroke-linejoin="round"/>
<polygon points="299.8,371.9 304.0,366.2 301.6,359.7 297.4,367.4" fill="#d2dded" stroke="#111" stroke-width="0.38" stroke-linejoin="round"/>
<polygon points="300.9,338.8 305.1,331.9 302.7,325.9 298.5,334.2" fill="#df9fa5" stroke="#111" stroke-width="0.38" stroke-linejoin="round"/>
<polygon points="319.7,378.9 323.8,376.5 321.3,371.4 317.2,373.5" fill="#b1c3e0" stroke="#111" stroke-width="0.38" stroke-linejoin="round"/>
<polygon points="261.3,384.6 265.7,386.4 263.5,383.5 259.1,381.6" fill="#93acd4" stroke="#111" stroke-width="0.38" stroke-linejoin="round"/>
<polygon points="289.6,388.7 293.8,384.8 291.4,383.0 287.3,387.3" fill="#93acd4" stroke="#111" stroke-width="0.38" stroke-linejoin="round"/>
<polygon points="254.6,379.8 259.1,381.6 256.9,379.5 252.4,378.2" fill="#b1c3e0" stroke="#111" stroke-width="0.38" stroke-linejoin="round"/>
<polygon points="310.0,348.6 314.1,347.2 311.7,338.4 307.6,339.7" fill="#eabfc3" stroke="#111" stroke-width="0.38" stroke-linejoin="round"/>
<polygon points="301.6,359.7 305.8,353.1 303.3,345.4 299.1,353.8" fill="#f4dfe1" stroke="#111" stroke-width="0.38" stroke-linejoin="round"/>
<polygon points="307.6,339.7 311.7,338.4 309.3,330.4 305.1,331.9" fill="#eabfc3" stroke="#111" stroke-width="0.38" stroke-linejoin="round"/>
<polygon points="293.8,384.8 298.0,380.7 295.6,377.7 291.4,383.0" fill="#b1c3e0" stroke="#111" stroke-width="0.38" stroke-linejoin="round"/>
<polygon points="330.6,375.5 334.9,370.3 332.2,369.2 328.0,373.4" fill="#d2dded" stroke="#111" stroke-width="0.38" stroke-linejoin="round"/>
<polygon points="285.4,392.1 289.6,388.7 287.3,387.3 283.1,390.5" fill="#93acd4" stroke="#111" stroke-width="0.38" stroke-linejoin="round"/>
<polygon points="313.1,375.8 317.2,373.5 314.8,366.2 310.6,369.0" fill="#d2dded" stroke="#111" stroke-width="0.38" stroke-linejoin="round"/>
<polygon points="310.6,369.0 314.8,366.2 312.4,357.7 308.2,361.2" fill="#ffffff" stroke="#111" stroke-width="0.38" stroke-linejoin="round"/>
<polygon points="298.0,380.7 302.2,376.5 299.8,371.9 295.6,377.7" fill="#b1c3e0" stroke="#111" stroke-width="0.38" stroke-linejoin="round"/>
<polygon points="304.0,366.2 308.2,361.2 305.8,353.1 301.6,359.7" fill="#ffffff" stroke="#111" stroke-width="0.38" stroke-linejoin="round"/>
<polygon points="326.4,379.2 330.6,375.5 328.0,373.4 323.8,376.5" fill="#b1c3e0" stroke="#111" stroke-width="0.38" stroke-linejoin="round"/>
<polygon points="308.2,361.2 312.4,357.7 310.0,348.6 305.8,353.1" fill="#ffffff" stroke="#111" stroke-width="0.38" stroke-linejoin="round"/>
<polygon points="303.3,345.4 307.6,339.7 305.1,331.9 300.9,338.8" fill="#eabfc3" stroke="#111" stroke-width="0.38" stroke-linejoin="round"/>
<polygon points="302.2,376.5 306.4,372.5 304.0,366.2 299.8,371.9" fill="#d2dded" stroke="#111" stroke-width="0.38" stroke-linejoin="round"/>
<polygon points="306.4,372.5 310.6,369.0 308.2,361.2 304.0,366.2" fill="#d2dded" stroke="#111" stroke-width="0.38" stroke-linejoin="round"/>
<polygon points="305.8,353.1 310.0,348.6 307.6,339.7 303.3,345.4" fill="#f4dfe1" stroke="#111" stroke-width="0.38" stroke-linejoin="round"/>
<polygon points="281.2,394.6 285.4,392.1 283.1,390.5 278.9,392.5" fill="#93acd4" stroke="#111" stroke-width="0.38" stroke-linejoin="round"/>
<polygon points="315.5,380.8 319.7,378.9 317.2,373.5 313.1,375.8" fill="#b1c3e0" stroke="#111" stroke-width="0.38" stroke-linejoin="round"/>
<polygon points="308.9,378.1 313.1,375.8 310.6,369.0 306.4,372.5" fill="#d2dded" stroke="#111" stroke-width="0.38" stroke-linejoin="round"/>
<polygon points="243.4,376.1 248.0,377.1 246.0,377.7 241.5,377.2" fill="#b1c3e0" stroke="#111" stroke-width="0.38" stroke-linejoin="round"/>
<polygon points="322.3,381.8 326.4,379.2 323.8,376.5 319.7,378.9" fill="#b1c3e0" stroke="#111" stroke-width="0.38" stroke-linejoin="round"/>
<polygon points="270.3,393.0 274.6,393.4 272.3,390.6 268.0,389.7" fill="#93acd4" stroke="#111" stroke-width="0.38" stroke-linejoin="round"/>
<polygon points="304.7,380.7 308.9,378.1 306.4,372.5 302.2,376.5" fill="#b1c3e0" stroke="#111" stroke-width="0.38" stroke-linejoin="round"/>
<polygon points="263.6,388.0 268.0,389.7 265.7,386.4 261.3,384.6" fill="#93acd4" stroke="#111" stroke-width="0.38" stroke-linejoin="round"/>
<polygon points="276.9,396.0 281.2,394.6 278.9,392.5 274.6,393.4" fill="#93acd4" stroke="#111" stroke-width="0.38" stroke-linejoin="round"/>
<polygon points="311.4,382.4 315.5,380.8 313.1,375.8 308.9,378.1" fill="#b1c3e0" stroke="#111" stroke-width="0.38" stroke-linejoin="round"/>
<polygon points="300.5,383.6 304.7,380.7 302.2,376.5 298.0,380.7" fill="#b1c3e0" stroke="#111" stroke-width="0.38" stroke-linejoin="round"/>
<polygon points="318.1,383.6 322.3,381.8 319.7,378.9 315.5,380.8" fill="#b1c3e0" stroke="#111" stroke-width="0.38" stroke-linejoin="round"/>
<polygon points="296.3,386.7 300.5,383.6 298.0,380.7 293.8,384.8" fill="#b1c3e0" stroke="#111" stroke-width="0.38" stroke-linejoin="round"/>
<polygon points="250.0,378.1 254.6,379.8 252.4,378.2 248.0,377.1" fill="#b1c3e0" stroke="#111" stroke-width="0.38" stroke-linejoin="round"/>
<polygon points="256.8,382.5 261.3,384.6 259.1,381.6 254.6,379.8" fill="#b1c3e0" stroke="#111" stroke-width="0.38" stroke-linejoin="round"/>
<polygon points="292.0,390.2 296.3,386.7 293.8,384.8 289.6,388.7" fill="#93acd4" stroke="#111" stroke-width="0.38" stroke-linejoin="round"/>
<polygon points="333.3,376.5 337.7,371.0 334.9,370.3 330.6,375.5" fill="#d2dded" stroke="#111" stroke-width="0.38" stroke-linejoin="round"/>
<polygon points="287.8,393.5 292.0,390.2 289.6,388.7 285.4,392.1" fill="#93acd4" stroke="#111" stroke-width="0.38" stroke-linejoin="round"/>
<polygon points="329.1,380.4 333.3,376.5 330.6,375.5 326.4,379.2" fill="#b1c3e0" stroke="#111" stroke-width="0.38" stroke-linejoin="round"/>
<polygon points="307.2,384.0 311.4,382.4 308.9,378.1 304.7,380.7" fill="#b1c3e0" stroke="#111" stroke-width="0.38" stroke-linejoin="round"/>
<polygon points="238.8,374.9 243.4,376.1 241.5,377.2 237.0,375.9" fill="#d2dded" stroke="#111" stroke-width="0.38" stroke-linejoin="round"/>
<polygon points="283.6,396.3 287.8,393.5 285.4,392.1 281.2,394.6" fill="#93acd4" stroke="#111" stroke-width="0.38" stroke-linejoin="round"/>
<polygon points="272.6,396.1 276.9,396.0 274.6,393.4 270.3,393.0" fill="#93acd4" stroke="#111" stroke-width="0.38" stroke-linejoin="round"/>
<polygon points="324.9,383.1 329.1,380.4 326.4,379.2 322.3,381.8" fill="#b1c3e0" stroke="#111" stroke-width="0.38" stroke-linejoin="round"/>
<polygon points="313.9,384.9 318.1,383.6 315.5,380.8 311.4,382.4" fill="#b1c3e0" stroke="#111" stroke-width="0.38" stroke-linejoin="round"/>
<polygon points="265.9,391.6 270.3,393.0 268.0,389.7 263.6,388.0" fill="#93acd4" stroke="#111" stroke-width="0.38" stroke-linejoin="round"/>
<polygon points="303.0,385.9 307.2,384.0 304.7,380.7 300.5,383.6" fill="#b1c3e0" stroke="#111" stroke-width="0.38" stroke-linejoin="round"/>
<polygon points="279.3,398.2 283.6,396.3 281.2,394.6 276.9,396.0" fill="#93acd4" stroke="#111" stroke-width="0.38" stroke-linejoin="round"/>
<polygon points="259.0,385.8 263.6,388.0 261.3,384.6 256.8,382.5" fill="#b1c3e0" stroke="#111" stroke-width="0.38" stroke-linejoin="round"/>
<polygon points="320.7,384.9 324.9,383.1 322.3,381.8 318.1,383.6" fill="#b1c3e0" stroke="#111" stroke-width="0.38" stroke-linejoin="round"/>
<polygon points="245.4,376.6 250.0,378.1 248.0,377.1 243.4,376.1" fill="#d2dded" stroke="#111" stroke-width="0.38" stroke-linejoin="round"/>
<polygon points="298.7,388.3 303.0,385.9 300.5,383.6 296.3,386.7" fill="#b1c3e0" stroke="#111" stroke-width="0.38" stroke-linejoin="round"/>
<polygon points="309.7,386.1 313.9,384.9 311.4,382.4 307.2,384.0" fill="#b1c3e0" stroke="#111" stroke-width="0.38" stroke-linejoin="round"/>
<polygon points="252.2,380.4 256.8,382.5 254.6,379.8 250.0,378.1" fill="#b1c3e0" stroke="#111" stroke-width="0.38" stroke-linejoin="round"/>
<polygon points="294.5,391.4 298.7,388.3 296.3,386.7 292.0,390.2" fill="#93acd4" stroke="#111" stroke-width="0.38" stroke-linejoin="round"/>
<polygon points="234.1,373.4 238.8,374.9 237.0,375.9 232.2,373.4" fill="#d2dded" stroke="#111" stroke-width="0.38" stroke-linejoin="round"/>
<polygon points="268.2,395.1 272.6,396.1 270.3,393.0 265.9,391.6" fill="#93acd4" stroke="#111" stroke-width="0.38" stroke-linejoin="round"/>
<polygon points="274.9,398.8 279.3,398.2 276.9,396.0 272.6,396.1" fill="#93acd4" stroke="#111" stroke-width="0.38" stroke-linejoin="round"/>
<polygon points="290.2,394.7 294.5,391.4 292.0,390.2 287.8,393.5" fill="#93acd4" stroke="#111" stroke-width="0.38" stroke-linejoin="round"/>
<polygon points="336.1,377.0 340.5,371.8 337.7,371.0 333.3,376.5" fill="#d2dded" stroke="#111" stroke-width="0.38" stroke-linejoin="round"/>
<polygon points="331.9,380.8 336.1,377.0 333.3,376.5 329.1,380.4" fill="#d2dded" stroke="#111" stroke-width="0.38" stroke-linejoin="round"/>
<polygon points="316.5,386.2 320.7,384.9 318.1,383.6 313.9,384.9" fill="#b1c3e0" stroke="#111" stroke-width="0.38" stroke-linejoin="round"/>
<polygon points="285.9,397.7 290.2,394.7 287.8,393.5 283.6,396.3" fill="#93acd4" stroke="#111" stroke-width="0.38" stroke-linejoin="round"/>
<polygon points="305.5,387.5 309.7,386.1 307.2,384.0 303.0,385.9" fill="#b1c3e0" stroke="#111" stroke-width="0.38" stroke-linejoin="round"/>
<polygon points="261.3,389.5 265.9,391.6 263.6,388.0 259.0,385.8" fill="#b1c3e0" stroke="#111" stroke-width="0.38" stroke-linejoin="round"/>
<polygon points="327.6,383.6 331.9,380.8 329.1,380.4 324.9,383.1" fill="#b1c3e0" stroke="#111" stroke-width="0.38" stroke-linejoin="round"/>
<polygon points="240.8,375.3 245.4,376.6 243.4,376.1 238.8,374.9" fill="#d2dded" stroke="#111" stroke-width="0.38" stroke-linejoin="round"/>
<polygon points="281.6,399.9 285.9,397.7 283.6,396.3 279.3,398.2" fill="#93acd4" stroke="#111" stroke-width="0.38" stroke-linejoin="round"/>
<polygon points="254.4,383.5 259.0,385.8 256.8,382.5 252.2,380.4" fill="#b1c3e0" stroke="#111" stroke-width="0.38" stroke-linejoin="round"/>
<polygon points="301.2,389.6 305.5,387.5 303.0,385.9 298.7,388.3" fill="#b1c3e0" stroke="#111" stroke-width="0.38" stroke-linejoin="round"/>
<polygon points="312.3,387.4 316.5,386.2 313.9,384.9 309.7,386.1" fill="#b1c3e0" stroke="#111" stroke-width="0.38" stroke-linejoin="round"/>
<polygon points="323.4,385.6 327.6,383.6 324.9,383.1 320.7,384.9" fill="#b1c3e0" stroke="#111" stroke-width="0.38" stroke-linejoin="round"/>
<polygon points="247.6,378.5 252.2,380.4 250.0,378.1 245.4,376.6" fill="#d2dded" stroke="#111" stroke-width="0.38" stroke-linejoin="round"/>
<polygon points="270.5,398.2 274.9,398.8 272.6,396.1 268.2,395.1" fill="#93acd4" stroke="#111" stroke-width="0.38" stroke-linejoin="round"/>
<polygon points="296.9,392.3 301.2,389.6 298.7,388.3 294.5,391.4" fill="#b1c3e0" stroke="#111" stroke-width="0.38" stroke-linejoin="round"/>
<polygon points="277.3,400.8 281.6,399.9 279.3,398.2 274.9,398.8" fill="#93acd4" stroke="#111" stroke-width="0.38" stroke-linejoin="round"/>
<polygon points="263.7,393.3 268.2,395.1 265.9,391.6 261.3,389.5" fill="#93acd4" stroke="#111" stroke-width="0.38" stroke-linejoin="round"/>
<polygon points="229.3,371.6 234.1,373.4 232.2,373.4 227.2,369.2" fill="#ffffff" stroke="#111" stroke-width="0.38" stroke-linejoin="round"/>
<polygon points="339.0,377.9 343.3,373.0 340.5,371.8 336.1,377.0" fill="#d2dded" stroke="#111" stroke-width="0.38" stroke-linejoin="round"/>
<polygon points="292.6,395.5 296.9,392.3 294.5,391.4 290.2,394.7" fill="#93acd4" stroke="#111" stroke-width="0.38" stroke-linejoin="round"/>
<polygon points="334.7,381.7 339.0,377.9 336.1,377.0 331.9,380.8" fill="#d2dded" stroke="#111" stroke-width="0.38" stroke-linejoin="round"/>
<polygon points="319.2,387.2 323.4,385.6 320.7,384.9 316.5,386.2" fill="#b1c3e0" stroke="#111" stroke-width="0.38" stroke-linejoin="round"/>
<polygon points="308.0,388.7 312.3,387.4 309.7,386.1 305.5,387.5" fill="#b1c3e0" stroke="#111" stroke-width="0.38" stroke-linejoin="round"/>
<polygon points="236.1,374.4 240.8,375.3 238.8,374.9 234.1,373.4" fill="#d2dded" stroke="#111" stroke-width="0.38" stroke-linejoin="round"/>
<polygon points="288.3,398.5 292.6,395.5 290.2,394.7 285.9,397.7" fill="#93acd4" stroke="#111" stroke-width="0.38" stroke-linejoin="round"/>
<polygon points="256.7,387.2 261.3,389.5 259.0,385.8 254.4,383.5" fill="#b1c3e0" stroke="#111" stroke-width="0.38" stroke-linejoin="round"/>
<polygon points="330.4,384.5 334.7,381.7 331.9,380.8 327.6,383.6" fill="#d2dded" stroke="#111" stroke-width="0.38" stroke-linejoin="round"/>
<polygon points="284.0,400.8 288.3,398.5 285.9,397.7 281.6,399.9" fill="#93acd4" stroke="#111" stroke-width="0.38" stroke-linejoin="round"/>
<polygon points="242.9,377.0 247.6,378.5 245.4,376.6 240.8,375.3" fill="#d2dded" stroke="#111" stroke-width="0.38" stroke-linejoin="round"/>
<polygon points="249.8,381.3 254.4,383.5 252.2,380.4 247.6,378.5" fill="#d2dded" stroke="#111" stroke-width="0.38" stroke-linejoin="round"/>
<polygon points="272.8,400.6 277.3,400.8 274.9,398.8 270.5,398.2" fill="#93acd4" stroke="#111" stroke-width="0.38" stroke-linejoin="round"/>
<polygon points="266.0,396.7 270.5,398.2 268.2,395.1 263.7,393.3" fill="#93acd4" stroke="#111" stroke-width="0.38" stroke-linejoin="round"/>
<polygon points="303.8,390.6 308.0,388.7 305.5,387.5 301.2,389.6" fill="#b1c3e0" stroke="#111" stroke-width="0.38" stroke-linejoin="round"/>
<polygon points="314.9,388.5 319.2,387.2 316.5,386.2 312.3,387.4" fill="#b1c3e0" stroke="#111" stroke-width="0.38" stroke-linejoin="round"/>
<polygon points="326.1,386.7 330.4,384.5 327.6,383.6 323.4,385.6" fill="#b1c3e0" stroke="#111" stroke-width="0.38" stroke-linejoin="round"/>
<polygon points="259.1,391.0 263.7,393.3 261.3,389.5 256.7,387.2" fill="#b1c3e0" stroke="#111" stroke-width="0.38" stroke-linejoin="round"/>
<polygon points="279.6,402.0 284.0,400.8 281.6,399.9 277.3,400.8" fill="#93acd4" stroke="#111" stroke-width="0.38" stroke-linejoin="round"/>
<polygon points="299.4,393.2 303.8,390.6 301.2,389.6 296.9,392.3" fill="#b1c3e0" stroke="#111" stroke-width="0.38" stroke-linejoin="round"/>
<polygon points="341.8,379.9 346.2,375.2 343.3,373.0 339.0,377.9" fill="#d2dded" stroke="#111" stroke-width="0.38" stroke-linejoin="round"/>
<polygon points="231.4,374.0 236.1,374.4 234.1,373.4 229.3,371.6" fill="#ffffff" stroke="#111" stroke-width="0.38" stroke-linejoin="round"/>
<polygon points="337.5,383.6 341.8,379.9 339.0,377.9 334.7,381.7" fill="#d2dded" stroke="#111" stroke-width="0.38" stroke-linejoin="round"/>
<polygon points="321.9,388.6 326.1,386.7 323.4,385.6 319.2,387.2" fill="#b1c3e0" stroke="#111" stroke-width="0.38" stroke-linejoin="round"/>
<polygon points="295.1,396.3 299.4,393.2 296.9,392.3 292.6,395.5" fill="#b1c3e0" stroke="#111" stroke-width="0.38" stroke-linejoin="round"/>
<polygon points="310.7,390.0 314.9,388.5 312.3,387.4 308.0,388.7" fill="#b1c3e0" stroke="#111" stroke-width="0.38" stroke-linejoin="round"/>
<polygon points="252.1,384.8 256.7,387.2 254.4,383.5 249.8,381.3" fill="#d2dded" stroke="#111" stroke-width="0.38" stroke-linejoin="round"/>
<polygon points="238.2,376.2 242.9,377.0 240.8,375.3 236.1,374.4" fill="#ffffff" stroke="#111" stroke-width="0.38" stroke-linejoin="round"/>
<polygon points="333.2,386.6 337.5,383.6 334.7,381.7 330.4,384.5" fill="#d2dded" stroke="#111" stroke-width="0.38" stroke-linejoin="round"/>
<polygon points="268.3,399.5 272.8,400.6 270.5,398.2 266.0,396.7" fill="#93acd4" stroke="#111" stroke-width="0.38" stroke-linejoin="round"/>
<polygon points="290.8,399.2 295.1,396.3 292.6,395.5 288.3,398.5" fill="#93acd4" stroke="#111" stroke-width="0.38" stroke-linejoin="round"/>
<polygon points="245.1,379.6 249.8,381.3 247.6,378.5 242.9,377.0" fill="#d2dded" stroke="#111" stroke-width="0.38" stroke-linejoin="round"/>
<polygon points="275.2,402.2 279.6,402.0 277.3,400.8 272.8,400.6" fill="#93acd4" stroke="#111" stroke-width="0.38" stroke-linejoin="round"/>
<polygon points="261.4,394.7 266.0,396.7 263.7,393.3 259.1,391.0" fill="#b1c3e0" stroke="#111" stroke-width="0.38" stroke-linejoin="round"/>
<polygon points="286.4,401.5 290.8,399.2 288.3,398.5 284.0,400.8" fill="#93acd4" stroke="#111" stroke-width="0.38" stroke-linejoin="round"/>
<polygon points="306.3,391.9 310.7,390.0 308.0,388.7 303.8,390.6" fill="#b1c3e0" stroke="#111" stroke-width="0.38" stroke-linejoin="round"/>
<polygon points="317.6,390.2 321.9,388.6 319.2,387.2 314.9,388.5" fill="#b1c3e0" stroke="#111" stroke-width="0.38" stroke-linejoin="round"/>
<polygon points="328.9,389.0 333.2,386.6 330.4,384.5 326.1,386.7" fill="#d2dded" stroke="#111" stroke-width="0.38" stroke-linejoin="round"/>
<polygon points="344.6,382.7 349.0,378.1 346.2,375.2 341.8,379.9" fill="#d2dded" stroke="#111" stroke-width="0.38" stroke-linejoin="round"/>
<polygon points="340.2,386.4 344.6,382.7 341.8,379.9 337.5,383.6" fill="#d2dded" stroke="#111" stroke-width="0.38" stroke-linejoin="round"/>
<polygon points="254.4,388.6 259.1,391.0 256.7,387.2 252.1,384.8" fill="#d2dded" stroke="#111" stroke-width="0.38" stroke-linejoin="round"/>
<polygon points="233.5,376.4 238.2,376.2 236.1,374.4 231.4,374.0" fill="#ffffff" stroke="#111" stroke-width="0.38" stroke-linejoin="round"/>
<polygon points="302.0,394.5 306.3,391.9 303.8,390.6 299.4,393.2" fill="#b1c3e0" stroke="#111" stroke-width="0.38" stroke-linejoin="round"/>
<polygon points="282.0,402.9 286.4,401.5 284.0,400.8 279.6,402.0" fill="#93acd4" stroke="#111" stroke-width="0.38" stroke-linejoin="round"/>
<polygon points="324.6,391.0 328.9,389.0 326.1,386.7 321.9,388.6" fill="#b1c3e0" stroke="#111" stroke-width="0.38" stroke-linejoin="round"/>
<polygon points="335.9,389.5 340.2,386.4 337.5,383.6 333.2,386.6" fill="#d2dded" stroke="#111" stroke-width="0.38" stroke-linejoin="round"/>
<polygon points="313.3,391.9 317.6,390.2 314.9,388.5 310.7,390.0" fill="#b1c3e0" stroke="#111" stroke-width="0.38" stroke-linejoin="round"/>
<polygon points="247.3,382.8 252.1,384.8 249.8,381.3 245.1,379.6" fill="#d2dded" stroke="#111" stroke-width="0.38" stroke-linejoin="round"/>
<polygon points="240.4,378.7 245.1,379.6 242.9,377.0 238.2,376.2" fill="#ffffff" stroke="#111" stroke-width="0.38" stroke-linejoin="round"/>
<polygon points="297.6,397.3 302.0,394.5 299.4,393.2 295.1,396.3" fill="#b1c3e0" stroke="#111" stroke-width="0.38" stroke-linejoin="round"/>
<polygon points="270.7,401.5 275.2,402.2 272.8,400.6 268.3,399.5" fill="#93acd4" stroke="#111" stroke-width="0.38" stroke-linejoin="round"/>
<polygon points="263.7,397.8 268.3,399.5 266.0,396.7 261.4,394.7" fill="#b1c3e0" stroke="#111" stroke-width="0.38" stroke-linejoin="round"/>
<polygon points="347.4,385.9 351.8,381.4 349.0,378.1 344.6,382.7" fill="#d2dded" stroke="#111" stroke-width="0.38" stroke-linejoin="round"/>
<polygon points="331.6,392.0 335.9,389.5 333.2,386.6 328.9,389.0" fill="#d2dded" stroke="#111" stroke-width="0.38" stroke-linejoin="round"/>
<polygon points="293.2,400.0 297.6,397.3 295.1,396.3 290.8,399.2" fill="#b1c3e0" stroke="#111" stroke-width="0.38" stroke-linejoin="round"/>
<polygon points="320.3,392.9 324.6,391.0 321.9,388.6 317.6,390.2" fill="#b1c3e0" stroke="#111" stroke-width="0.38" stroke-linejoin="round"/>
<polygon points="343.0,389.6 347.4,385.9 344.6,382.7 340.2,386.4" fill="#d2dded" stroke="#111" stroke-width="0.38" stroke-linejoin="round"/>
<polygon points="277.5,403.3 282.0,402.9 279.6,402.0 275.2,402.2" fill="#93acd4" stroke="#111" stroke-width="0.38" stroke-linejoin="round"/>
<polygon points="256.7,392.3 261.4,394.7 259.1,391.0 254.4,388.6" fill="#b1c3e0" stroke="#111" stroke-width="0.38" stroke-linejoin="round"/>
<polygon points="308.9,393.9 313.3,391.9 310.7,390.0 306.3,391.9" fill="#b1c3e0" stroke="#111" stroke-width="0.38" stroke-linejoin="round"/>
<polygon points="288.9,402.3 293.2,400.0 290.8,399.2 286.4,401.5" fill="#b1c3e0" stroke="#111" stroke-width="0.38" stroke-linejoin="round"/>
<polygon points="338.7,392.7 343.0,389.6 340.2,386.4 335.9,389.5" fill="#d2dded" stroke="#111" stroke-width="0.38" stroke-linejoin="round"/>
<polygon points="327.3,394.2 331.6,392.0 328.9,389.0 324.6,391.0" fill="#b1c3e0" stroke="#111" stroke-width="0.38" stroke-linejoin="round"/>
<polygon points="235.7,378.9 240.4,378.7 238.2,376.2 233.5,376.4" fill="#ffffff" stroke="#111" stroke-width="0.38" stroke-linejoin="round"/>
<polygon points="249.6,386.4 254.4,388.6 252.1,384.8 247.3,382.8" fill="#d2dded" stroke="#111" stroke-width="0.38" stroke-linejoin="round"/>
<polygon points="304.6,396.4 308.9,393.9 306.3,391.9 302.0,394.5" fill="#b1c3e0" stroke="#111" stroke-width="0.38" stroke-linejoin="round"/>
<polygon points="315.9,394.8 320.3,392.9 317.6,390.2 313.3,391.9" fill="#b1c3e0" stroke="#111" stroke-width="0.38" stroke-linejoin="round"/>
<polygon points="242.6,381.6 247.3,382.8 245.1,379.6 240.4,378.7" fill="#ffffff" stroke="#111" stroke-width="0.38" stroke-linejoin="round"/>
<polygon points="350.2,389.1 354.7,384.7 351.8,381.4 347.4,385.9" fill="#d2dded" stroke="#111" stroke-width="0.38" stroke-linejoin="round"/>
<polygon points="334.3,395.4 338.7,392.7 335.9,389.5 331.6,392.0" fill="#b1c3e0" stroke="#111" stroke-width="0.38" stroke-linejoin="round"/>
<polygon points="266.1,400.2 270.7,401.5 268.3,399.5 263.7,397.8" fill="#b1c3e0" stroke="#111" stroke-width="0.38" stroke-linejoin="round"/>
<polygon points="284.4,403.7 288.9,402.3 286.4,401.5 282.0,402.9" fill="#93acd4" stroke="#111" stroke-width="0.38" stroke-linejoin="round"/>
<polygon points="345.9,392.7 350.2,389.1 347.4,385.9 343.0,389.6" fill="#d2dded" stroke="#111" stroke-width="0.38" stroke-linejoin="round"/>
<polygon points="300.2,399.1 304.6,396.4 302.0,394.5 297.6,397.3" fill="#b1c3e0" stroke="#111" stroke-width="0.38" stroke-linejoin="round"/>
<polygon points="323.0,396.3 327.3,394.2 324.6,391.0 320.3,392.9" fill="#b1c3e0" stroke="#111" stroke-width="0.38" stroke-linejoin="round"/>
<polygon points="273.0,403.0 277.5,403.3 275.2,402.2 270.7,401.5" fill="#b1c3e0" stroke="#111" stroke-width="0.38" stroke-linejoin="round"/>
<polygon points="259.0,395.7 263.7,397.8 261.4,394.7 256.7,392.3" fill="#b1c3e0" stroke="#111" stroke-width="0.38" stroke-linejoin="round"/>
<polygon points="311.6,396.9 315.9,394.8 313.3,391.9 308.9,393.9" fill="#b1c3e0" stroke="#111" stroke-width="0.38" stroke-linejoin="round"/>
<polygon points="341.5,395.8 345.9,392.7 343.0,389.6 338.7,392.7" fill="#d2dded" stroke="#111" stroke-width="0.38" stroke-linejoin="round"/>
<polygon points="330.0,397.7 334.3,395.4 331.6,392.0 327.3,394.2" fill="#b1c3e0" stroke="#111" stroke-width="0.38" stroke-linejoin="round"/>
<polygon points="295.8,401.6 300.2,399.1 297.6,397.3 293.2,400.0" fill="#b1c3e0" stroke="#111" stroke-width="0.38" stroke-linejoin="round"/>
<polygon points="251.9,390.0 256.7,392.3 254.4,388.6 249.6,386.4" fill="#d2dded" stroke="#111" stroke-width="0.38" stroke-linejoin="round"/>
<polygon points="279.9,404.4 284.4,403.7 282.0,402.9 277.5,403.3" fill="#b1c3e0" stroke="#111" stroke-width="0.38" stroke-linejoin="round"/>
<polygon points="318.6,398.3 323.0,396.3 320.3,392.9 315.9,394.8" fill="#b1c3e0" stroke="#111" stroke-width="0.38" stroke-linejoin="round"/>
<polygon points="237.8,381.4 242.6,381.6 240.4,378.7 235.7,378.9" fill="#ffffff" stroke="#111" stroke-width="0.38" stroke-linejoin="round"/>
<polygon points="353.2,391.8 357.6,387.7 354.7,384.7 350.2,389.1" fill="#d2dded" stroke="#111" stroke-width="0.38" stroke-linejoin="round"/>
<polygon points="307.2,399.3 311.6,396.9 308.9,393.9 304.6,396.4" fill="#b1c3e0" stroke="#111" stroke-width="0.38" stroke-linejoin="round"/>
<polygon points="337.1,398.4 341.5,395.8 338.7,392.7 334.3,395.4" fill="#b1c3e0" stroke="#111" stroke-width="0.38" stroke-linejoin="round"/>
<polygon points="291.3,403.8 295.8,401.6 293.2,400.0 288.9,402.3" fill="#b1c3e0" stroke="#111" stroke-width="0.38" stroke-linejoin="round"/>
<polygon points="244.8,384.7 249.6,386.4 247.3,382.8 242.6,381.6" fill="#ffffff" stroke="#111" stroke-width="0.38" stroke-linejoin="round"/>
<polygon points="325.7,399.8 330.0,397.7 327.3,394.2 323.0,396.3" fill="#b1c3e0" stroke="#111" stroke-width="0.38" stroke-linejoin="round"/>
<polygon points="348.8,395.2 353.2,391.8 350.2,389.1 345.9,392.7" fill="#d2dded" stroke="#111" stroke-width="0.38" stroke-linejoin="round"/>
<polygon points="302.8,401.8 307.2,399.3 304.6,396.4 300.2,399.1" fill="#b1c3e0" stroke="#111" stroke-width="0.38" stroke-linejoin="round"/>
<polygon points="268.4,402.0 273.0,403.0 270.7,401.5 266.1,400.2" fill="#b1c3e0" stroke="#111" stroke-width="0.38" stroke-linejoin="round"/>
<polygon points="261.4,398.3 266.1,400.2 263.7,397.8 259.0,395.7" fill="#b1c3e0" stroke="#111" stroke-width="0.38" stroke-linejoin="round"/>
<polygon points="314.2,400.4 318.6,398.3 315.9,394.8 311.6,396.9" fill="#b1c3e0" stroke="#111" stroke-width="0.38" stroke-linejoin="round"/>
<polygon points="332.8,400.8 337.1,398.4 334.3,395.4 330.0,397.7" fill="#b1c3e0" stroke="#111" stroke-width="0.38" stroke-linejoin="round"/>
<polygon points="344.4,398.2 348.8,395.2 345.9,392.7 341.5,395.8" fill="#d2dded" stroke="#111" stroke-width="0.38" stroke-linejoin="round"/>
<polygon points="286.9,405.2 291.3,403.8 288.9,402.3 284.4,403.7" fill="#b1c3e0" stroke="#111" stroke-width="0.38" stroke-linejoin="round"/>
<polygon points="254.3,393.3 259.0,395.7 256.7,392.3 251.9,390.0" fill="#d2dded" stroke="#111" stroke-width="0.38" stroke-linejoin="round"/>
<polygon points="321.3,401.8 325.7,399.8 323.0,396.3 318.6,398.3" fill="#b1c3e0" stroke="#111" stroke-width="0.38" stroke-linejoin="round"/>
<polygon points="275.4,404.3 279.9,404.4 277.5,403.3 273.0,403.0" fill="#b1c3e0" stroke="#111" stroke-width="0.38" stroke-linejoin="round"/>
<polygon points="298.3,404.2 302.8,401.8 300.2,399.1 295.8,401.6" fill="#b1c3e0" stroke="#111" stroke-width="0.38" stroke-linejoin="round"/>
<polygon points="309.8,402.7 314.2,400.4 311.6,396.9 307.2,399.3" fill="#b1c3e0" stroke="#111" stroke-width="0.38" stroke-linejoin="round"/>
<polygon points="340.0,400.7 344.4,398.2 341.5,395.8 337.1,398.4" fill="#b1c3e0" stroke="#111" stroke-width="0.38" stroke-linejoin="round"/>
<polygon points="356.2,393.5 360.6,389.9 357.6,387.7 353.2,391.8" fill="#d2dded" stroke="#111" stroke-width="0.38" stroke-linejoin="round"/>
<polygon points="247.1,388.0 251.9,390.0 249.6,386.4 244.8,384.7" fill="#d2dded" stroke="#111" stroke-width="0.38" stroke-linejoin="round"/>
<polygon points="328.4,402.9 332.8,400.8 330.0,397.7 325.7,399.8" fill="#b1c3e0" stroke="#111" stroke-width="0.38" stroke-linejoin="round"/>
<polygon points="240.0,384.0 244.8,384.7 242.6,381.6 237.8,381.4" fill="#ffffff" stroke="#111" stroke-width="0.38" stroke-linejoin="round"/>
<polygon points="293.9,406.2 298.3,404.2 295.8,401.6 291.3,403.8" fill="#b1c3e0" stroke="#111" stroke-width="0.38" stroke-linejoin="round"/>
<polygon points="282.4,405.9 286.9,405.2 284.4,403.7 279.9,404.4" fill="#b1c3e0" stroke="#111" stroke-width="0.38" stroke-linejoin="round"/>
<polygon points="316.9,403.9 321.3,401.8 318.6,398.3 314.2,400.4" fill="#b1c3e0" stroke="#111" stroke-width="0.38" stroke-linejoin="round"/>
<polygon points="351.8,396.6 356.2,393.5 353.2,391.8 348.8,395.2" fill="#d2dded" stroke="#111" stroke-width="0.38" stroke-linejoin="round"/>
<polygon points="305.4,405.1 309.8,402.7 307.2,399.3 302.8,401.8" fill="#b1c3e0" stroke="#111" stroke-width="0.38" stroke-linejoin="round"/>
<polygon points="335.6,403.0 340.0,400.7 337.1,398.4 332.8,400.8" fill="#b1c3e0" stroke="#111" stroke-width="0.38" stroke-linejoin="round"/>
<polygon points="263.7,400.5 268.4,402.0 266.1,400.2 261.4,398.3" fill="#b1c3e0" stroke="#111" stroke-width="0.38" stroke-linejoin="round"/>
<polygon points="324.0,404.9 328.4,402.9 325.7,399.8 321.3,401.8" fill="#b1c3e0" stroke="#111" stroke-width="0.38" stroke-linejoin="round"/>
<polygon points="256.6,396.2 261.4,398.3 259.0,395.7 254.3,393.3" fill="#d2dded" stroke="#111" stroke-width="0.38" stroke-linejoin="round"/>
<polygon points="347.4,399.3 351.8,396.6 348.8,395.2 344.4,398.2" fill="#d2dded" stroke="#111" stroke-width="0.38" stroke-linejoin="round"/>
<polygon points="270.8,403.7 275.4,404.3 273.0,403.0 268.4,402.0" fill="#b1c3e0" stroke="#111" stroke-width="0.38" stroke-linejoin="round"/>
<polygon points="312.5,406.2 316.9,403.9 314.2,400.4 309.8,402.7" fill="#b1c3e0" stroke="#111" stroke-width="0.38" stroke-linejoin="round"/>
<polygon points="300.9,407.4 305.4,405.1 302.8,401.8 298.3,404.2" fill="#b1c3e0" stroke="#111" stroke-width="0.38" stroke-linejoin="round"/>
<polygon points="289.4,407.6 293.9,406.2 291.3,403.8 286.9,405.2" fill="#b1c3e0" stroke="#111" stroke-width="0.38" stroke-linejoin="round"/>
<polygon points="249.4,391.1 254.3,393.3 251.9,390.0 247.1,388.0" fill="#d2dded" stroke="#111" stroke-width="0.38" stroke-linejoin="round"/>
<polygon points="331.3,405.0 335.6,403.0 332.8,400.8 328.4,402.9" fill="#b1c3e0" stroke="#111" stroke-width="0.38" stroke-linejoin="round"/>
<polygon points="277.8,406.1 282.4,405.9 279.9,404.4 275.4,404.3" fill="#b1c3e0" stroke="#111" stroke-width="0.38" stroke-linejoin="round"/>
<polygon points="242.3,386.6 247.1,388.0 244.8,384.7 240.0,384.0" fill="#ffffff" stroke="#111" stroke-width="0.38" stroke-linejoin="round"/>
<polygon points="319.6,407.0 324.0,404.9 321.3,401.8 316.9,403.9" fill="#b1c3e0" stroke="#111" stroke-width="0.38" stroke-linejoin="round"/>
<polygon points="343.0,401.6 347.4,399.3 344.4,398.2 340.0,400.7" fill="#d2dded" stroke="#111" stroke-width="0.38" stroke-linejoin="round"/>
<polygon points="308.0,408.5 312.5,406.2 309.8,402.7 305.4,405.1" fill="#b1c3e0" stroke="#111" stroke-width="0.38" stroke-linejoin="round"/>
<polygon points="359.4,393.9 363.8,391.1 360.6,389.9 356.2,393.5" fill="#d2dded" stroke="#111" stroke-width="0.38" stroke-linejoin="round"/>
<polygon points="296.5,409.2 300.9,407.4 298.3,404.2 293.9,406.2" fill="#b1c3e0" stroke="#111" stroke-width="0.38" stroke-linejoin="round"/>
<polygon points="284.9,408.3 289.4,407.6 286.9,405.2 282.4,405.9" fill="#b1c3e0" stroke="#111" stroke-width="0.38" stroke-linejoin="round"/>
<polygon points="326.8,407.0 331.3,405.0 328.4,402.9 324.0,404.9" fill="#b1c3e0" stroke="#111" stroke-width="0.38" stroke-linejoin="round"/>
<polygon points="315.2,409.2 319.6,407.0 316.9,403.9 312.5,406.2" fill="#b1c3e0" stroke="#111" stroke-width="0.38" stroke-linejoin="round"/>
<polygon points="355.0,396.3 359.4,393.9 356.2,393.5 351.8,396.6" fill="#d2dded" stroke="#111" stroke-width="0.38" stroke-linejoin="round"/>
<polygon points="303.6,410.6 308.0,408.5 305.4,405.1 300.9,407.4" fill="#b1c3e0" stroke="#111" stroke-width="0.38" stroke-linejoin="round"/>
<polygon points="338.6,403.7 343.0,401.6 340.0,400.7 335.6,403.0" fill="#b1c3e0" stroke="#111" stroke-width="0.38" stroke-linejoin="round"/>
<polygon points="266.1,402.6 270.8,403.7 268.4,402.0 263.7,400.5" fill="#b1c3e0" stroke="#111" stroke-width="0.38" stroke-linejoin="round"/>
<polygon points="258.9,398.7 263.7,400.5 261.4,398.3 256.6,396.2" fill="#d2dded" stroke="#111" stroke-width="0.38" stroke-linejoin="round"/>
<polygon points="292.0,410.5 296.5,409.2 293.9,406.2 289.4,407.6" fill="#b1c3e0" stroke="#111" stroke-width="0.38" stroke-linejoin="round"/>
<polygon points="251.7,393.9 256.6,396.2 254.3,393.3 249.4,391.1" fill="#d2dded" stroke="#111" stroke-width="0.38" stroke-linejoin="round"/>
<polygon points="273.2,405.7 277.8,406.1 275.4,404.3 270.8,403.7" fill="#b1c3e0" stroke="#111" stroke-width="0.38" stroke-linejoin="round"/>
<polygon points="310.7,411.4 315.2,409.2 312.5,406.2 308.0,408.5" fill="#b1c3e0" stroke="#111" stroke-width="0.38" stroke-linejoin="round"/>
<polygon points="322.4,409.1 326.8,407.0 324.0,404.9 319.6,407.0" fill="#b1c3e0" stroke="#111" stroke-width="0.38" stroke-linejoin="round"/>
<polygon points="350.6,398.6 355.0,396.3 351.8,396.6 347.4,399.3" fill="#d2dded" stroke="#111" stroke-width="0.38" stroke-linejoin="round"/>
<polygon points="244.5,389.2 249.4,391.1 247.1,388.0 242.3,386.6" fill="#ffffff" stroke="#111" stroke-width="0.38" stroke-linejoin="round"/>
<polygon points="299.1,412.4 303.6,410.6 300.9,407.4 296.5,409.2" fill="#b1c3e0" stroke="#111" stroke-width="0.38" stroke-linejoin="round"/>
<polygon points="280.3,408.5 284.9,408.3 282.4,405.9 277.8,406.1" fill="#b1c3e0" stroke="#111" stroke-width="0.38" stroke-linejoin="round"/>
<polygon points="334.2,405.7 338.6,403.7 335.6,403.0 331.3,405.0" fill="#b1c3e0" stroke="#111" stroke-width="0.38" stroke-linejoin="round"/>
<polygon points="287.4,411.2 292.0,410.5 289.4,407.6 284.9,408.3" fill="#b1c3e0" stroke="#111" stroke-width="0.38" stroke-linejoin="round"/>
<polygon points="306.2,413.4 310.7,411.4 308.0,408.5 303.6,410.6" fill="#b1c3e0" stroke="#111" stroke-width="0.38" stroke-linejoin="round"/>
<polygon points="318.0,411.2 322.4,409.1 319.6,407.0 315.2,409.2" fill="#b1c3e0" stroke="#111" stroke-width="0.38" stroke-linejoin="round"/>
<polygon points="346.2,400.6 350.6,398.6 347.4,399.3 343.0,401.6" fill="#d2dded" stroke="#111" stroke-width="0.38" stroke-linejoin="round"/>
<polygon points="362.8,392.3 367.1,390.8 363.8,391.1 359.4,393.9" fill="#ffffff" stroke="#111" stroke-width="0.38" stroke-linejoin="round"/>
<polygon points="294.6,413.6 299.1,412.4 296.5,409.2 292.0,410.5" fill="#b1c3e0" stroke="#111" stroke-width="0.38" stroke-linejoin="round"/>
<polygon points="329.8,407.6 334.2,405.7 331.3,405.0 326.8,407.0" fill="#b1c3e0" stroke="#111" stroke-width="0.38" stroke-linejoin="round"/>
<polygon points="261.3,401.0 266.1,402.6 263.7,400.5 258.9,398.7" fill="#d2dded" stroke="#111" stroke-width="0.38" stroke-linejoin="round"/>
<polygon points="268.5,404.8 273.2,405.7 270.8,403.7 266.1,402.6" fill="#b1c3e0" stroke="#111" stroke-width="0.38" stroke-linejoin="round"/>
<polygon points="254.1,396.6 258.9,398.7 256.6,396.2 251.7,393.9" fill="#d2dded" stroke="#111" stroke-width="0.38" stroke-linejoin="round"/>
<polygon points="301.7,415.1 306.2,413.4 303.6,410.6 299.1,412.4" fill="#b1c3e0" stroke="#111" stroke-width="0.38" stroke-linejoin="round"/>
<polygon points="275.7,408.2 280.3,408.5 277.8,406.1 273.2,405.7" fill="#b1c3e0" stroke="#111" stroke-width="0.38" stroke-linejoin="round"/>
<polygon points="313.5,413.3 318.0,411.2 315.2,409.2 310.7,411.4" fill="#b1c3e0" stroke="#111" stroke-width="0.38" stroke-linejoin="round"/>
<polygon points="246.8,391.8 251.7,393.9 249.4,391.1 244.5,389.2" fill="#ffffff" stroke="#111" stroke-width="0.38" stroke-linejoin="round"/>
<polygon points="341.8,402.5 346.2,400.6 343.0,401.6 338.6,403.7" fill="#d2dded" stroke="#111" stroke-width="0.38" stroke-linejoin="round"/>
<polygon points="282.8,411.4 287.4,411.2 284.9,408.3 280.3,408.5" fill="#b1c3e0" stroke="#111" stroke-width="0.38" stroke-linejoin="round"/>
<polygon points="358.4,393.8 362.8,392.3 359.4,393.9 355.0,396.3" fill="#ffffff" stroke="#111" stroke-width="0.38" stroke-linejoin="round"/>
<polygon points="325.3,409.5 329.8,407.6 326.8,407.0 322.4,409.1" fill="#b1c3e0" stroke="#111" stroke-width="0.38" stroke-linejoin="round"/>
<polygon points="290.0,414.2 294.6,413.6 292.0,410.5 287.4,411.2" fill="#b1c3e0" stroke="#111" stroke-width="0.38" stroke-linejoin="round"/>
<polygon points="309.0,415.2 313.5,413.3 310.7,411.4 306.2,413.4" fill="#b1c3e0" stroke="#111" stroke-width="0.38" stroke-linejoin="round"/>
<polygon points="297.2,416.2 301.7,415.1 299.1,412.4 294.6,413.6" fill="#b1c3e0" stroke="#111" stroke-width="0.38" stroke-linejoin="round"/>
<polygon points="337.3,404.3 341.8,402.5 338.6,403.7 334.2,405.7" fill="#d2dded" stroke="#111" stroke-width="0.38" stroke-linejoin="round"/>
<polygon points="320.8,411.5 325.3,409.5 322.4,409.1 318.0,411.2" fill="#b1c3e0" stroke="#111" stroke-width="0.38" stroke-linejoin="round"/>
<polygon points="354.0,395.4 358.4,393.8 355.0,396.3 350.6,398.6" fill="#ffffff" stroke="#111" stroke-width="0.38" stroke-linejoin="round"/>
<polygon points="263.7,403.5 268.5,404.8 266.1,402.6 261.3,401.0" fill="#d2dded" stroke="#111" stroke-width="0.38" stroke-linejoin="round"/>
<polygon points="270.9,407.4 275.7,408.2 273.2,405.7 268.5,404.8" fill="#d2dded" stroke="#111" stroke-width="0.38" stroke-linejoin="round"/>
<polygon points="256.4,399.2 261.3,401.0 258.9,398.7 254.1,396.6" fill="#d2dded" stroke="#111" stroke-width="0.38" stroke-linejoin="round"/>
<polygon points="278.2,411.1 282.8,411.4 280.3,408.5 275.7,408.2" fill="#b1c3e0" stroke="#111" stroke-width="0.38" stroke-linejoin="round"/>
<polygon points="304.4,416.7 309.0,415.2 306.2,413.4 301.7,415.1" fill="#b1c3e0" stroke="#111" stroke-width="0.38" stroke-linejoin="round"/>
<polygon points="285.4,414.3 290.0,414.2 287.4,411.2 282.8,411.4" fill="#b1c3e0" stroke="#111" stroke-width="0.38" stroke-linejoin="round"/>
<polygon points="249.1,394.5 254.1,396.6 251.7,393.9 246.8,391.8" fill="#ffffff" stroke="#111" stroke-width="0.38" stroke-linejoin="round"/>
<polygon points="292.6,416.8 297.2,416.2 294.6,413.6 290.0,414.2" fill="#b1c3e0" stroke="#111" stroke-width="0.38" stroke-linejoin="round"/>
<polygon points="332.9,406.0 337.3,404.3 334.2,405.7 329.8,407.6" fill="#d2dded" stroke="#111" stroke-width="0.38" stroke-linejoin="round"/>
<polygon points="316.3,413.5 320.8,411.5 318.0,411.2 313.5,413.3" fill="#b1c3e0" stroke="#111" stroke-width="0.38" stroke-linejoin="round"/>
<polygon points="349.6,396.9 354.0,395.4 350.6,398.6 346.2,400.6" fill="#ffffff" stroke="#111" stroke-width="0.38" stroke-linejoin="round"/>
<polygon points="299.9,417.8 304.4,416.7 301.7,415.1 297.2,416.2" fill="#b1c3e0" stroke="#111" stroke-width="0.38" stroke-linejoin="round"/>
<polygon points="311.8,415.3 316.3,413.5 313.5,413.3 309.0,415.2" fill="#b1c3e0" stroke="#111" stroke-width="0.38" stroke-linejoin="round"/>
<polygon points="328.3,407.8 332.9,406.0 329.8,407.6 325.3,409.5" fill="#d2dded" stroke="#111" stroke-width="0.38" stroke-linejoin="round"/>
<polygon points="273.4,410.3 278.2,411.1 275.7,408.2 270.9,407.4" fill="#d2dded" stroke="#111" stroke-width="0.38" stroke-linejoin="round"/>
<polygon points="280.7,414.0 285.4,414.3 282.8,411.4 278.2,411.1" fill="#b1c3e0" stroke="#111" stroke-width="0.38" stroke-linejoin="round"/>
<polygon points="266.1,406.2 270.9,407.4 268.5,404.8 263.7,403.5" fill="#d2dded" stroke="#111" stroke-width="0.38" stroke-linejoin="round"/>
<polygon points="258.8,401.9 263.7,403.5 261.3,401.0 256.4,399.2" fill="#d2dded" stroke="#111" stroke-width="0.38" stroke-linejoin="round"/>
<polygon points="345.2,398.5 349.6,396.9 346.2,400.6 341.8,402.5" fill="#ffffff" stroke="#111" stroke-width="0.38" stroke-linejoin="round"/>
<polygon points="288.0,416.9 292.6,416.8 290.0,414.2 285.4,414.3" fill="#b1c3e0" stroke="#111" stroke-width="0.38" stroke-linejoin="round"/>
<polygon points="251.5,397.2 256.4,399.2 254.1,396.6 249.1,394.5" fill="#ffffff" stroke="#111" stroke-width="0.38" stroke-linejoin="round"/>
<polygon points="295.2,418.5 299.9,417.8 297.2,416.2 292.6,416.8" fill="#b1c3e0" stroke="#111" stroke-width="0.38" stroke-linejoin="round"/>
<polygon points="307.2,416.8 311.8,415.3 309.0,415.2 304.4,416.7" fill="#b1c3e0" stroke="#111" stroke-width="0.38" stroke-linejoin="round"/>
<polygon points="323.8,409.6 328.3,407.8 325.3,409.5 320.8,411.5" fill="#d2dded" stroke="#111" stroke-width="0.38" stroke-linejoin="round"/>
<polygon points="340.7,400.1 345.2,398.5 341.8,402.5 337.3,404.3" fill="#ffffff" stroke="#111" stroke-width="0.38" stroke-linejoin="round"/>
<polygon points="276.0,413.2 280.7,414.0 278.2,411.1 273.4,410.3" fill="#d2dded" stroke="#111" stroke-width="0.38" stroke-linejoin="round"/>
<polygon points="283.3,416.5 288.0,416.9 285.4,414.3 280.7,414.0" fill="#b1c3e0" stroke="#111" stroke-width="0.38" stroke-linejoin="round"/>
<polygon points="319.3,411.5 323.8,409.6 320.8,411.5 316.3,413.5" fill="#d2dded" stroke="#111" stroke-width="0.38" stroke-linejoin="round"/>
<polygon points="268.6,409.1 273.4,410.3 270.9,407.4 266.1,406.2" fill="#d2dded" stroke="#111" stroke-width="0.38" stroke-linejoin="round"/>
<polygon points="302.6,418.0 307.2,416.8 304.4,416.7 299.9,417.8" fill="#b1c3e0" stroke="#111" stroke-width="0.38" stroke-linejoin="round"/>
<polygon points="261.3,404.6 266.1,406.2 263.7,403.5 258.8,401.9" fill="#d2dded" stroke="#111" stroke-width="0.38" stroke-linejoin="round"/>
<polygon points="253.9,400.0 258.8,401.9 256.4,399.2 251.5,397.2" fill="#ffffff" stroke="#111" stroke-width="0.38" stroke-linejoin="round"/>
<polygon points="290.6,418.6 295.2,418.5 292.6,416.8 288.0,416.9" fill="#b1c3e0" stroke="#111" stroke-width="0.38" stroke-linejoin="round"/>
<polygon points="336.2,401.7 340.7,400.1 337.3,404.3 332.9,406.0" fill="#ffffff" stroke="#111" stroke-width="0.38" stroke-linejoin="round"/>
<polygon points="314.7,413.2 319.3,411.5 316.3,413.5 311.8,415.3" fill="#d2dded" stroke="#111" stroke-width="0.38" stroke-linejoin="round"/>
<polygon points="297.9,418.8 302.6,418.0 299.9,417.8 295.2,418.5" fill="#b1c3e0" stroke="#111" stroke-width="0.38" stroke-linejoin="round"/>
<polygon points="278.5,415.8 283.3,416.5 280.7,414.0 276.0,413.2" fill="#d2dded" stroke="#111" stroke-width="0.38" stroke-linejoin="round"/>
<polygon points="331.6,403.3 336.2,401.7 332.9,406.0 328.3,407.8" fill="#ffffff" stroke="#111" stroke-width="0.38" stroke-linejoin="round"/>
<polygon points="271.1,412.0 276.0,413.2 273.4,410.3 268.6,409.1" fill="#d2dded" stroke="#111" stroke-width="0.38" stroke-linejoin="round"/>
<polygon points="285.9,418.4 290.6,418.6 288.0,416.9 283.3,416.5" fill="#b1c3e0" stroke="#111" stroke-width="0.38" stroke-linejoin="round"/>
<polygon points="263.7,407.5 268.6,409.1 266.1,406.2 261.3,404.6" fill="#d2dded" stroke="#111" stroke-width="0.38" stroke-linejoin="round"/>
<polygon points="310.0,414.8 314.7,413.2 311.8,415.3 307.2,416.8" fill="#d2dded" stroke="#111" stroke-width="0.38" stroke-linejoin="round"/>
<polygon points="256.3,402.8 261.3,404.6 258.8,401.9 253.9,400.0" fill="#ffffff" stroke="#111" stroke-width="0.38" stroke-linejoin="round"/>
<polygon points="293.3,419.2 297.9,418.8 295.2,418.5 290.6,418.6" fill="#b1c3e0" stroke="#111" stroke-width="0.38" stroke-linejoin="round"/>
<polygon points="327.0,404.9 331.6,403.3 328.3,407.8 323.8,409.6" fill="#d2dded" stroke="#111" stroke-width="0.38" stroke-linejoin="round"/>
<polygon points="305.4,416.1 310.0,414.8 307.2,416.8 302.6,418.0" fill="#d2dded" stroke="#111" stroke-width="0.38" stroke-linejoin="round"/>
<polygon points="273.7,414.6 278.5,415.8 276.0,413.2 271.1,412.0" fill="#d2dded" stroke="#111" stroke-width="0.38" stroke-linejoin="round"/>
<polygon points="281.1,417.9 285.9,418.4 283.3,416.5 278.5,415.8" fill="#d2dded" stroke="#111" stroke-width="0.38" stroke-linejoin="round"/>
<polygon points="266.2,410.4 271.1,412.0 268.6,409.1 263.7,407.5" fill="#d2dded" stroke="#111" stroke-width="0.38" stroke-linejoin="round"/>
<polygon points="322.4,406.5 327.0,404.9 323.8,409.6 319.3,411.5" fill="#d2dded" stroke="#111" stroke-width="0.38" stroke-linejoin="round"/>
<polygon points="258.7,405.6 263.7,407.5 261.3,404.6 256.3,402.8" fill="#ffffff" stroke="#111" stroke-width="0.38" stroke-linejoin="round"/>
<polygon points="288.5,419.3 293.3,419.2 290.6,418.6 285.9,418.4" fill="#d2dded" stroke="#111" stroke-width="0.38" stroke-linejoin="round"/>
<polygon points="300.7,417.2 305.4,416.1 302.6,418.0 297.9,418.8" fill="#d2dded" stroke="#111" stroke-width="0.38" stroke-linejoin="round"/>
<polygon points="317.7,408.2 322.4,406.5 319.3,411.5 314.7,413.2" fill="#d2dded" stroke="#111" stroke-width="0.38" stroke-linejoin="round"/>
<polygon points="276.3,417.0 281.1,417.9 278.5,415.8 273.7,414.6" fill="#d2dded" stroke="#111" stroke-width="0.38" stroke-linejoin="round"/>
<polygon points="268.8,413.2 273.7,414.6 271.1,412.0 266.2,410.4" fill="#d2dded" stroke="#111" stroke-width="0.38" stroke-linejoin="round"/>
<polygon points="296.0,418.1 300.7,417.2 297.9,418.8 293.3,419.2" fill="#d2dded" stroke="#111" stroke-width="0.38" stroke-linejoin="round"/>
<polygon points="261.2,408.5 266.2,410.4 263.7,407.5 258.7,405.6" fill="#ffffff" stroke="#111" stroke-width="0.38" stroke-linejoin="round"/>
<polygon points="283.7,419.2 288.5,419.3 285.9,418.4 281.1,417.9" fill="#d2dded" stroke="#111" stroke-width="0.38" stroke-linejoin="round"/>
<polygon points="313.0,409.8 317.7,408.2 314.7,413.2 310.0,414.8" fill="#d2dded" stroke="#111" stroke-width="0.38" stroke-linejoin="round"/>
<polygon points="291.2,418.8 296.0,418.1 293.3,419.2 288.5,419.3" fill="#d2dded" stroke="#111" stroke-width="0.38" stroke-linejoin="round"/>
<polygon points="308.3,411.5 313.0,409.8 310.0,414.8 305.4,416.1" fill="#d2dded" stroke="#111" stroke-width="0.38" stroke-linejoin="round"/>
<polygon points="271.3,415.8 276.3,417.0 273.7,414.6 268.8,413.2" fill="#d2dded" stroke="#111" stroke-width="0.38" stroke-linejoin="round"/>
<polygon points="263.8,411.4 268.8,413.2 266.2,410.4 261.2,408.5" fill="#ffffff" stroke="#111" stroke-width="0.38" stroke-linejoin="round"/>
<polygon points="278.8,418.8 283.7,419.2 281.1,417.9 276.3,417.0" fill="#d2dded" stroke="#111" stroke-width="0.38" stroke-linejoin="round"/>
<polygon points="303.5,413.1 308.3,411.5 305.4,416.1 300.7,417.2" fill="#ffffff" stroke="#111" stroke-width="0.38" stroke-linejoin="round"/>
<polygon points="286.3,419.4 291.2,418.8 288.5,419.3 283.7,419.2" fill="#d2dded" stroke="#111" stroke-width="0.38" stroke-linejoin="round"/>
<polygon points="298.7,414.8 303.5,413.1 300.7,417.2 296.0,418.1" fill="#ffffff" stroke="#111" stroke-width="0.38" stroke-linejoin="round"/>
<polygon points="273.9,418.1 278.8,418.8 276.3,417.0 271.3,415.8" fill="#d2dded" stroke="#111" stroke-width="0.38" stroke-linejoin="round"/>
<polygon points="266.3,414.3 271.3,415.8 268.8,413.2 263.8,411.4" fill="#ffffff" stroke="#111" stroke-width="0.38" stroke-linejoin="round"/>
<polygon points="281.5,419.8 286.3,419.4 283.7,419.2 278.8,418.8" fill="#d2dded" stroke="#111" stroke-width="0.38" stroke-linejoin="round"/>
<polygon points="293.9,416.5 298.7,414.8 296.0,418.1 291.2,418.8" fill="#ffffff" stroke="#111" stroke-width="0.38" stroke-linejoin="round"/>
<polygon points="268.9,417.3 273.9,418.1 271.3,415.8 266.3,414.3" fill="#ffffff" stroke="#111" stroke-width="0.38" stroke-linejoin="round"/>
<polygon points="276.5,420.1 281.5,419.8 278.8,418.8 273.9,418.1" fill="#ffffff" stroke="#111" stroke-width="0.38" stroke-linejoin="round"/>
<polygon points="289.0,418.2 293.9,416.5 291.2,418.8 286.3,419.4" fill="#ffffff" stroke="#111" stroke-width="0.38" stroke-linejoin="round"/>
<polygon points="284.1,420.0 289.0,418.2 286.3,419.4 281.5,419.8" fill="#ffffff" stroke="#111" stroke-width="0.38" stroke-linejoin="round"/>
<polygon points="271.5,420.4 276.5,420.1 273.9,418.1 268.9,417.3" fill="#ffffff" stroke="#111" stroke-width="0.38" stroke-linejoin="round"/>
<polygon points="279.2,421.7 284.1,420.0 281.5,419.8 276.5,420.1" fill="#ffffff" stroke="#111" stroke-width="0.38" stroke-linejoin="round"/>
<polygon points="274.2,423.5 279.2,421.7 276.5,420.1 271.5,420.4" fill="#ffffff" stroke="#111" stroke-width="0.38" stroke-linejoin="round"/>
<line x1="274.03" y1="476.09" x2="270.94" y2="381.40" stroke="#444" stroke-width="0.7"/>
<line x1="215.27" y1="331.37" x2="218.87" y2="331.37" stroke="#444" stroke-width="0.7"/>
<text x="209.67" y="333.47" font-size="6" text-anchor="middle" fill="#4a4646">10</text>
<line x1="217.02" y1="350.31" x2="220.62" y2="350.31" stroke="#444" stroke-width="0.7"/>
<text x="211.42" y="352.41" font-size="6" text-anchor="middle" fill="#4a4646">5</text>
<line x1="218.70" y1="368.41" x2="222.30" y2="368.41" stroke="#444" stroke-width="0.7"/>
<text x="213.10" y="370.51" font-size="6" text-anchor="middle" fill="#4a4646">0</text>
<line x1="220.30" y1="385.74" x2="223.90" y2="385.74" stroke="#444" stroke-width="0.7"/>
<text x="214.70" y="387.84" font-size="6" text-anchor="middle" fill="#4a4646">-5</text>
<line x1="221.84" y1="402.33" x2="225.44" y2="402.33" stroke="#444" stroke-width="0.7"/>
<text x="216.24" y="404.43" font-size="6" text-anchor="middle" fill="#4a4646">-10</text>
<line x1="272.13" y1="473.64" x2="269.23" y2="476.54" stroke="#444" stroke-width="0.7"/>
<text x="265.93" y="485.34" font-size="6" text-anchor="middle" fill="#4a4646">0</text>
<line x1="262.38" y1="460.98" x2="259.48" y2="463.88" stroke="#444" stroke-width="0.7"/>
<text x="256.18" y="472.26" font-size="6" text-anchor="middle" fill="#4a4646">0.32</text>
<line x1="253.13" y1="448.97" x2="250.23" y2="451.87" stroke="#444" stroke-width="0.7"/>
<text x="246.93" y="459.83" font-size="6" text-anchor="middle" fill="#4a4646">1.6</text>
<line x1="244.34" y1="437.56" x2="241.44" y2="440.46" stroke="#444" stroke-width="0.7"/>
<text x="238.14" y="448.00" font-size="6" text-anchor="middle" fill="#4a4646">8</text>
<line x1="235.98" y1="426.71" x2="233.08" y2="429.61" stroke="#444" stroke-width="0.7"/>
<text x="229.78" y="436.73" font-size="6" text-anchor="middle" fill="#4a4646">40</text>
<line x1="228.02" y1="416.38" x2="225.12" y2="419.28" stroke="#444" stroke-width="0.7"/>
<text x="221.82" y="425.98" font-size="6" text-anchor="middle" fill="#4a4646">200</text>
<line x1="277.57" y1="474.71" x2="278.47" y2="478.91" stroke="#444" stroke-width="0.7"/>
<text x="281.17" y="488.81" font-size="6" text-anchor="middle" fill="#4a4646">0</text>
<line x1="296.06" y1="467.46" x2="296.96" y2="471.66" stroke="#444" stroke-width="0.7"/>
<text x="299.66" y="481.00" font-size="6" text-anchor="middle" fill="#4a4646">7.81</text>
<line x1="314.03" y1="460.41" x2="314.93" y2="464.61" stroke="#444" stroke-width="0.7"/>
<text x="317.63" y="473.39" font-size="6" text-anchor="middle" fill="#4a4646">31.25</text>
<line x1="331.51" y1="453.56" x2="332.41" y2="457.76" stroke="#444" stroke-width="0.7"/>
<text x="335.11" y="465.98" font-size="6" text-anchor="middle" fill="#4a4646">125</text>
<line x1="348.51" y1="446.90" x2="349.41" y2="451.10" stroke="#444" stroke-width="0.7"/>
<text x="352.11" y="458.76" font-size="6" text-anchor="middle" fill="#4a4646">500</text>
<line x1="365.05" y1="440.42" x2="365.95" y2="444.62" stroke="#444" stroke-width="0.7"/>
<text x="368.65" y="451.72" font-size="6" text-anchor="middle" fill="#4a4646">2000</text>
<text x="235.70" y="461.50" font-size="6.4" text-anchor="middle" fill="#4a4646" transform="rotate(52 235.70 461.50)">mebendazole (nM)</text>
<text x="331.90" y="480.50" font-size="5.8" text-anchor="middle" fill="#4a4646" transform="rotate(-22 331.90 480.50)">artesunate (nM)</text>
<text x="206.60" y="369.30" font-size="5.8" text-anchor="middle" fill="#4a4646" transform="rotate(-90 206.60 369.30)">Synergy Score</text>
<text x="407.75" y="341.60" font-size="5.3" text-anchor="middle" fill="#333">Synergy Score</text>
<rect x="402.30" y="348.40" width="10.90" height="3.17" fill="#b4202c"/>
<rect x="402.30" y="351.27" width="10.90" height="6.05" fill="#bf404a"/>
<rect x="402.30" y="357.02" width="10.90" height="6.05" fill="#c96068"/>
<rect x="402.30" y="362.77" width="10.90" height="6.05" fill="#d48086"/>
<rect x="402.30" y="368.52" width="10.90" height="6.05" fill="#df9fa5"/>
<rect x="402.30" y="374.27" width="10.90" height="6.05" fill="#eabfc3"/>
<rect x="402.30" y="380.02" width="10.90" height="6.05" fill="#f4dfe1"/>
<rect x="402.30" y="385.77" width="10.90" height="6.05" fill="#ffffff"/>
<rect x="402.30" y="391.52" width="10.90" height="6.05" fill="#e1e8f3"/>
<rect x="402.30" y="397.27" width="10.90" height="6.05" fill="#c2d0e7"/>
<rect x="402.30" y="403.02" width="10.90" height="6.05" fill="#a4b9db"/>
<rect x="402.30" y="408.77" width="10.90" height="6.05" fill="#85a2ce"/>
<rect x="402.30" y="414.52" width="10.90" height="6.05" fill="#678bc2"/>
<rect x="402.30" y="420.27" width="10.90" height="6.05" fill="#4873b6"/>
<rect x="402.30" y="426.02" width="10.90" height="3.17" fill="#2a5caa"/>
<text x="418.70" y="362.90" font-size="6" fill="#333">10</text>
<text x="418.70" y="377.27" font-size="6" fill="#333">5</text>
<text x="418.70" y="391.65" font-size="6" fill="#333">0</text>
<text x="418.70" y="406.02" font-size="6" fill="#333">-5</text>
<text x="418.70" y="420.40" font-size="6" fill="#333">-10</text>
<text x="583.90" y="281.30" font-size="10.15" font-weight="bold" text-anchor="middle" fill="#111">Loewe Synergy Score</text>
<text x="583.90" y="291.90" font-size="6.8" text-anchor="middle" fill="#4a4a4a">Mean: -3.07 (p = 3.18e-02)</text>
<line x1="588.26" y1="386.12" x2="589.96" y2="300.84" stroke="#444" stroke-width="0.7" stroke-dasharray="3,2"/>
<line x1="588.26" y1="386.12" x2="502.36" y2="414.68" stroke="#444" stroke-width="0.7" stroke-dasharray="3,2"/>
<line x1="588.26" y1="386.12" x2="643.91" y2="439.42" stroke="#444" stroke-width="0.7" stroke-dasharray="3,2"/>
<line x1="494.18" y1="326.27" x2="589.96" y2="300.84" stroke="#444" stroke-width="0.7"/>
<line x1="589.96" y1="300.84" x2="652.82" y2="347.81" stroke="#444" stroke-width="0.7"/>
<line x1="652.82" y1="347.81" x2="546.74" y2="381.60" stroke="#444" stroke-width="0.7"/>
<line x1="546.74" y1="381.60" x2="494.18" y2="326.27" stroke="#444" stroke-width="0.7"/>
<line x1="502.36" y1="414.68" x2="494.18" y2="326.27" stroke="#444" stroke-width="0.7"/>
<line x1="643.91" y1="439.42" x2="652.82" y2="347.81" stroke="#444" stroke-width="0.7"/>
<line x1="549.83" y1="476.29" x2="643.91" y2="439.42" stroke="#444" stroke-width="0.7"/>
<line x1="549.83" y1="476.29" x2="502.36" y2="414.68" stroke="#444" stroke-width="0.7"/>
<polygon points="586.4,347.6 589.8,374.8 587.4,374.7 584.0,344.7" fill="#d7e0ef" stroke="#111" stroke-width="0.38" stroke-linejoin="round"/>
<polygon points="588.8,352.1 592.2,375.1 589.8,374.8 586.4,347.6" fill="#d7e0ef" stroke="#111" stroke-width="0.38" stroke-linejoin="round"/>
<polygon points="550.0,387.7 554.1,385.8 552.0,389.1 548.0,391.5" fill="#85a1ce" stroke="#111" stroke-width="0.38" stroke-linejoin="round"/>
<polygon points="554.1,385.8 558.1,380.2 555.9,382.5 552.0,389.1" fill="#9eb5d8" stroke="#111" stroke-width="0.38" stroke-linejoin="round"/>
<polygon points="591.2,357.6 594.7,375.6 592.2,375.1 588.8,352.1" fill="#d7e0ef" stroke="#111" stroke-width="0.38" stroke-linejoin="round"/>
<polygon points="545.8,387.4 550.0,387.7 548.0,391.5 543.9,391.4" fill="#85a1ce" stroke="#111" stroke-width="0.38" stroke-linejoin="round"/>
<polygon points="593.6,363.7 597.2,376.4 594.7,375.6 591.2,357.6" fill="#d7e0ef" stroke="#111" stroke-width="0.38" stroke-linejoin="round"/>
<polygon points="558.1,380.2 562.0,370.2 559.8,370.9 555.9,382.5" fill="#b9c9e3" stroke="#111" stroke-width="0.38" stroke-linejoin="round"/>
<polygon points="541.6,386.4 545.8,387.4 543.9,391.4 539.7,389.8" fill="#9eb5d8" stroke="#111" stroke-width="0.38" stroke-linejoin="round"/>
<polygon points="596.0,369.9 599.7,377.2 597.2,376.4 593.6,363.7" fill="#d7e0ef" stroke="#111" stroke-width="0.38" stroke-linejoin="round"/>
<polygon points="556.2,384.0 560.3,379.3 558.1,380.2 554.1,385.8" fill="#b9c9e3" stroke="#111" stroke-width="0.38" stroke-linejoin="round"/>
<polygon points="552.1,385.6 556.2,384.0 554.1,385.8 550.0,387.7" fill="#9eb5d8" stroke="#111" stroke-width="0.38" stroke-linejoin="round"/>
<polygon points="598.4,375.7 602.3,378.2 599.7,377.2 596.0,369.9" fill="#d7e0ef" stroke="#111" stroke-width="0.38" stroke-linejoin="round"/>
<polygon points="537.3,385.7 541.6,386.4 539.7,389.8 535.4,388.2" fill="#9eb5d8" stroke="#111" stroke-width="0.38" stroke-linejoin="round"/>
<polygon points="562.0,370.2 566.0,357.3 563.7,356.4 559.8,370.9" fill="#ffffff" stroke="#111" stroke-width="0.38" stroke-linejoin="round"/>
<polygon points="560.3,379.3 564.3,370.8 562.0,370.2 558.1,380.2" fill="#d7e0ef" stroke="#111" stroke-width="0.38" stroke-linejoin="round"/>
<polygon points="547.9,385.6 552.1,385.6 550.0,387.7 545.8,387.4" fill="#9eb5d8" stroke="#111" stroke-width="0.38" stroke-linejoin="round"/>
<polygon points="582.6,332.7 586.4,347.6 584.0,344.7 580.1,328.3" fill="#e3abb0" stroke="#111" stroke-width="0.38" stroke-linejoin="round"/>
<polygon points="600.8,380.7 604.9,379.3 602.3,378.2 598.4,375.7" fill="#b9c9e3" stroke="#111" stroke-width="0.38" stroke-linejoin="round"/>
<polygon points="533.0,385.4 537.3,385.7 535.4,388.2 531.0,386.5" fill="#b9c9e3" stroke="#111" stroke-width="0.38" stroke-linejoin="round"/>
<polygon points="543.6,385.1 547.9,385.6 545.8,387.4 541.6,386.4" fill="#b9c9e3" stroke="#111" stroke-width="0.38" stroke-linejoin="round"/>
<polygon points="558.4,383.4 562.6,379.5 560.3,379.3 556.2,384.0" fill="#b9c9e3" stroke="#111" stroke-width="0.38" stroke-linejoin="round"/>
<polygon points="585.0,339.6 588.8,352.1 586.4,347.6 582.6,332.7" fill="#ecc7ca" stroke="#111" stroke-width="0.38" stroke-linejoin="round"/>
<polygon points="554.3,385.1 558.4,383.4 556.2,384.0 552.1,385.6" fill="#b9c9e3" stroke="#111" stroke-width="0.38" stroke-linejoin="round"/>
<polygon points="564.3,370.8 568.4,359.9 566.0,357.3 562.0,370.2" fill="#ffffff" stroke="#111" stroke-width="0.38" stroke-linejoin="round"/>
<polygon points="587.4,347.9 591.2,357.6 588.8,352.1 585.0,339.6" fill="#ecc7ca" stroke="#111" stroke-width="0.38" stroke-linejoin="round"/>
<polygon points="594.4,374.7 598.4,375.7 596.0,369.9 592.1,366.2" fill="#d7e0ef" stroke="#111" stroke-width="0.38" stroke-linejoin="round"/>
<polygon points="592.1,366.2 596.0,369.9 593.6,363.7 589.7,357.0" fill="#ffffff" stroke="#111" stroke-width="0.38" stroke-linejoin="round"/>
<polygon points="562.6,379.5 566.6,372.6 564.3,370.8 560.3,379.3" fill="#d7e0ef" stroke="#111" stroke-width="0.38" stroke-linejoin="round"/>
<polygon points="589.7,357.0 593.6,363.7 591.2,357.6 587.4,347.9" fill="#f6e3e5" stroke="#111" stroke-width="0.38" stroke-linejoin="round"/>
<polygon points="603.4,384.3 607.5,380.3 604.9,379.3 600.8,380.7" fill="#b9c9e3" stroke="#111" stroke-width="0.38" stroke-linejoin="round"/>
<polygon points="596.8,381.9 600.8,380.7 598.4,375.7 594.4,374.7" fill="#d7e0ef" stroke="#111" stroke-width="0.38" stroke-linejoin="round"/>
<polygon points="566.0,357.3 570.1,344.2 567.7,341.5 563.7,356.4" fill="#ecc7ca" stroke="#111" stroke-width="0.38" stroke-linejoin="round"/>
<polygon points="550.1,385.5 554.3,385.1 552.1,385.6 547.9,385.6" fill="#b9c9e3" stroke="#111" stroke-width="0.38" stroke-linejoin="round"/>
<polygon points="539.4,385.3 543.6,385.1 541.6,386.4 537.3,385.7" fill="#b9c9e3" stroke="#111" stroke-width="0.38" stroke-linejoin="round"/>
<polygon points="599.3,387.1 603.4,384.3 600.8,380.7 596.8,381.9" fill="#b9c9e3" stroke="#111" stroke-width="0.38" stroke-linejoin="round"/>
<polygon points="528.6,385.5 533.0,385.4 531.0,386.5 526.6,385.0" fill="#b9c9e3" stroke="#111" stroke-width="0.38" stroke-linejoin="round"/>
<polygon points="566.6,372.6 570.8,363.9 568.4,359.9 564.3,370.8" fill="#ffffff" stroke="#111" stroke-width="0.38" stroke-linejoin="round"/>
<polygon points="592.8,383.0 596.8,381.9 594.4,374.7 590.4,374.9" fill="#d7e0ef" stroke="#111" stroke-width="0.38" stroke-linejoin="round"/>
<polygon points="560.7,384.1 564.9,380.7 562.6,379.5 558.4,383.4" fill="#b9c9e3" stroke="#111" stroke-width="0.38" stroke-linejoin="round"/>
<polygon points="595.2,389.0 599.3,387.1 596.8,381.9 592.8,383.0" fill="#b9c9e3" stroke="#111" stroke-width="0.38" stroke-linejoin="round"/>
<polygon points="606.0,386.4 610.2,381.4 607.5,380.3 603.4,384.3" fill="#b9c9e3" stroke="#111" stroke-width="0.38" stroke-linejoin="round"/>
<polygon points="590.4,374.9 594.4,374.7 592.1,366.2 588.0,365.5" fill="#ffffff" stroke="#111" stroke-width="0.38" stroke-linejoin="round"/>
<polygon points="564.9,380.7 569.0,375.4 566.6,372.6 562.6,379.5" fill="#d7e0ef" stroke="#111" stroke-width="0.38" stroke-linejoin="round"/>
<polygon points="601.8,390.0 606.0,386.4 603.4,384.3 599.3,387.1" fill="#b9c9e3" stroke="#111" stroke-width="0.38" stroke-linejoin="round"/>
<polygon points="545.8,385.7 550.1,385.5 547.9,385.6 543.6,385.1" fill="#b9c9e3" stroke="#111" stroke-width="0.38" stroke-linejoin="round"/>
<polygon points="535.1,386.0 539.4,385.3 537.3,385.7 533.0,385.4" fill="#b9c9e3" stroke="#111" stroke-width="0.38" stroke-linejoin="round"/>
<polygon points="568.4,359.9 572.5,348.9 570.1,344.2 566.0,357.3" fill="#ecc7ca" stroke="#111" stroke-width="0.38" stroke-linejoin="round"/>
<polygon points="556.5,385.9 560.7,384.1 558.4,383.4 554.3,385.1" fill="#b9c9e3" stroke="#111" stroke-width="0.38" stroke-linejoin="round"/>
<polygon points="524.3,385.5 528.6,385.5 526.6,385.0 522.2,383.6" fill="#b9c9e3" stroke="#111" stroke-width="0.38" stroke-linejoin="round"/>
<polygon points="588.0,365.5 592.1,366.2 589.7,357.0 585.7,355.4" fill="#f6e3e5" stroke="#111" stroke-width="0.38" stroke-linejoin="round"/>
<polygon points="578.5,328.9 582.6,332.7 580.1,328.3 576.0,324.1" fill="#d0747b" stroke="#111" stroke-width="0.38" stroke-linejoin="round"/>
<polygon points="597.7,392.5 601.8,390.0 599.3,387.1 595.2,389.0" fill="#b9c9e3" stroke="#111" stroke-width="0.38" stroke-linejoin="round"/>
<polygon points="588.7,384.0 592.8,383.0 590.4,374.9 586.3,376.1" fill="#d7e0ef" stroke="#111" stroke-width="0.38" stroke-linejoin="round"/>
<polygon points="591.1,390.1 595.2,389.0 592.8,383.0 588.7,384.0" fill="#b9c9e3" stroke="#111" stroke-width="0.38" stroke-linejoin="round"/>
<polygon points="569.0,375.4 573.2,369.0 570.8,363.9 566.6,372.6" fill="#ffffff" stroke="#111" stroke-width="0.38" stroke-linejoin="round"/>
<polygon points="570.1,344.2 574.3,333.7 571.8,329.6 567.7,341.5" fill="#da9096" stroke="#111" stroke-width="0.38" stroke-linejoin="round"/>
<polygon points="585.7,355.4 589.7,357.0 587.4,347.9 583.3,345.4" fill="#ecc7ca" stroke="#111" stroke-width="0.38" stroke-linejoin="round"/>
<polygon points="552.3,386.9 556.5,385.9 554.3,385.1 550.1,385.5" fill="#b9c9e3" stroke="#111" stroke-width="0.38" stroke-linejoin="round"/>
<polygon points="570.8,363.9 574.9,355.3 572.5,348.9 568.4,359.9" fill="#f6e3e5" stroke="#111" stroke-width="0.38" stroke-linejoin="round"/>
<polygon points="586.3,376.1 590.4,374.9 588.0,365.5 583.9,367.1" fill="#ffffff" stroke="#111" stroke-width="0.38" stroke-linejoin="round"/>
<polygon points="580.9,336.3 585.0,339.6 582.6,332.7 578.5,328.9" fill="#da9096" stroke="#111" stroke-width="0.38" stroke-linejoin="round"/>
<polygon points="530.7,387.0 535.1,386.0 533.0,385.4 528.6,385.5" fill="#b9c9e3" stroke="#111" stroke-width="0.38" stroke-linejoin="round"/>
<polygon points="541.5,386.5 545.8,385.7 543.6,385.1 539.4,385.3" fill="#b9c9e3" stroke="#111" stroke-width="0.38" stroke-linejoin="round"/>
<polygon points="583.3,345.4 587.4,347.9 585.0,339.6 580.9,336.3" fill="#e3abb0" stroke="#111" stroke-width="0.38" stroke-linejoin="round"/>
<polygon points="593.6,394.1 597.7,392.5 595.2,389.0 591.1,390.1" fill="#b9c9e3" stroke="#111" stroke-width="0.38" stroke-linejoin="round"/>
<polygon points="567.2,382.9 571.4,379.0 569.0,375.4 564.9,380.7" fill="#d7e0ef" stroke="#111" stroke-width="0.38" stroke-linejoin="round"/>
<polygon points="563.1,385.7 567.2,382.9 564.9,380.7 560.7,384.1" fill="#d7e0ef" stroke="#111" stroke-width="0.38" stroke-linejoin="round"/>
<polygon points="574.3,333.7 578.5,328.9 576.0,324.1 571.8,329.6" fill="#d0747b" stroke="#111" stroke-width="0.38" stroke-linejoin="round"/>
<polygon points="608.7,387.4 612.9,382.5 610.2,381.4 606.0,386.4" fill="#d7e0ef" stroke="#111" stroke-width="0.38" stroke-linejoin="round"/>
<polygon points="583.9,367.1 588.0,365.5 585.7,355.4 581.5,357.7" fill="#f6e3e5" stroke="#111" stroke-width="0.38" stroke-linejoin="round"/>
<polygon points="584.6,385.0 588.7,384.0 586.3,376.1 582.2,378.0" fill="#d7e0ef" stroke="#111" stroke-width="0.38" stroke-linejoin="round"/>
<polygon points="573.2,369.0 577.3,362.6 574.9,355.3 570.8,363.9" fill="#f6e3e5" stroke="#111" stroke-width="0.38" stroke-linejoin="round"/>
<polygon points="519.8,385.4 524.3,385.5 522.2,383.6 517.7,382.3" fill="#d7e0ef" stroke="#111" stroke-width="0.38" stroke-linejoin="round"/>
<polygon points="604.5,391.2 608.7,387.4 606.0,386.4 601.8,390.0" fill="#b9c9e3" stroke="#111" stroke-width="0.38" stroke-linejoin="round"/>
<polygon points="571.4,379.0 575.6,374.6 573.2,369.0 569.0,375.4" fill="#ffffff" stroke="#111" stroke-width="0.38" stroke-linejoin="round"/>
<polygon points="572.5,348.9 576.7,340.2 574.3,333.7 570.1,344.2" fill="#e3abb0" stroke="#111" stroke-width="0.38" stroke-linejoin="round"/>
<polygon points="587.0,390.9 591.1,390.1 588.7,384.0 584.6,385.0" fill="#b9c9e3" stroke="#111" stroke-width="0.38" stroke-linejoin="round"/>
<polygon points="582.2,378.0 586.3,376.1 583.9,367.1 579.7,370.4" fill="#ffffff" stroke="#111" stroke-width="0.38" stroke-linejoin="round"/>
<polygon points="575.6,374.6 579.7,370.4 577.3,362.6 573.2,369.0" fill="#ffffff" stroke="#111" stroke-width="0.38" stroke-linejoin="round"/>
<polygon points="579.7,370.4 583.9,367.1 581.5,357.7 577.3,362.6" fill="#f6e3e5" stroke="#111" stroke-width="0.38" stroke-linejoin="round"/>
<polygon points="548.0,387.7 552.3,386.9 550.1,385.5 545.8,385.7" fill="#b9c9e3" stroke="#111" stroke-width="0.38" stroke-linejoin="round"/>
<polygon points="558.9,387.7 563.1,385.7 560.7,384.1 556.5,385.9" fill="#b9c9e3" stroke="#111" stroke-width="0.38" stroke-linejoin="round"/>
<polygon points="600.3,394.2 604.5,391.2 601.8,390.0 597.7,392.5" fill="#b9c9e3" stroke="#111" stroke-width="0.38" stroke-linejoin="round"/>
<polygon points="581.5,357.7 585.7,355.4 583.3,345.4 579.1,348.5" fill="#ecc7ca" stroke="#111" stroke-width="0.38" stroke-linejoin="round"/>
<polygon points="526.4,387.9 530.7,387.0 528.6,385.5 524.3,385.5" fill="#b9c9e3" stroke="#111" stroke-width="0.38" stroke-linejoin="round"/>
<polygon points="537.2,387.9 541.5,386.5 539.4,385.3 535.1,386.0" fill="#b9c9e3" stroke="#111" stroke-width="0.38" stroke-linejoin="round"/>
<polygon points="574.9,355.3 579.1,348.5 576.7,340.2 572.5,348.9" fill="#e3abb0" stroke="#111" stroke-width="0.38" stroke-linejoin="round"/>
<polygon points="578.0,380.5 582.2,378.0 579.7,370.4 575.6,374.6" fill="#d7e0ef" stroke="#111" stroke-width="0.38" stroke-linejoin="round"/>
<polygon points="577.3,362.6 581.5,357.7 579.1,348.5 574.9,355.3" fill="#ecc7ca" stroke="#111" stroke-width="0.38" stroke-linejoin="round"/>
<polygon points="576.7,340.2 580.9,336.3 578.5,328.9 574.3,333.7" fill="#da9096" stroke="#111" stroke-width="0.38" stroke-linejoin="round"/>
<polygon points="589.5,395.2 593.6,394.1 591.1,390.1 587.0,390.9" fill="#b9c9e3" stroke="#111" stroke-width="0.38" stroke-linejoin="round"/>
<polygon points="579.1,348.5 583.3,345.4 580.9,336.3 576.7,340.2" fill="#e3abb0" stroke="#111" stroke-width="0.38" stroke-linejoin="round"/>
<polygon points="580.4,386.2 584.6,385.0 582.2,378.0 578.0,380.5" fill="#d7e0ef" stroke="#111" stroke-width="0.38" stroke-linejoin="round"/>
<polygon points="573.8,383.1 578.0,380.5 575.6,374.6 571.4,379.0" fill="#d7e0ef" stroke="#111" stroke-width="0.38" stroke-linejoin="round"/>
<polygon points="596.2,396.5 600.3,394.2 597.7,392.5 593.6,394.1" fill="#b9c9e3" stroke="#111" stroke-width="0.38" stroke-linejoin="round"/>
<polygon points="569.6,385.8 573.8,383.1 571.4,379.0 567.2,382.9" fill="#d7e0ef" stroke="#111" stroke-width="0.38" stroke-linejoin="round"/>
<polygon points="554.6,389.3 558.9,387.7 556.5,385.9 552.3,386.9" fill="#b9c9e3" stroke="#111" stroke-width="0.38" stroke-linejoin="round"/>
<polygon points="582.9,391.5 587.0,390.9 584.6,385.0 580.4,386.2" fill="#b9c9e3" stroke="#111" stroke-width="0.38" stroke-linejoin="round"/>
<polygon points="532.9,389.4 537.2,387.9 535.1,386.0 530.7,387.0" fill="#b9c9e3" stroke="#111" stroke-width="0.38" stroke-linejoin="round"/>
<polygon points="515.3,384.9 519.8,385.4 517.7,382.3 513.1,381.1" fill="#d7e0ef" stroke="#111" stroke-width="0.38" stroke-linejoin="round"/>
<polygon points="543.8,389.1 548.0,387.7 545.8,385.7 541.5,386.5" fill="#b9c9e3" stroke="#111" stroke-width="0.38" stroke-linejoin="round"/>
<polygon points="565.4,388.2 569.6,385.8 567.2,382.9 563.1,385.7" fill="#d7e0ef" stroke="#111" stroke-width="0.38" stroke-linejoin="round"/>
<polygon points="576.3,387.6 580.4,386.2 578.0,380.5 573.8,383.1" fill="#d7e0ef" stroke="#111" stroke-width="0.38" stroke-linejoin="round"/>
<polygon points="522.0,388.5 526.4,387.9 524.3,385.5 519.8,385.4" fill="#d7e0ef" stroke="#111" stroke-width="0.38" stroke-linejoin="round"/>
<polygon points="611.4,388.0 615.6,383.9 612.9,382.5 608.7,387.4" fill="#d7e0ef" stroke="#111" stroke-width="0.38" stroke-linejoin="round"/>
<polygon points="585.4,395.9 589.5,395.2 587.0,390.9 582.9,391.5" fill="#b9c9e3" stroke="#111" stroke-width="0.38" stroke-linejoin="round"/>
<polygon points="592.0,398.2 596.2,396.5 593.6,394.1 589.5,395.2" fill="#b9c9e3" stroke="#111" stroke-width="0.38" stroke-linejoin="round"/>
<polygon points="607.2,391.7 611.4,388.0 608.7,387.4 604.5,391.2" fill="#b9c9e3" stroke="#111" stroke-width="0.38" stroke-linejoin="round"/>
<polygon points="561.2,390.3 565.4,388.2 563.1,385.7 558.9,387.7" fill="#b9c9e3" stroke="#111" stroke-width="0.38" stroke-linejoin="round"/>
<polygon points="550.4,390.7 554.6,389.3 552.3,386.9 548.0,387.7" fill="#b9c9e3" stroke="#111" stroke-width="0.38" stroke-linejoin="round"/>
<polygon points="528.6,390.7 532.9,389.4 530.7,387.0 526.4,387.9" fill="#b9c9e3" stroke="#111" stroke-width="0.38" stroke-linejoin="round"/>
<polygon points="539.5,390.7 543.8,389.1 541.5,386.5 537.2,387.9" fill="#b9c9e3" stroke="#111" stroke-width="0.38" stroke-linejoin="round"/>
<polygon points="572.1,389.3 576.3,387.6 573.8,383.1 569.6,385.8" fill="#d7e0ef" stroke="#111" stroke-width="0.38" stroke-linejoin="round"/>
<polygon points="578.7,392.1 582.9,391.5 580.4,386.2 576.3,387.6" fill="#b9c9e3" stroke="#111" stroke-width="0.38" stroke-linejoin="round"/>
<polygon points="603.0,395.0 607.2,391.7 604.5,391.2 600.3,394.2" fill="#b9c9e3" stroke="#111" stroke-width="0.38" stroke-linejoin="round"/>
<polygon points="557.0,392.3 561.2,390.3 558.9,387.7 554.6,389.3" fill="#b9c9e3" stroke="#111" stroke-width="0.38" stroke-linejoin="round"/>
<polygon points="517.5,388.2 522.0,388.5 519.8,385.4 515.3,384.9" fill="#d7e0ef" stroke="#111" stroke-width="0.38" stroke-linejoin="round"/>
<polygon points="510.7,383.7 515.3,384.9 513.1,381.1 508.5,380.1" fill="#d7e0ef" stroke="#111" stroke-width="0.38" stroke-linejoin="round"/>
<polygon points="598.8,397.9 603.0,395.0 600.3,394.2 596.2,396.5" fill="#b9c9e3" stroke="#111" stroke-width="0.38" stroke-linejoin="round"/>
<polygon points="567.8,391.3 572.1,389.3 569.6,385.8 565.4,388.2" fill="#d7e0ef" stroke="#111" stroke-width="0.38" stroke-linejoin="round"/>
<polygon points="546.1,392.4 550.4,390.7 548.0,387.7 543.8,389.1" fill="#b9c9e3" stroke="#111" stroke-width="0.38" stroke-linejoin="round"/>
<polygon points="535.1,392.3 539.5,390.7 537.2,387.9 532.9,389.4" fill="#b9c9e3" stroke="#111" stroke-width="0.38" stroke-linejoin="round"/>
<polygon points="587.9,399.5 592.0,398.2 589.5,395.2 585.4,395.9" fill="#b9c9e3" stroke="#111" stroke-width="0.38" stroke-linejoin="round"/>
<polygon points="524.1,391.4 528.6,390.7 526.4,387.9 522.0,388.5" fill="#d7e0ef" stroke="#111" stroke-width="0.38" stroke-linejoin="round"/>
<polygon points="581.2,396.6 585.4,395.9 582.9,391.5 578.7,392.1" fill="#b9c9e3" stroke="#111" stroke-width="0.38" stroke-linejoin="round"/>
<polygon points="574.5,393.2 578.7,392.1 576.3,387.6 572.1,389.3" fill="#b9c9e3" stroke="#111" stroke-width="0.38" stroke-linejoin="round"/>
<polygon points="552.7,394.2 557.0,392.3 554.6,389.3 550.4,390.7" fill="#b9c9e3" stroke="#111" stroke-width="0.38" stroke-linejoin="round"/>
<polygon points="563.6,393.5 567.8,391.3 565.4,388.2 561.2,390.3" fill="#b9c9e3" stroke="#111" stroke-width="0.38" stroke-linejoin="round"/>
<polygon points="594.6,400.4 598.8,397.9 596.2,396.5 592.0,398.2" fill="#b9c9e3" stroke="#111" stroke-width="0.38" stroke-linejoin="round"/>
<polygon points="541.8,394.0 546.1,392.4 543.8,389.1 539.5,390.7" fill="#b9c9e3" stroke="#111" stroke-width="0.38" stroke-linejoin="round"/>
<polygon points="530.8,393.6 535.1,392.3 532.9,389.4 528.6,390.7" fill="#b9c9e3" stroke="#111" stroke-width="0.38" stroke-linejoin="round"/>
<polygon points="614.2,388.9 618.4,385.5 615.6,383.9 611.4,388.0" fill="#d7e0ef" stroke="#111" stroke-width="0.38" stroke-linejoin="round"/>
<polygon points="610.0,392.4 614.2,388.9 611.4,388.0 607.2,391.7" fill="#d7e0ef" stroke="#111" stroke-width="0.38" stroke-linejoin="round"/>
<polygon points="583.7,400.6 587.9,399.5 585.4,395.9 581.2,396.6" fill="#b9c9e3" stroke="#111" stroke-width="0.38" stroke-linejoin="round"/>
<polygon points="570.3,394.8 574.5,393.2 572.1,389.3 567.8,391.3" fill="#b9c9e3" stroke="#111" stroke-width="0.38" stroke-linejoin="round"/>
<polygon points="559.3,395.7 563.6,393.5 561.2,390.3 557.0,392.3" fill="#b9c9e3" stroke="#111" stroke-width="0.38" stroke-linejoin="round"/>
<polygon points="512.8,386.9 517.5,388.2 515.3,384.9 510.7,383.7" fill="#d7e0ef" stroke="#111" stroke-width="0.38" stroke-linejoin="round"/>
<polygon points="519.6,391.3 524.1,391.4 522.0,388.5 517.5,388.2" fill="#d7e0ef" stroke="#111" stroke-width="0.38" stroke-linejoin="round"/>
<polygon points="577.0,397.4 581.2,396.6 578.7,392.1 574.5,393.2" fill="#b9c9e3" stroke="#111" stroke-width="0.38" stroke-linejoin="round"/>
<polygon points="548.4,396.0 552.7,394.2 550.4,390.7 546.1,392.4" fill="#b9c9e3" stroke="#111" stroke-width="0.38" stroke-linejoin="round"/>
<polygon points="505.9,381.7 510.7,383.7 508.5,380.1 503.9,379.3" fill="#ffffff" stroke="#111" stroke-width="0.38" stroke-linejoin="round"/>
<polygon points="590.4,402.4 594.6,400.4 592.0,398.2 587.9,399.5" fill="#b9c9e3" stroke="#111" stroke-width="0.38" stroke-linejoin="round"/>
<polygon points="537.4,395.5 541.8,394.0 539.5,390.7 535.1,392.3" fill="#b9c9e3" stroke="#111" stroke-width="0.38" stroke-linejoin="round"/>
<polygon points="605.7,395.8 610.0,392.4 607.2,391.7 603.0,395.0" fill="#b9c9e3" stroke="#111" stroke-width="0.38" stroke-linejoin="round"/>
<polygon points="526.3,394.3 530.8,393.6 528.6,390.7 524.1,391.4" fill="#b9c9e3" stroke="#111" stroke-width="0.38" stroke-linejoin="round"/>
<polygon points="555.1,397.7 559.3,395.7 557.0,392.3 552.7,394.2" fill="#b9c9e3" stroke="#111" stroke-width="0.38" stroke-linejoin="round"/>
<polygon points="566.0,396.8 570.3,394.8 567.8,391.3 563.6,393.5" fill="#b9c9e3" stroke="#111" stroke-width="0.38" stroke-linejoin="round"/>
<polygon points="601.5,399.1 605.7,395.8 603.0,395.0 598.8,397.9" fill="#b9c9e3" stroke="#111" stroke-width="0.38" stroke-linejoin="round"/>
<polygon points="544.1,397.5 548.4,396.0 546.1,392.4 541.8,394.0" fill="#b9c9e3" stroke="#111" stroke-width="0.38" stroke-linejoin="round"/>
<polygon points="533.0,396.6 537.4,395.5 535.1,392.3 530.8,393.6" fill="#b9c9e3" stroke="#111" stroke-width="0.38" stroke-linejoin="round"/>
<polygon points="579.5,401.5 583.7,400.6 581.2,396.6 577.0,397.4" fill="#b9c9e3" stroke="#111" stroke-width="0.38" stroke-linejoin="round"/>
<polygon points="572.7,398.6 577.0,397.4 574.5,393.2 570.3,394.8" fill="#b9c9e3" stroke="#111" stroke-width="0.38" stroke-linejoin="round"/>
<polygon points="586.2,404.0 590.4,402.4 587.9,399.5 583.7,400.6" fill="#b9c9e3" stroke="#111" stroke-width="0.38" stroke-linejoin="round"/>
<polygon points="597.3,402.1 601.5,399.1 598.8,397.9 594.6,400.4" fill="#b9c9e3" stroke="#111" stroke-width="0.38" stroke-linejoin="round"/>
<polygon points="561.7,398.9 566.0,396.8 563.6,393.5 559.3,395.7" fill="#b9c9e3" stroke="#111" stroke-width="0.38" stroke-linejoin="round"/>
<polygon points="550.7,399.5 555.1,397.7 552.7,394.2 548.4,396.0" fill="#b9c9e3" stroke="#111" stroke-width="0.38" stroke-linejoin="round"/>
<polygon points="617.0,390.8 621.2,387.5 618.4,385.5 614.2,388.9" fill="#d7e0ef" stroke="#111" stroke-width="0.38" stroke-linejoin="round"/>
<polygon points="515.0,389.8 519.6,391.3 517.5,388.2 512.8,386.9" fill="#d7e0ef" stroke="#111" stroke-width="0.38" stroke-linejoin="round"/>
<polygon points="521.8,394.0 526.3,394.3 524.1,391.4 519.6,391.3" fill="#d7e0ef" stroke="#111" stroke-width="0.38" stroke-linejoin="round"/>
<polygon points="539.7,398.8 544.1,397.5 541.8,394.0 537.4,395.5" fill="#b9c9e3" stroke="#111" stroke-width="0.38" stroke-linejoin="round"/>
<polygon points="508.0,384.1 512.8,386.9 510.7,383.7 505.9,381.7" fill="#ffffff" stroke="#111" stroke-width="0.38" stroke-linejoin="round"/>
<polygon points="612.7,394.2 617.0,390.8 614.2,388.9 610.0,392.4" fill="#d7e0ef" stroke="#111" stroke-width="0.38" stroke-linejoin="round"/>
<polygon points="593.0,404.6 597.3,402.1 594.6,400.4 590.4,402.4" fill="#b9c9e3" stroke="#111" stroke-width="0.38" stroke-linejoin="round"/>
<polygon points="568.5,400.1 572.7,398.6 570.3,394.8 566.0,396.8" fill="#b9c9e3" stroke="#111" stroke-width="0.38" stroke-linejoin="round"/>
<polygon points="557.4,400.8 561.7,398.9 559.3,395.7 555.1,397.7" fill="#b9c9e3" stroke="#111" stroke-width="0.38" stroke-linejoin="round"/>
<polygon points="528.5,397.0 533.0,396.6 530.8,393.6 526.3,394.3" fill="#b9c9e3" stroke="#111" stroke-width="0.38" stroke-linejoin="round"/>
<polygon points="546.4,400.8 550.7,399.5 548.4,396.0 544.1,397.5" fill="#b9c9e3" stroke="#111" stroke-width="0.38" stroke-linejoin="round"/>
<polygon points="575.2,402.4 579.5,401.5 577.0,397.4 572.7,398.6" fill="#b9c9e3" stroke="#111" stroke-width="0.38" stroke-linejoin="round"/>
<polygon points="582.0,405.1 586.2,404.0 583.7,400.6 579.5,401.5" fill="#b9c9e3" stroke="#111" stroke-width="0.38" stroke-linejoin="round"/>
<polygon points="608.5,397.5 612.7,394.2 610.0,392.4 605.7,395.8" fill="#d7e0ef" stroke="#111" stroke-width="0.38" stroke-linejoin="round"/>
<polygon points="535.3,399.5 539.7,398.8 537.4,395.5 533.0,396.6" fill="#b9c9e3" stroke="#111" stroke-width="0.38" stroke-linejoin="round"/>
<polygon points="604.2,400.7 608.5,397.5 605.7,395.8 601.5,399.1" fill="#b9c9e3" stroke="#111" stroke-width="0.38" stroke-linejoin="round"/>
<polygon points="588.8,406.5 593.0,404.6 590.4,402.4 586.2,404.0" fill="#b9c9e3" stroke="#111" stroke-width="0.38" stroke-linejoin="round"/>
<polygon points="564.2,401.7 568.5,400.1 566.0,396.8 561.7,398.9" fill="#b9c9e3" stroke="#111" stroke-width="0.38" stroke-linejoin="round"/>
<polygon points="553.1,402.3 557.4,400.8 555.1,397.7 550.7,399.5" fill="#b9c9e3" stroke="#111" stroke-width="0.38" stroke-linejoin="round"/>
<polygon points="619.7,393.4 624.0,389.8 621.2,387.5 617.0,390.8" fill="#d7e0ef" stroke="#111" stroke-width="0.38" stroke-linejoin="round"/>
<polygon points="542.0,401.7 546.4,400.8 544.1,397.5 539.7,398.8" fill="#b9c9e3" stroke="#111" stroke-width="0.38" stroke-linejoin="round"/>
<polygon points="599.9,403.6 604.2,400.7 601.5,399.1 597.3,402.1" fill="#b9c9e3" stroke="#111" stroke-width="0.38" stroke-linejoin="round"/>
<polygon points="517.1,392.4 521.8,394.0 519.6,391.3 515.0,389.8" fill="#d7e0ef" stroke="#111" stroke-width="0.38" stroke-linejoin="round"/>
<polygon points="570.9,403.3 575.2,402.4 572.7,398.6 568.5,400.1" fill="#b9c9e3" stroke="#111" stroke-width="0.38" stroke-linejoin="round"/>
<polygon points="524.0,396.5 528.5,397.0 526.3,394.3 521.8,394.0" fill="#d7e0ef" stroke="#111" stroke-width="0.38" stroke-linejoin="round"/>
<polygon points="577.7,405.7 582.0,405.1 579.5,401.5 575.2,402.4" fill="#b9c9e3" stroke="#111" stroke-width="0.38" stroke-linejoin="round"/>
<polygon points="510.1,386.6 515.0,389.8 512.8,386.9 508.0,384.1" fill="#ffffff" stroke="#111" stroke-width="0.38" stroke-linejoin="round"/>
<polygon points="615.5,396.7 619.7,393.4 617.0,390.8 612.7,394.2" fill="#d7e0ef" stroke="#111" stroke-width="0.38" stroke-linejoin="round"/>
<polygon points="559.8,403.1 564.2,401.7 561.7,398.9 557.4,400.8" fill="#b9c9e3" stroke="#111" stroke-width="0.38" stroke-linejoin="round"/>
<polygon points="584.5,407.8 588.8,406.5 586.2,404.0 582.0,405.1" fill="#b9c9e3" stroke="#111" stroke-width="0.38" stroke-linejoin="round"/>
<polygon points="548.7,403.4 553.1,402.3 550.7,399.5 546.4,400.8" fill="#b9c9e3" stroke="#111" stroke-width="0.38" stroke-linejoin="round"/>
<polygon points="530.8,399.6 535.3,399.5 533.0,396.6 528.5,397.0" fill="#b9c9e3" stroke="#111" stroke-width="0.38" stroke-linejoin="round"/>
<polygon points="595.7,406.1 599.9,403.6 597.3,402.1 593.0,404.6" fill="#b9c9e3" stroke="#111" stroke-width="0.38" stroke-linejoin="round"/>
<polygon points="611.2,399.8 615.5,396.7 612.7,394.2 608.5,397.5" fill="#d7e0ef" stroke="#111" stroke-width="0.38" stroke-linejoin="round"/>
<polygon points="537.5,402.1 542.0,401.7 539.7,398.8 535.3,399.5" fill="#b9c9e3" stroke="#111" stroke-width="0.38" stroke-linejoin="round"/>
<polygon points="566.6,404.1 570.9,403.3 568.5,400.1 564.2,401.7" fill="#b9c9e3" stroke="#111" stroke-width="0.38" stroke-linejoin="round"/>
<polygon points="555.5,404.3 559.8,403.1 557.4,400.8 553.1,402.3" fill="#b9c9e3" stroke="#111" stroke-width="0.38" stroke-linejoin="round"/>
<polygon points="606.9,402.6 611.2,399.8 608.5,397.5 604.2,400.7" fill="#b9c9e3" stroke="#111" stroke-width="0.38" stroke-linejoin="round"/>
<polygon points="591.4,408.0 595.7,406.1 593.0,404.6 588.8,406.5" fill="#b9c9e3" stroke="#111" stroke-width="0.38" stroke-linejoin="round"/>
<polygon points="622.5,396.3 626.9,392.2 624.0,389.8 619.7,393.4" fill="#d7e0ef" stroke="#111" stroke-width="0.38" stroke-linejoin="round"/>
<polygon points="573.4,406.0 577.7,405.7 575.2,402.4 570.9,403.3" fill="#b9c9e3" stroke="#111" stroke-width="0.38" stroke-linejoin="round"/>
<polygon points="544.3,404.0 548.7,403.4 546.4,400.8 542.0,401.7" fill="#b9c9e3" stroke="#111" stroke-width="0.38" stroke-linejoin="round"/>
<polygon points="580.3,408.3 584.5,407.8 582.0,405.1 577.7,405.7" fill="#b9c9e3" stroke="#111" stroke-width="0.38" stroke-linejoin="round"/>
<polygon points="519.3,394.8 524.0,396.5 521.8,394.0 517.1,392.4" fill="#d7e0ef" stroke="#111" stroke-width="0.38" stroke-linejoin="round"/>
<polygon points="618.2,399.7 622.5,396.3 619.7,393.4 615.5,396.7" fill="#d7e0ef" stroke="#111" stroke-width="0.38" stroke-linejoin="round"/>
<polygon points="526.2,398.8 530.8,399.6 528.5,397.0 524.0,396.5" fill="#d7e0ef" stroke="#111" stroke-width="0.38" stroke-linejoin="round"/>
<polygon points="602.7,405.0 606.9,402.6 604.2,400.7 599.9,403.6" fill="#b9c9e3" stroke="#111" stroke-width="0.38" stroke-linejoin="round"/>
<polygon points="512.2,389.1 517.1,392.4 515.0,389.8 510.1,386.6" fill="#ffffff" stroke="#111" stroke-width="0.38" stroke-linejoin="round"/>
<polygon points="562.2,404.9 566.6,404.1 564.2,401.7 559.8,403.1" fill="#b9c9e3" stroke="#111" stroke-width="0.38" stroke-linejoin="round"/>
<polygon points="533.0,401.8 537.5,402.1 535.3,399.5 530.8,399.6" fill="#b9c9e3" stroke="#111" stroke-width="0.38" stroke-linejoin="round"/>
<polygon points="551.1,405.2 555.5,404.3 553.1,402.3 548.7,403.4" fill="#b9c9e3" stroke="#111" stroke-width="0.38" stroke-linejoin="round"/>
<polygon points="587.1,409.3 591.4,408.0 588.8,406.5 584.5,407.8" fill="#b9c9e3" stroke="#111" stroke-width="0.38" stroke-linejoin="round"/>
<polygon points="614.0,402.4 618.2,399.7 615.5,396.7 611.2,399.8" fill="#d7e0ef" stroke="#111" stroke-width="0.38" stroke-linejoin="round"/>
<polygon points="598.4,407.0 602.7,405.0 599.9,403.6 595.7,406.1" fill="#b9c9e3" stroke="#111" stroke-width="0.38" stroke-linejoin="round"/>
<polygon points="539.8,404.2 544.3,404.0 542.0,401.7 537.5,402.1" fill="#b9c9e3" stroke="#111" stroke-width="0.38" stroke-linejoin="round"/>
<polygon points="569.1,406.2 573.4,406.0 570.9,403.3 566.6,404.1" fill="#b9c9e3" stroke="#111" stroke-width="0.38" stroke-linejoin="round"/>
<polygon points="625.4,399.2 629.8,394.6 626.9,392.2 622.5,396.3" fill="#d7e0ef" stroke="#111" stroke-width="0.38" stroke-linejoin="round"/>
<polygon points="609.7,404.5 614.0,402.4 611.2,399.8 606.9,402.6" fill="#b9c9e3" stroke="#111" stroke-width="0.38" stroke-linejoin="round"/>
<polygon points="575.9,408.3 580.3,408.3 577.7,405.7 573.4,406.0" fill="#b9c9e3" stroke="#111" stroke-width="0.38" stroke-linejoin="round"/>
<polygon points="557.8,405.7 562.2,404.9 559.8,403.1 555.5,404.3" fill="#b9c9e3" stroke="#111" stroke-width="0.38" stroke-linejoin="round"/>
<polygon points="621.0,402.6 625.4,399.2 622.5,396.3 618.2,399.7" fill="#d7e0ef" stroke="#111" stroke-width="0.38" stroke-linejoin="round"/>
<polygon points="546.6,405.7 551.1,405.2 548.7,403.4 544.3,404.0" fill="#b9c9e3" stroke="#111" stroke-width="0.38" stroke-linejoin="round"/>
<polygon points="594.1,408.7 598.4,407.0 595.7,406.1 591.4,408.0" fill="#b9c9e3" stroke="#111" stroke-width="0.38" stroke-linejoin="round"/>
<polygon points="582.8,409.9 587.1,409.3 584.5,407.8 580.3,408.3" fill="#b9c9e3" stroke="#111" stroke-width="0.38" stroke-linejoin="round"/>
<polygon points="521.4,397.1 526.2,398.8 524.0,396.5 519.3,394.8" fill="#d7e0ef" stroke="#111" stroke-width="0.38" stroke-linejoin="round"/>
<polygon points="528.4,400.9 533.0,401.8 530.8,399.6 526.2,398.8" fill="#d7e0ef" stroke="#111" stroke-width="0.38" stroke-linejoin="round"/>
<polygon points="514.4,391.7 519.3,394.8 517.1,392.4 512.2,389.1" fill="#ffffff" stroke="#111" stroke-width="0.38" stroke-linejoin="round"/>
<polygon points="605.5,406.2 609.7,404.5 606.9,402.6 602.7,405.0" fill="#b9c9e3" stroke="#111" stroke-width="0.38" stroke-linejoin="round"/>
<polygon points="616.8,404.9 621.0,402.6 618.2,399.7 614.0,402.4" fill="#d7e0ef" stroke="#111" stroke-width="0.38" stroke-linejoin="round"/>
<polygon points="564.7,406.5 569.1,406.2 566.6,404.1 562.2,404.9" fill="#b9c9e3" stroke="#111" stroke-width="0.38" stroke-linejoin="round"/>
<polygon points="535.2,403.8 539.8,404.2 537.5,402.1 533.0,401.8" fill="#b9c9e3" stroke="#111" stroke-width="0.38" stroke-linejoin="round"/>
<polygon points="553.4,406.4 557.8,405.7 555.5,404.3 551.1,405.2" fill="#b9c9e3" stroke="#111" stroke-width="0.38" stroke-linejoin="round"/>
<polygon points="589.8,409.9 594.1,408.7 591.4,408.0 587.1,409.3" fill="#b9c9e3" stroke="#111" stroke-width="0.38" stroke-linejoin="round"/>
<polygon points="628.3,401.7 632.7,396.8 629.8,394.6 625.4,399.2" fill="#d7e0ef" stroke="#111" stroke-width="0.38" stroke-linejoin="round"/>
<polygon points="571.6,408.1 575.9,408.3 573.4,406.0 569.1,406.2" fill="#b9c9e3" stroke="#111" stroke-width="0.38" stroke-linejoin="round"/>
<polygon points="542.1,405.8 546.6,405.7 544.3,404.0 539.8,404.2" fill="#b9c9e3" stroke="#111" stroke-width="0.38" stroke-linejoin="round"/>
<polygon points="612.5,406.3 616.8,404.9 614.0,402.4 609.7,404.5" fill="#b9c9e3" stroke="#111" stroke-width="0.38" stroke-linejoin="round"/>
<polygon points="623.9,404.9 628.3,401.7 625.4,399.2 621.0,402.6" fill="#d7e0ef" stroke="#111" stroke-width="0.38" stroke-linejoin="round"/>
<polygon points="601.2,407.6 605.5,406.2 602.7,405.0 598.4,407.0" fill="#b9c9e3" stroke="#111" stroke-width="0.38" stroke-linejoin="round"/>
<polygon points="578.5,410.0 582.8,409.9 580.3,408.3 575.9,408.3" fill="#b9c9e3" stroke="#111" stroke-width="0.38" stroke-linejoin="round"/>
<polygon points="560.3,406.9 564.7,406.5 562.2,404.9 557.8,405.7" fill="#b9c9e3" stroke="#111" stroke-width="0.38" stroke-linejoin="round"/>
<polygon points="523.6,399.3 528.4,400.9 526.2,398.8 521.4,397.1" fill="#d7e0ef" stroke="#111" stroke-width="0.38" stroke-linejoin="round"/>
<polygon points="619.7,406.8 623.9,404.9 621.0,402.6 616.8,404.9" fill="#d7e0ef" stroke="#111" stroke-width="0.38" stroke-linejoin="round"/>
<polygon points="548.9,406.9 553.4,406.4 551.1,405.2 546.6,405.7" fill="#b9c9e3" stroke="#111" stroke-width="0.38" stroke-linejoin="round"/>
<polygon points="530.6,402.9 535.2,403.8 533.0,401.8 528.4,400.9" fill="#d7e0ef" stroke="#111" stroke-width="0.38" stroke-linejoin="round"/>
<polygon points="516.6,394.3 521.4,397.1 519.3,394.8 514.4,391.7" fill="#ffffff" stroke="#111" stroke-width="0.38" stroke-linejoin="round"/>
<polygon points="585.5,410.7 589.8,409.9 587.1,409.3 582.8,409.9" fill="#b9c9e3" stroke="#111" stroke-width="0.38" stroke-linejoin="round"/>
<polygon points="596.9,408.8 601.2,407.6 598.4,407.0 594.1,408.7" fill="#b9c9e3" stroke="#111" stroke-width="0.38" stroke-linejoin="round"/>
<polygon points="608.3,407.3 612.5,406.3 609.7,404.5 605.5,406.2" fill="#b9c9e3" stroke="#111" stroke-width="0.38" stroke-linejoin="round"/>
<polygon points="567.2,408.1 571.6,408.1 569.1,406.2 564.7,406.5" fill="#b9c9e3" stroke="#111" stroke-width="0.38" stroke-linejoin="round"/>
<polygon points="537.5,405.5 542.1,405.8 539.8,404.2 535.2,403.8" fill="#d7e0ef" stroke="#111" stroke-width="0.38" stroke-linejoin="round"/>
<polygon points="631.3,403.4 635.7,398.8 632.7,396.8 628.3,401.7" fill="#d7e0ef" stroke="#111" stroke-width="0.38" stroke-linejoin="round"/>
<polygon points="574.1,410.0 578.5,410.0 575.9,408.3 571.6,408.1" fill="#b9c9e3" stroke="#111" stroke-width="0.38" stroke-linejoin="round"/>
<polygon points="555.8,407.6 560.3,406.9 557.8,405.7 553.4,406.4" fill="#b9c9e3" stroke="#111" stroke-width="0.38" stroke-linejoin="round"/>
<polygon points="626.9,406.3 631.3,403.4 628.3,401.7 623.9,404.9" fill="#d7e0ef" stroke="#111" stroke-width="0.38" stroke-linejoin="round"/>
<polygon points="615.4,407.8 619.7,406.8 616.8,404.9 612.5,406.3" fill="#d7e0ef" stroke="#111" stroke-width="0.38" stroke-linejoin="round"/>
<polygon points="544.4,407.2 548.9,406.9 546.6,405.7 542.1,405.8" fill="#d7e0ef" stroke="#111" stroke-width="0.38" stroke-linejoin="round"/>
<polygon points="592.6,409.8 596.9,408.8 594.1,408.7 589.8,409.9" fill="#b9c9e3" stroke="#111" stroke-width="0.38" stroke-linejoin="round"/>
<polygon points="604.0,408.0 608.3,407.3 605.5,406.2 601.2,407.6" fill="#b9c9e3" stroke="#111" stroke-width="0.38" stroke-linejoin="round"/>
<polygon points="581.1,411.2 585.5,410.7 582.8,409.9 578.5,410.0" fill="#b9c9e3" stroke="#111" stroke-width="0.38" stroke-linejoin="round"/>
<polygon points="622.6,407.9 626.9,406.3 623.9,404.9 619.7,406.8" fill="#d7e0ef" stroke="#111" stroke-width="0.38" stroke-linejoin="round"/>
<polygon points="525.9,401.5 530.6,402.9 528.4,400.9 523.6,399.3" fill="#d7e0ef" stroke="#111" stroke-width="0.38" stroke-linejoin="round"/>
<polygon points="562.7,408.5 567.2,408.1 564.7,406.5 560.3,406.9" fill="#b9c9e3" stroke="#111" stroke-width="0.38" stroke-linejoin="round"/>
<polygon points="518.8,396.9 523.6,399.3 521.4,397.1 516.6,394.3" fill="#ffffff" stroke="#111" stroke-width="0.38" stroke-linejoin="round"/>
<polygon points="532.8,404.9 537.5,405.5 535.2,403.8 530.6,402.9" fill="#d7e0ef" stroke="#111" stroke-width="0.38" stroke-linejoin="round"/>
<polygon points="551.3,408.2 555.8,407.6 553.4,406.4 548.9,406.9" fill="#d7e0ef" stroke="#111" stroke-width="0.38" stroke-linejoin="round"/>
<polygon points="611.2,408.1 615.4,407.8 612.5,406.3 608.3,407.3" fill="#d7e0ef" stroke="#111" stroke-width="0.38" stroke-linejoin="round"/>
<polygon points="569.7,410.2 574.1,410.0 571.6,408.1 567.2,408.1" fill="#b9c9e3" stroke="#111" stroke-width="0.38" stroke-linejoin="round"/>
<polygon points="588.2,410.9 592.6,409.8 589.8,409.9 585.5,410.7" fill="#b9c9e3" stroke="#111" stroke-width="0.38" stroke-linejoin="round"/>
<polygon points="634.4,403.9 638.8,400.3 635.7,398.8 631.3,403.4" fill="#d7e0ef" stroke="#111" stroke-width="0.38" stroke-linejoin="round"/>
<polygon points="539.8,407.2 544.4,407.2 542.1,405.8 537.5,405.5" fill="#d7e0ef" stroke="#111" stroke-width="0.38" stroke-linejoin="round"/>
<polygon points="599.7,408.7 604.0,408.0 601.2,407.6 596.9,408.8" fill="#d7e0ef" stroke="#111" stroke-width="0.38" stroke-linejoin="round"/>
<polygon points="576.7,411.7 581.1,411.2 578.5,410.0 574.1,410.0" fill="#b9c9e3" stroke="#111" stroke-width="0.38" stroke-linejoin="round"/>
<polygon points="618.4,408.6 622.6,407.9 619.7,406.8 615.4,407.8" fill="#d7e0ef" stroke="#111" stroke-width="0.38" stroke-linejoin="round"/>
<polygon points="558.2,409.3 562.7,408.5 560.3,406.9 555.8,407.6" fill="#d7e0ef" stroke="#111" stroke-width="0.38" stroke-linejoin="round"/>
<polygon points="630.1,406.3 634.4,403.9 631.3,403.4 626.9,406.3" fill="#d7e0ef" stroke="#111" stroke-width="0.38" stroke-linejoin="round"/>
<polygon points="546.7,408.8 551.3,408.2 548.9,406.9 544.4,407.2" fill="#d7e0ef" stroke="#111" stroke-width="0.38" stroke-linejoin="round"/>
<polygon points="606.9,408.3 611.2,408.1 608.3,407.3 604.0,408.0" fill="#d7e0ef" stroke="#111" stroke-width="0.38" stroke-linejoin="round"/>
<polygon points="528.1,403.8 532.8,404.9 530.6,402.9 525.9,401.5" fill="#d7e0ef" stroke="#111" stroke-width="0.38" stroke-linejoin="round"/>
<polygon points="565.2,410.9 569.7,410.2 567.2,408.1 562.7,408.5" fill="#d7e0ef" stroke="#111" stroke-width="0.38" stroke-linejoin="round"/>
<polygon points="521.0,399.5 525.9,401.5 523.6,399.3 518.8,396.9" fill="#ffffff" stroke="#111" stroke-width="0.38" stroke-linejoin="round"/>
<polygon points="583.8,412.0 588.2,410.9 585.5,410.7 581.1,411.2" fill="#b9c9e3" stroke="#111" stroke-width="0.38" stroke-linejoin="round"/>
<polygon points="595.4,409.6 599.7,408.7 596.9,408.8 592.6,409.8" fill="#d7e0ef" stroke="#111" stroke-width="0.38" stroke-linejoin="round"/>
<polygon points="625.8,407.8 630.1,406.3 626.9,406.3 622.6,407.9" fill="#d7e0ef" stroke="#111" stroke-width="0.38" stroke-linejoin="round"/>
<polygon points="535.1,406.9 539.8,407.2 537.5,405.5 532.8,404.9" fill="#d7e0ef" stroke="#111" stroke-width="0.38" stroke-linejoin="round"/>
<polygon points="553.7,410.2 558.2,409.3 555.8,407.6 551.3,408.2" fill="#d7e0ef" stroke="#111" stroke-width="0.38" stroke-linejoin="round"/>
<polygon points="572.3,412.5 576.7,411.7 574.1,410.0 569.7,410.2" fill="#b9c9e3" stroke="#111" stroke-width="0.38" stroke-linejoin="round"/>
<polygon points="614.2,408.7 618.4,408.6 615.4,407.8 611.2,408.1" fill="#d7e0ef" stroke="#111" stroke-width="0.38" stroke-linejoin="round"/>
<polygon points="542.1,409.2 546.7,408.8 544.4,407.2 539.8,407.2" fill="#d7e0ef" stroke="#111" stroke-width="0.38" stroke-linejoin="round"/>
<polygon points="637.7,402.7 642.0,401.2 638.8,400.3 634.4,403.9" fill="#ffffff" stroke="#111" stroke-width="0.38" stroke-linejoin="round"/>
<polygon points="560.7,411.9 565.2,410.9 562.7,408.5 558.2,409.3" fill="#d7e0ef" stroke="#111" stroke-width="0.38" stroke-linejoin="round"/>
<polygon points="579.3,413.3 583.8,412.0 581.1,411.2 576.7,411.7" fill="#d7e0ef" stroke="#111" stroke-width="0.38" stroke-linejoin="round"/>
<polygon points="590.9,410.9 595.4,409.6 592.6,409.8 588.2,410.9" fill="#d7e0ef" stroke="#111" stroke-width="0.38" stroke-linejoin="round"/>
<polygon points="602.6,408.6 606.9,408.3 604.0,408.0 599.7,408.7" fill="#d7e0ef" stroke="#111" stroke-width="0.38" stroke-linejoin="round"/>
<polygon points="621.5,408.6 625.8,407.8 622.6,407.9 618.4,408.6" fill="#d7e0ef" stroke="#111" stroke-width="0.38" stroke-linejoin="round"/>
<polygon points="549.2,411.1 553.7,410.2 551.3,408.2 546.7,408.8" fill="#d7e0ef" stroke="#111" stroke-width="0.38" stroke-linejoin="round"/>
<polygon points="567.8,413.7 572.3,412.5 569.7,410.2 565.2,410.9" fill="#d7e0ef" stroke="#111" stroke-width="0.38" stroke-linejoin="round"/>
<polygon points="523.3,402.2 528.1,403.8 525.9,401.5 521.0,399.5" fill="#ffffff" stroke="#111" stroke-width="0.38" stroke-linejoin="round"/>
<polygon points="530.4,406.1 535.1,406.9 532.8,404.9 528.1,403.8" fill="#d7e0ef" stroke="#111" stroke-width="0.38" stroke-linejoin="round"/>
<polygon points="633.4,404.3 637.7,402.7 634.4,403.9 630.1,406.3" fill="#ffffff" stroke="#111" stroke-width="0.38" stroke-linejoin="round"/>
<polygon points="537.5,409.2 542.1,409.2 539.8,407.2 535.1,406.9" fill="#d7e0ef" stroke="#111" stroke-width="0.38" stroke-linejoin="round"/>
<polygon points="609.9,408.7 614.2,408.7 611.2,408.1 606.9,408.3" fill="#d7e0ef" stroke="#111" stroke-width="0.38" stroke-linejoin="round"/>
<polygon points="556.2,413.1 560.7,411.9 558.2,409.3 553.7,410.2" fill="#d7e0ef" stroke="#111" stroke-width="0.38" stroke-linejoin="round"/>
<polygon points="574.9,414.9 579.3,413.3 576.7,411.7 572.3,412.5" fill="#d7e0ef" stroke="#111" stroke-width="0.38" stroke-linejoin="round"/>
<polygon points="586.5,412.7 590.9,410.9 588.2,410.9 583.8,412.0" fill="#d7e0ef" stroke="#111" stroke-width="0.38" stroke-linejoin="round"/>
<polygon points="598.2,409.4 602.6,408.6 599.7,408.7 595.4,409.6" fill="#d7e0ef" stroke="#111" stroke-width="0.38" stroke-linejoin="round"/>
<polygon points="544.5,411.7 549.2,411.1 546.7,408.8 542.1,409.2" fill="#d7e0ef" stroke="#111" stroke-width="0.38" stroke-linejoin="round"/>
<polygon points="563.3,415.2 567.8,413.7 565.2,410.9 560.7,411.9" fill="#d7e0ef" stroke="#111" stroke-width="0.38" stroke-linejoin="round"/>
<polygon points="617.2,409.0 621.5,408.6 618.4,408.6 614.2,408.7" fill="#d7e0ef" stroke="#111" stroke-width="0.38" stroke-linejoin="round"/>
<polygon points="629.1,405.9 633.4,404.3 630.1,406.3 625.8,407.8" fill="#ffffff" stroke="#111" stroke-width="0.38" stroke-linejoin="round"/>
<polygon points="551.6,414.2 556.2,413.1 553.7,410.2 549.2,411.1" fill="#d7e0ef" stroke="#111" stroke-width="0.38" stroke-linejoin="round"/>
<polygon points="570.4,416.8 574.9,414.9 572.3,412.5 567.8,413.7" fill="#d7e0ef" stroke="#111" stroke-width="0.38" stroke-linejoin="round"/>
<polygon points="582.0,414.8 586.5,412.7 583.8,412.0 579.3,413.3" fill="#d7e0ef" stroke="#111" stroke-width="0.38" stroke-linejoin="round"/>
<polygon points="525.6,404.9 530.4,406.1 528.1,403.8 523.3,402.2" fill="#ffffff" stroke="#111" stroke-width="0.38" stroke-linejoin="round"/>
<polygon points="532.7,408.7 537.5,409.2 535.1,406.9 530.4,406.1" fill="#d7e0ef" stroke="#111" stroke-width="0.38" stroke-linejoin="round"/>
<polygon points="558.7,416.7 563.3,415.2 560.7,411.9 556.2,413.1" fill="#d7e0ef" stroke="#111" stroke-width="0.38" stroke-linejoin="round"/>
<polygon points="605.5,408.9 609.9,408.7 606.9,408.3 602.6,408.6" fill="#d7e0ef" stroke="#111" stroke-width="0.38" stroke-linejoin="round"/>
<polygon points="593.8,411.1 598.2,409.4 595.4,409.6 590.9,410.9" fill="#d7e0ef" stroke="#111" stroke-width="0.38" stroke-linejoin="round"/>
<polygon points="539.9,412.0 544.5,411.7 542.1,409.2 537.5,409.2" fill="#d7e0ef" stroke="#111" stroke-width="0.38" stroke-linejoin="round"/>
<polygon points="577.5,417.2 582.0,414.8 579.3,413.3 574.9,414.9" fill="#d7e0ef" stroke="#111" stroke-width="0.38" stroke-linejoin="round"/>
<polygon points="565.8,418.7 570.4,416.8 567.8,413.7 563.3,415.2" fill="#d7e0ef" stroke="#111" stroke-width="0.38" stroke-linejoin="round"/>
<polygon points="624.7,407.4 629.1,405.9 625.8,407.8 621.5,408.6" fill="#ffffff" stroke="#111" stroke-width="0.38" stroke-linejoin="round"/>
<polygon points="547.0,415.0 551.6,414.2 549.2,411.1 544.5,411.7" fill="#d7e0ef" stroke="#111" stroke-width="0.38" stroke-linejoin="round"/>
<polygon points="612.9,409.4 617.2,409.0 614.2,408.7 609.9,408.7" fill="#d7e0ef" stroke="#111" stroke-width="0.38" stroke-linejoin="round"/>
<polygon points="554.1,418.0 558.7,416.7 556.2,413.1 551.6,414.2" fill="#d7e0ef" stroke="#111" stroke-width="0.38" stroke-linejoin="round"/>
<polygon points="589.3,413.4 593.8,411.1 590.9,410.9 586.5,412.7" fill="#d7e0ef" stroke="#111" stroke-width="0.38" stroke-linejoin="round"/>
<polygon points="573.0,419.6 577.5,417.2 574.9,414.9 570.4,416.8" fill="#d7e0ef" stroke="#111" stroke-width="0.38" stroke-linejoin="round"/>
<polygon points="561.3,420.5 565.8,418.7 563.3,415.2 558.7,416.7" fill="#d7e0ef" stroke="#111" stroke-width="0.38" stroke-linejoin="round"/>
<polygon points="601.1,409.8 605.5,408.9 602.6,408.6 598.2,409.4" fill="#ffffff" stroke="#111" stroke-width="0.38" stroke-linejoin="round"/>
<polygon points="527.9,407.7 532.7,408.7 530.4,406.1 525.6,404.9" fill="#ffffff" stroke="#111" stroke-width="0.38" stroke-linejoin="round"/>
<polygon points="535.1,411.6 539.9,412.0 537.5,409.2 532.7,408.7" fill="#d7e0ef" stroke="#111" stroke-width="0.38" stroke-linejoin="round"/>
<polygon points="620.3,409.0 624.7,407.4 621.5,408.6 617.2,409.0" fill="#ffffff" stroke="#111" stroke-width="0.38" stroke-linejoin="round"/>
<polygon points="584.7,416.1 589.3,413.4 586.5,412.7 582.0,414.8" fill="#d7e0ef" stroke="#111" stroke-width="0.38" stroke-linejoin="round"/>
<polygon points="542.3,415.3 547.0,415.0 544.5,411.7 539.9,412.0" fill="#d7e0ef" stroke="#111" stroke-width="0.38" stroke-linejoin="round"/>
<polygon points="568.4,422.0 573.0,419.6 570.4,416.8 565.8,418.7" fill="#d7e0ef" stroke="#111" stroke-width="0.38" stroke-linejoin="round"/>
<polygon points="549.5,418.9 554.1,418.0 551.6,414.2 547.0,415.0" fill="#d7e0ef" stroke="#111" stroke-width="0.38" stroke-linejoin="round"/>
<polygon points="556.7,422.0 561.3,420.5 558.7,416.7 554.1,418.0" fill="#d7e0ef" stroke="#111" stroke-width="0.38" stroke-linejoin="round"/>
<polygon points="608.5,410.0 612.9,409.4 609.9,408.7 605.5,408.9" fill="#ffffff" stroke="#111" stroke-width="0.38" stroke-linejoin="round"/>
<polygon points="580.2,419.1 584.7,416.1 582.0,414.8 577.5,417.2" fill="#d7e0ef" stroke="#111" stroke-width="0.38" stroke-linejoin="round"/>
<polygon points="596.6,411.6 601.1,409.8 598.2,409.4 593.8,411.1" fill="#ffffff" stroke="#111" stroke-width="0.38" stroke-linejoin="round"/>
<polygon points="563.9,424.1 568.4,422.0 565.8,418.7 561.3,420.5" fill="#d7e0ef" stroke="#111" stroke-width="0.38" stroke-linejoin="round"/>
<polygon points="575.6,422.0 580.2,419.1 577.5,417.2 573.0,419.6" fill="#d7e0ef" stroke="#111" stroke-width="0.38" stroke-linejoin="round"/>
<polygon points="615.9,410.6 620.3,409.0 617.2,409.0 612.9,409.4" fill="#ffffff" stroke="#111" stroke-width="0.38" stroke-linejoin="round"/>
<polygon points="544.8,419.0 549.5,418.9 547.0,415.0 542.3,415.3" fill="#d7e0ef" stroke="#111" stroke-width="0.38" stroke-linejoin="round"/>
<polygon points="537.5,414.8 542.3,415.3 539.9,412.0 535.1,411.6" fill="#d7e0ef" stroke="#111" stroke-width="0.38" stroke-linejoin="round"/>
<polygon points="530.2,410.5 535.1,411.6 532.7,408.7 527.9,407.7" fill="#ffffff" stroke="#111" stroke-width="0.38" stroke-linejoin="round"/>
<polygon points="552.0,422.8 556.7,422.0 554.1,418.0 549.5,418.9" fill="#d7e0ef" stroke="#111" stroke-width="0.38" stroke-linejoin="round"/>
<polygon points="592.1,414.2 596.6,411.6 593.8,411.1 589.3,413.4" fill="#d7e0ef" stroke="#111" stroke-width="0.38" stroke-linejoin="round"/>
<polygon points="559.2,425.6 563.9,424.1 561.3,420.5 556.7,422.0" fill="#b9c9e3" stroke="#111" stroke-width="0.38" stroke-linejoin="round"/>
<polygon points="571.1,424.6 575.6,422.0 573.0,419.6 568.4,422.0" fill="#d7e0ef" stroke="#111" stroke-width="0.38" stroke-linejoin="round"/>
<polygon points="604.0,411.1 608.5,410.0 605.5,408.9 601.1,409.8" fill="#ffffff" stroke="#111" stroke-width="0.38" stroke-linejoin="round"/>
<polygon points="587.5,417.3 592.1,414.2 589.3,413.4 584.7,416.1" fill="#d7e0ef" stroke="#111" stroke-width="0.38" stroke-linejoin="round"/>
<polygon points="566.5,426.8 571.1,424.6 568.4,422.0 563.9,424.1" fill="#b9c9e3" stroke="#111" stroke-width="0.38" stroke-linejoin="round"/>
<polygon points="611.4,412.2 615.9,410.6 612.9,409.4 608.5,410.0" fill="#ffffff" stroke="#111" stroke-width="0.38" stroke-linejoin="round"/>
<polygon points="582.9,420.4 587.5,417.3 584.7,416.1 580.2,419.1" fill="#d7e0ef" stroke="#111" stroke-width="0.38" stroke-linejoin="round"/>
<polygon points="547.3,422.8 552.0,422.8 549.5,418.9 544.8,419.0" fill="#d7e0ef" stroke="#111" stroke-width="0.38" stroke-linejoin="round"/>
<polygon points="554.6,426.4 559.2,425.6 556.7,422.0 552.0,422.8" fill="#d7e0ef" stroke="#111" stroke-width="0.38" stroke-linejoin="round"/>
<polygon points="540.0,418.2 544.8,419.0 542.3,415.3 537.5,414.8" fill="#d7e0ef" stroke="#111" stroke-width="0.38" stroke-linejoin="round"/>
<polygon points="599.5,413.0 604.0,411.1 601.1,409.8 596.6,411.6" fill="#ffffff" stroke="#111" stroke-width="0.38" stroke-linejoin="round"/>
<polygon points="532.6,413.3 537.5,414.8 535.1,411.6 530.2,410.5" fill="#ffffff" stroke="#111" stroke-width="0.38" stroke-linejoin="round"/>
<polygon points="578.3,423.4 582.9,420.4 580.2,419.1 575.6,422.0" fill="#d7e0ef" stroke="#111" stroke-width="0.38" stroke-linejoin="round"/>
<polygon points="561.8,428.4 566.5,426.8 563.9,424.1 559.2,425.6" fill="#b9c9e3" stroke="#111" stroke-width="0.38" stroke-linejoin="round"/>
<polygon points="573.7,426.1 578.3,423.4 575.6,422.0 571.1,424.6" fill="#d7e0ef" stroke="#111" stroke-width="0.38" stroke-linejoin="round"/>
<polygon points="606.9,413.8 611.4,412.2 608.5,410.0 604.0,411.1" fill="#ffffff" stroke="#111" stroke-width="0.38" stroke-linejoin="round"/>
<polygon points="594.9,415.4 599.5,413.0 596.6,411.6 592.1,414.2" fill="#ffffff" stroke="#111" stroke-width="0.38" stroke-linejoin="round"/>
<polygon points="549.8,426.2 554.6,426.4 552.0,422.8 547.3,422.8" fill="#d7e0ef" stroke="#111" stroke-width="0.38" stroke-linejoin="round"/>
<polygon points="557.1,429.3 561.8,428.4 559.2,425.6 554.6,426.4" fill="#d7e0ef" stroke="#111" stroke-width="0.38" stroke-linejoin="round"/>
<polygon points="542.5,421.6 547.3,422.8 544.8,419.0 540.0,418.2" fill="#d7e0ef" stroke="#111" stroke-width="0.38" stroke-linejoin="round"/>
<polygon points="569.1,428.3 573.7,426.1 571.1,424.6 566.5,426.8" fill="#d7e0ef" stroke="#111" stroke-width="0.38" stroke-linejoin="round"/>
<polygon points="590.3,418.1 594.9,415.4 592.1,414.2 587.5,417.3" fill="#ffffff" stroke="#111" stroke-width="0.38" stroke-linejoin="round"/>
<polygon points="535.1,416.1 540.0,418.2 537.5,414.8 532.6,413.3" fill="#ffffff" stroke="#111" stroke-width="0.38" stroke-linejoin="round"/>
<polygon points="602.4,415.5 606.9,413.8 604.0,411.1 599.5,413.0" fill="#ffffff" stroke="#111" stroke-width="0.38" stroke-linejoin="round"/>
<polygon points="585.7,420.9 590.3,418.1 587.5,417.3 582.9,420.4" fill="#d7e0ef" stroke="#111" stroke-width="0.38" stroke-linejoin="round"/>
<polygon points="564.4,430.0 569.1,428.3 566.5,426.8 561.8,428.4" fill="#d7e0ef" stroke="#111" stroke-width="0.38" stroke-linejoin="round"/>
<polygon points="581.1,423.6 585.7,420.9 582.9,420.4 578.3,423.4" fill="#d7e0ef" stroke="#111" stroke-width="0.38" stroke-linejoin="round"/>
<polygon points="552.4,429.1 557.1,429.3 554.6,426.4 549.8,426.2" fill="#d7e0ef" stroke="#111" stroke-width="0.38" stroke-linejoin="round"/>
<polygon points="597.8,417.1 602.4,415.5 599.5,413.0 594.9,415.4" fill="#ffffff" stroke="#111" stroke-width="0.38" stroke-linejoin="round"/>
<polygon points="545.0,424.9 549.8,426.2 547.3,422.8 542.5,421.6" fill="#d7e0ef" stroke="#111" stroke-width="0.38" stroke-linejoin="round"/>
<polygon points="576.4,426.0 581.1,423.6 578.3,423.4 573.7,426.1" fill="#d7e0ef" stroke="#111" stroke-width="0.38" stroke-linejoin="round"/>
<polygon points="559.7,430.9 564.4,430.0 561.8,428.4 557.1,429.3" fill="#d7e0ef" stroke="#111" stroke-width="0.38" stroke-linejoin="round"/>
<polygon points="537.5,419.1 542.5,421.6 540.0,418.2 535.1,416.1" fill="#ffffff" stroke="#111" stroke-width="0.38" stroke-linejoin="round"/>
<polygon points="593.2,418.7 597.8,417.1 594.9,415.4 590.3,418.1" fill="#ffffff" stroke="#111" stroke-width="0.38" stroke-linejoin="round"/>
<polygon points="571.8,428.1 576.4,426.0 573.7,426.1 569.1,428.3" fill="#d7e0ef" stroke="#111" stroke-width="0.38" stroke-linejoin="round"/>
<polygon points="547.5,427.8 552.4,429.1 549.8,426.2 545.0,424.9" fill="#d7e0ef" stroke="#111" stroke-width="0.38" stroke-linejoin="round"/>
<polygon points="588.6,420.4 593.2,418.7 590.3,418.1 585.7,420.9" fill="#ffffff" stroke="#111" stroke-width="0.38" stroke-linejoin="round"/>
<polygon points="554.9,431.0 559.7,430.9 557.1,429.3 552.4,429.1" fill="#d7e0ef" stroke="#111" stroke-width="0.38" stroke-linejoin="round"/>
<polygon points="567.1,429.8 571.8,428.1 569.1,428.3 564.4,430.0" fill="#d7e0ef" stroke="#111" stroke-width="0.38" stroke-linejoin="round"/>
<polygon points="540.0,422.0 545.0,424.9 542.5,421.6 537.5,419.1" fill="#ffffff" stroke="#111" stroke-width="0.38" stroke-linejoin="round"/>
<polygon points="583.9,422.1 588.6,420.4 585.7,420.9 581.1,423.6" fill="#ffffff" stroke="#111" stroke-width="0.38" stroke-linejoin="round"/>
<polygon points="562.3,431.0 567.1,429.8 564.4,430.0 559.7,430.9" fill="#d7e0ef" stroke="#111" stroke-width="0.38" stroke-linejoin="round"/>
<polygon points="579.2,423.8 583.9,422.1 581.1,423.6 576.4,426.0" fill="#ffffff" stroke="#111" stroke-width="0.38" stroke-linejoin="round"/>
<polygon points="550.1,430.1 554.9,431.0 552.4,429.1 547.5,427.8" fill="#d7e0ef" stroke="#111" stroke-width="0.38" stroke-linejoin="round"/>
<polygon points="542.5,425.0 547.5,427.8 545.0,424.9 540.0,422.0" fill="#ffffff" stroke="#111" stroke-width="0.38" stroke-linejoin="round"/>
<polygon points="557.5,431.7 562.3,431.0 559.7,430.9 554.9,431.0" fill="#d7e0ef" stroke="#111" stroke-width="0.38" stroke-linejoin="round"/>
<polygon points="574.5,425.5 579.2,423.8 576.4,426.0 571.8,428.1" fill="#ffffff" stroke="#111" stroke-width="0.38" stroke-linejoin="round"/>
<polygon points="569.7,427.2 574.5,425.5 571.8,428.1 567.1,429.8" fill="#ffffff" stroke="#111" stroke-width="0.38" stroke-linejoin="round"/>
<polygon points="545.1,428.0 550.1,430.1 547.5,427.8 542.5,425.0" fill="#ffffff" stroke="#111" stroke-width="0.38" stroke-linejoin="round"/>
<polygon points="552.6,431.7 557.5,431.7 554.9,431.0 550.1,430.1" fill="#d7e0ef" stroke="#111" stroke-width="0.38" stroke-linejoin="round"/>
<polygon points="564.9,428.9 569.7,427.2 567.1,429.8 562.3,431.0" fill="#ffffff" stroke="#111" stroke-width="0.38" stroke-linejoin="round"/>
<polygon points="560.1,430.7 564.9,428.9 562.3,431.0 557.5,431.7" fill="#ffffff" stroke="#111" stroke-width="0.38" stroke-linejoin="round"/>
<polygon points="547.7,431.1 552.6,431.7 550.1,430.1 545.1,428.0" fill="#ffffff" stroke="#111" stroke-width="0.38" stroke-linejoin="round"/>
<polygon points="555.2,432.4 560.1,430.7 557.5,431.7 552.6,431.7" fill="#ffffff" stroke="#111" stroke-width="0.38" stroke-linejoin="round"/>
<polygon points="550.3,434.2 555.2,432.4 552.6,431.7 547.7,431.1" fill="#ffffff" stroke="#111" stroke-width="0.38" stroke-linejoin="round"/>
<line x1="549.83" y1="476.29" x2="546.74" y2="381.60" stroke="#444" stroke-width="0.7"/>
<line x1="490.68" y1="327.36" x2="494.28" y2="327.36" stroke="#444" stroke-width="0.7"/>
<text x="485.08" y="329.46" font-size="6" text-anchor="middle" fill="#4a4646">15</text>
<line x1="492.33" y1="345.12" x2="495.93" y2="345.12" stroke="#444" stroke-width="0.7"/>
<text x="486.73" y="347.22" font-size="6" text-anchor="middle" fill="#4a4646">10</text>
<line x1="493.90" y1="362.15" x2="497.50" y2="362.15" stroke="#444" stroke-width="0.7"/>
<text x="488.30" y="364.25" font-size="6" text-anchor="middle" fill="#4a4646">5</text>
<line x1="495.41" y1="378.49" x2="499.01" y2="378.49" stroke="#444" stroke-width="0.7"/>
<text x="489.81" y="380.59" font-size="6" text-anchor="middle" fill="#4a4646">0</text>
<line x1="496.87" y1="394.19" x2="500.47" y2="394.19" stroke="#444" stroke-width="0.7"/>
<text x="491.27" y="396.29" font-size="6" text-anchor="middle" fill="#4a4646">-5</text>
<line x1="498.26" y1="409.28" x2="501.86" y2="409.28" stroke="#444" stroke-width="0.7"/>
<text x="492.66" y="411.38" font-size="6" text-anchor="middle" fill="#4a4646">-10</text>
<line x1="547.93" y1="473.84" x2="545.03" y2="476.74" stroke="#444" stroke-width="0.7"/>
<text x="541.73" y="485.54" font-size="6" text-anchor="middle" fill="#4a4646">0</text>
<line x1="538.18" y1="461.18" x2="535.28" y2="464.08" stroke="#444" stroke-width="0.7"/>
<text x="531.98" y="472.46" font-size="6" text-anchor="middle" fill="#4a4646">0.32</text>
<line x1="528.93" y1="449.17" x2="526.03" y2="452.07" stroke="#444" stroke-width="0.7"/>
<text x="522.73" y="460.03" font-size="6" text-anchor="middle" fill="#4a4646">1.6</text>
<line x1="520.14" y1="437.76" x2="517.24" y2="440.66" stroke="#444" stroke-width="0.7"/>
<text x="513.94" y="448.20" font-size="6" text-anchor="middle" fill="#4a4646">8</text>
<line x1="511.78" y1="426.91" x2="508.88" y2="429.81" stroke="#444" stroke-width="0.7"/>
<text x="505.58" y="436.93" font-size="6" text-anchor="middle" fill="#4a4646">40</text>
<line x1="503.82" y1="416.58" x2="500.92" y2="419.48" stroke="#444" stroke-width="0.7"/>
<text x="497.62" y="426.18" font-size="6" text-anchor="middle" fill="#4a4646">200</text>
<line x1="553.37" y1="474.91" x2="554.27" y2="479.11" stroke="#444" stroke-width="0.7"/>
<text x="556.97" y="489.01" font-size="6" text-anchor="middle" fill="#4a4646">0</text>
<line x1="571.86" y1="467.66" x2="572.76" y2="471.86" stroke="#444" stroke-width="0.7"/>
<text x="575.46" y="481.20" font-size="6" text-anchor="middle" fill="#4a4646">7.81</text>
<line x1="589.83" y1="460.61" x2="590.73" y2="464.81" stroke="#444" stroke-width="0.7"/>
<text x="593.43" y="473.59" font-size="6" text-anchor="middle" fill="#4a4646">31.25</text>
<line x1="607.31" y1="453.76" x2="608.21" y2="457.96" stroke="#444" stroke-width="0.7"/>
<text x="610.91" y="466.18" font-size="6" text-anchor="middle" fill="#4a4646">125</text>
<line x1="624.31" y1="447.10" x2="625.21" y2="451.30" stroke="#444" stroke-width="0.7"/>
<text x="627.91" y="458.96" font-size="6" text-anchor="middle" fill="#4a4646">500</text>
<line x1="640.85" y1="440.62" x2="641.75" y2="444.82" stroke="#444" stroke-width="0.7"/>
<text x="644.45" y="451.92" font-size="6" text-anchor="middle" fill="#4a4646">2000</text>
<text x="511.50" y="461.70" font-size="6.4" text-anchor="middle" fill="#4a4646" transform="rotate(52 511.50 461.70)">mebendazole (nM)</text>
<text x="607.70" y="480.70" font-size="5.8" text-anchor="middle" fill="#4a4646" transform="rotate(-22 607.70 480.70)">artesunate (nM)</text>
<text x="482.40" y="369.50" font-size="5.8" text-anchor="middle" fill="#4a4646" transform="rotate(-90 482.40 369.50)">Synergy Score</text>
<text x="683.55" y="341.80" font-size="5.3" text-anchor="middle" fill="#333">Synergy Score</text>
<rect x="678.10" y="348.60" width="10.90" height="2.82" fill="#b4202c"/>
<rect x="678.10" y="351.12" width="10.90" height="5.33" fill="#bd3c46"/>
<rect x="678.10" y="356.15" width="10.90" height="5.33" fill="#c75861"/>
<rect x="678.10" y="361.18" width="10.90" height="5.33" fill="#d0747b"/>
<rect x="678.10" y="366.21" width="10.90" height="5.33" fill="#da9096"/>
<rect x="678.10" y="371.24" width="10.90" height="5.33" fill="#e3abb0"/>
<rect x="678.10" y="376.27" width="10.90" height="5.33" fill="#ecc7ca"/>
<rect x="678.10" y="381.30" width="10.90" height="5.33" fill="#f6e3e5"/>
<rect x="678.10" y="386.33" width="10.90" height="5.33" fill="#ffffff"/>
<rect x="678.10" y="391.37" width="10.90" height="5.33" fill="#e4ebf4"/>
<rect x="678.10" y="396.40" width="10.90" height="5.33" fill="#cad6ea"/>
<rect x="678.10" y="401.43" width="10.90" height="5.33" fill="#afc2df"/>
<rect x="678.10" y="406.46" width="10.90" height="5.33" fill="#94aed4"/>
<rect x="678.10" y="411.49" width="10.90" height="5.33" fill="#7a99ca"/>
<rect x="678.10" y="416.52" width="10.90" height="5.33" fill="#5f85bf"/>
<rect x="678.10" y="421.55" width="10.90" height="5.33" fill="#4570b5"/>
<rect x="678.10" y="426.58" width="10.90" height="2.82" fill="#2a5caa"/>
<text x="694.50" y="354.12" font-size="6" fill="#333">15</text>
<text x="694.50" y="366.69" font-size="6" fill="#333">10</text>
<text x="694.50" y="379.27" font-size="6" fill="#333">5</text>
<text x="694.50" y="391.85" font-size="6" fill="#333">0</text>
<text x="694.50" y="404.43" font-size="6" fill="#333">-5</text>
<text x="694.50" y="417.01" font-size="6" fill="#333">-10</text>
<text x="694.50" y="429.58" font-size="6" fill="#333">-15</text>
</svg></body></html>
